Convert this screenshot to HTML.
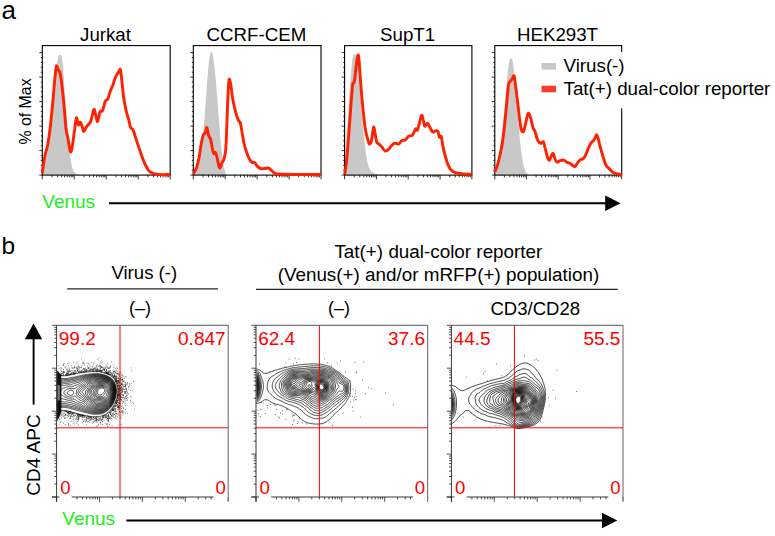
<!DOCTYPE html>
<html><head><meta charset="utf-8"><title>figure</title>
<style>html,body{margin:0;padding:0;background:#fff;}body{width:775px;height:536px;overflow:hidden;font-family:"Liberation Sans",sans-serif;}svg{display:block;}text{font-family:"Liberation Sans",sans-serif;}</style></head><body>
<svg width="775" height="536" viewBox="0 0 775 536">
<rect width="775" height="536" fill="#fff"/>
<text x="1.5" y="19" font-size="26" fill="#000">a</text>
<text x="1.5" y="253.5" font-size="24.5" fill="#000">b</text>
<text x="105.5" y="41.4" font-size="18.7" text-anchor="middle" fill="#000">Jurkat</text>
<path d="M42.3,175.0C42.5,173.4 43.1,169.6 43.8,165.4C44.5,161.2 45.6,155.4 46.4,149.7C47.3,144.0 48.2,137.9 49.1,131.4C49.9,124.9 50.8,117.9 51.7,110.5C52.5,103.1 53.5,94.0 54.3,87.0C55.1,80.0 55.7,73.7 56.4,68.7C57.0,63.7 57.6,59.3 58.2,57.0C58.8,54.7 59.5,55.0 60.0,54.9C60.6,54.8 61.1,53.9 61.6,56.2C62.1,58.5 62.6,62.7 63.2,68.7C63.7,74.7 64.1,84.0 64.7,92.2C65.3,100.5 66.1,109.7 66.8,118.4C67.5,127.1 68.2,137.3 68.9,144.5C69.6,151.7 70.3,157.2 71.0,161.5C71.7,165.7 72.3,168.1 73.1,170.1C73.9,172.1 74.7,172.6 75.7,173.5C76.7,174.3 78.3,174.8 78.8,175.0Z" fill="#c8c8c8" stroke="none"/>
<path d="M39.3,175.1h3.0M40.8,170.2h1.5M40.8,165.3h1.5M40.8,160.4h1.5M40.8,155.5h1.5M39.3,150.6h3.0M40.8,145.7h1.5M40.8,140.8h1.5M40.8,135.9h1.5M40.8,131.0h1.5M39.3,126.1h3.0M40.8,121.2h1.5M40.8,116.3h1.5M40.8,111.4h1.5M40.8,106.5h1.5M39.3,101.6h3.0M40.8,96.7h1.5M40.8,91.8h1.5M40.8,86.9h1.5M40.8,82.0h1.5M39.3,77.1h3.0M40.8,72.2h1.5M40.8,67.3h1.5M40.8,62.4h1.5M40.8,57.5h1.5M39.3,52.6h3.0M42.3,175.1v4.3M51.9,175.1v2.2M57.6,175.1v2.2M61.6,175.1v2.2M64.6,175.1v2.2M67.2,175.1v2.2M69.3,175.1v2.2M71.2,175.1v2.2M72.8,175.1v2.2M74.3,175.1v4.3M83.9,175.1v2.2M89.5,175.1v2.2M93.5,175.1v2.2M96.6,175.1v2.2M99.2,175.1v2.2M101.3,175.1v2.2M103.2,175.1v2.2M104.8,175.1v2.2M106.2,175.1v4.3M115.9,175.1v2.2M121.5,175.1v2.2M125.5,175.1v2.2M128.6,175.1v2.2M131.1,175.1v2.2M133.3,175.1v2.2M135.1,175.1v2.2M136.8,175.1v2.2M138.2,175.1v4.3M147.9,175.1v2.2M153.5,175.1v2.2M157.5,175.1v2.2M160.6,175.1v2.2M163.1,175.1v2.2M165.2,175.1v2.2M167.1,175.1v2.2M168.7,175.1v2.2M170.2,175.1v4.3" stroke="#111" stroke-width="0.85" fill="none"/>
<rect x="42.3" y="45.6" width="127.9" height="129.5" fill="none" stroke="#000" stroke-width="1.1"/>
<path d="M42.3,173.2C42.7,170.2 44.2,159.7 45.1,154.9C46.1,150.1 46.9,149.3 47.8,144.5C48.6,139.7 49.5,133.6 50.4,126.2C51.2,118.8 52.2,107.9 53.0,100.1C53.7,92.2 54.2,84.8 54.8,79.2C55.4,73.5 55.8,67.6 56.4,66.1C56.9,64.6 57.6,68.9 58.2,70.0C58.8,71.1 59.4,69.8 60.0,72.6C60.7,75.5 61.4,81.1 62.1,87.0C62.8,92.9 63.6,100.9 64.2,107.9C64.9,114.9 65.4,123.8 66.0,128.8C66.6,133.8 67.1,134.1 67.9,137.9C68.6,141.8 69.7,150.7 70.5,151.8C71.3,152.9 71.9,148.3 72.6,144.5C73.3,140.6 74.0,133.2 74.7,128.8C75.3,124.4 75.9,118.5 76.5,117.8C77.1,117.2 77.7,124.1 78.3,124.9C79.0,125.6 79.7,121.8 80.4,122.3C81.1,122.7 81.9,126.0 82.5,127.5C83.1,129.0 83.1,131.6 83.8,131.4C84.5,131.2 85.8,127.7 86.9,126.2C88.0,124.7 89.5,124.0 90.3,122.3C91.2,120.5 91.5,117.9 92.2,115.7C92.8,113.6 93.4,109.4 94.0,109.2C94.6,109.0 94.9,112.4 95.6,114.4C96.2,116.5 96.9,121.9 97.6,121.5C98.4,121.1 99.2,113.7 100.0,111.8C100.8,110.0 101.7,112.3 102.6,110.5C103.5,108.8 104.3,103.3 105.2,101.4C106.1,99.4 107.0,100.5 107.8,98.8C108.7,97.0 109.6,93.3 110.4,90.9C111.3,88.5 112.2,86.8 113.1,84.4C113.9,82.0 114.8,78.5 115.7,76.6C116.5,74.6 117.5,73.8 118.3,72.6C119.1,71.5 119.8,68.4 120.4,69.5C120.9,70.6 121.1,74.7 121.7,79.2C122.2,83.6 122.8,90.9 123.5,96.2C124.2,101.4 125.2,106.6 126.1,110.5C127.0,114.4 128.0,116.8 128.7,119.7C129.5,122.5 129.8,125.8 130.6,127.5C131.3,129.2 132.2,127.9 133.2,130.1C134.2,132.3 135.3,136.9 136.6,140.6C137.8,144.3 139.2,148.6 140.5,152.3C141.8,156.0 143.1,159.8 144.4,162.8C145.7,165.7 147.0,168.3 148.3,170.1C149.6,171.8 150.5,172.5 152.2,173.2C154.0,173.9 155.8,174.3 158.8,174.5C161.7,174.7 168.1,174.5 170.0,174.5" fill="none" stroke="#ff2200" stroke-width="2.9" stroke-linejoin="round" stroke-linecap="butt"/>
<text x="256.4" y="41.4" font-size="18.7" text-anchor="middle" fill="#000">CCRF-CEM</text>
<path d="M193.3,175.0C193.8,174.1 195.3,173.1 196.4,169.3C197.6,165.5 199.1,159.5 200.4,152.3C201.6,145.1 202.8,136.2 203.8,126.2C204.8,116.2 205.6,102.3 206.4,92.2C207.2,82.2 207.9,72.4 208.5,66.1C209.1,59.8 209.6,56.7 210.0,54.4C210.5,52.1 210.9,52.3 211.3,52.3C211.8,52.3 212.1,51.6 212.6,54.4C213.2,57.1 214.0,62.4 214.7,68.7C215.4,75.0 216.1,84.0 216.8,92.2C217.5,100.5 218.2,109.7 218.9,118.4C219.6,127.1 220.3,137.1 221.0,144.5C221.7,151.9 222.4,158.2 223.1,162.8C223.8,167.3 224.6,169.9 225.2,171.9C225.8,173.9 226.5,174.5 226.7,175.0Z" fill="#c8c8c8" stroke="none"/>
<path d="M190.3,175.1h3.0M191.8,170.2h1.5M191.8,165.3h1.5M191.8,160.4h1.5M191.8,155.5h1.5M190.3,150.6h3.0M191.8,145.7h1.5M191.8,140.8h1.5M191.8,135.9h1.5M191.8,131.0h1.5M190.3,126.1h3.0M191.8,121.2h1.5M191.8,116.3h1.5M191.8,111.4h1.5M191.8,106.5h1.5M190.3,101.6h3.0M191.8,96.7h1.5M191.8,91.8h1.5M191.8,86.9h1.5M191.8,82.0h1.5M190.3,77.1h3.0M191.8,72.2h1.5M191.8,67.3h1.5M191.8,62.4h1.5M191.8,57.5h1.5M190.3,52.6h3.0M193.3,175.1v4.3M202.9,175.1v2.2M208.5,175.1v2.2M212.5,175.1v2.2M215.6,175.1v2.2M218.1,175.1v2.2M220.3,175.1v2.2M222.1,175.1v2.2M223.8,175.1v2.2M225.2,175.1v4.3M234.8,175.1v2.2M240.5,175.1v2.2M244.4,175.1v2.2M247.5,175.1v2.2M250.1,175.1v2.2M252.2,175.1v2.2M254.1,175.1v2.2M255.7,175.1v2.2M257.1,175.1v4.3M266.8,175.1v2.2M272.4,175.1v2.2M276.4,175.1v2.2M279.5,175.1v2.2M282.0,175.1v2.2M284.1,175.1v2.2M286.0,175.1v2.2M287.6,175.1v2.2M289.1,175.1v4.3M298.7,175.1v2.2M304.3,175.1v2.2M308.3,175.1v2.2M311.4,175.1v2.2M313.9,175.1v2.2M316.1,175.1v2.2M317.9,175.1v2.2M319.5,175.1v2.2M321.0,175.1v4.3" stroke="#111" stroke-width="0.85" fill="none"/>
<rect x="193.3" y="45.6" width="127.7" height="129.5" fill="none" stroke="#000" stroke-width="1.1"/>
<path d="M193.3,173.7C193.8,172.8 195.5,170.7 196.4,168.0C197.4,165.3 198.3,161.5 199.1,157.5C199.8,153.6 200.5,148.2 201.1,144.5C201.8,140.8 202.5,137.3 203.2,135.3C203.9,133.4 204.7,134.0 205.3,132.7C205.9,131.4 206.4,127.1 206.9,127.5C207.4,127.9 207.9,133.4 208.5,135.3C209.1,137.3 209.9,137.3 210.6,139.3C211.2,141.2 211.6,144.7 212.1,147.1C212.6,149.5 213.2,152.7 213.7,153.6C214.2,154.5 214.7,151.9 215.3,152.3C215.8,152.7 216.3,154.3 216.8,156.2C217.3,158.2 217.9,162.1 218.4,164.1C218.9,166.0 219.3,168.2 220.0,168.0C220.6,167.8 221.3,164.3 222.0,162.8C222.7,161.2 223.5,161.0 224.1,158.8C224.7,156.7 225.3,154.7 225.7,149.7C226.1,144.7 226.4,137.1 226.7,128.8C227.1,120.5 227.4,107.9 227.8,100.1C228.1,92.2 228.5,85.2 228.8,81.8C229.1,78.4 229.3,79.0 229.6,79.7C230.0,80.4 230.4,82.7 230.9,85.7C231.4,88.7 231.9,93.8 232.5,97.5C233.1,101.2 233.9,104.9 234.6,107.9C235.3,111.0 236.0,113.6 236.7,115.7C237.4,117.9 238.2,119.8 238.8,121.0C239.4,122.2 239.8,121.3 240.3,123.1C240.9,124.8 241.3,128.1 241.9,131.4C242.5,134.8 243.2,139.7 244.0,143.2C244.8,146.7 245.7,149.7 246.6,152.3C247.5,154.9 248.3,157.2 249.2,158.8C250.1,160.5 250.9,161.6 251.8,162.2C252.8,162.9 254.1,162.2 255.0,162.8C255.8,163.4 256.1,164.9 257.0,165.9C258.0,166.9 259.2,168.1 260.4,168.5C261.7,168.9 263.1,168.6 264.4,168.5C265.7,168.4 267.2,167.8 268.3,168.0C269.4,168.2 269.8,168.9 270.9,169.8C272.0,170.7 272.8,172.5 274.8,173.2C276.8,173.9 274.9,174.0 282.6,174.3C290.3,174.5 314.6,174.5 321.0,174.5" fill="none" stroke="#ff2200" stroke-width="2.9" stroke-linejoin="round" stroke-linecap="butt"/>
<text x="407.6" y="41.4" font-size="18.7" text-anchor="middle" fill="#000">SupT1</text>
<path d="M344.6,175.0C344.8,169.9 345.4,153.9 345.9,144.5C346.4,135.0 347.1,127.1 347.8,118.4C348.4,109.7 348.9,100.9 349.6,92.2C350.2,83.5 351.1,72.2 351.7,66.1C352.3,60.0 352.5,57.5 353.2,55.7C353.9,53.8 355.2,54.7 355.9,55.1C356.5,55.6 356.8,53.8 357.4,58.3C358.0,62.7 358.8,73.1 359.5,81.8C360.2,90.5 360.9,101.8 361.6,110.5C362.3,119.2 363.0,127.1 363.7,134.0C364.4,141.0 365.1,147.3 365.8,152.3C366.5,157.3 367.1,161.0 367.9,164.1C368.6,167.1 369.3,169.0 370.5,170.6C371.7,172.2 373.1,173.0 375.2,173.7C377.3,174.5 381.7,174.8 383.0,175.0Z" fill="#c8c8c8" stroke="none"/>
<path d="M341.6,175.1h3.0M343.1,170.2h1.5M343.1,165.3h1.5M343.1,160.4h1.5M343.1,155.5h1.5M341.6,150.6h3.0M343.1,145.7h1.5M343.1,140.8h1.5M343.1,135.9h1.5M343.1,131.0h1.5M341.6,126.1h3.0M343.1,121.2h1.5M343.1,116.3h1.5M343.1,111.4h1.5M343.1,106.5h1.5M341.6,101.6h3.0M343.1,96.7h1.5M343.1,91.8h1.5M343.1,86.9h1.5M343.1,82.0h1.5M341.6,77.1h3.0M343.1,72.2h1.5M343.1,67.3h1.5M343.1,62.4h1.5M343.1,57.5h1.5M341.6,52.6h3.0M344.6,175.1v4.3M354.2,175.1v2.2M359.8,175.1v2.2M363.8,175.1v2.2M366.8,175.1v2.2M369.4,175.1v2.2M371.5,175.1v2.2M373.3,175.1v2.2M375.0,175.1v2.2M376.4,175.1v4.3M386.0,175.1v2.2M391.6,175.1v2.2M395.6,175.1v2.2M398.7,175.1v2.2M401.2,175.1v2.2M403.3,175.1v2.2M405.2,175.1v2.2M406.8,175.1v2.2M408.2,175.1v4.3M417.8,175.1v2.2M423.4,175.1v2.2M427.4,175.1v2.2M430.5,175.1v2.2M433.0,175.1v2.2M435.1,175.1v2.2M437.0,175.1v2.2M438.6,175.1v2.2M440.1,175.1v4.3M449.7,175.1v2.2M455.3,175.1v2.2M459.2,175.1v2.2M462.3,175.1v2.2M464.8,175.1v2.2M467.0,175.1v2.2M468.8,175.1v2.2M470.4,175.1v2.2M471.9,175.1v4.3" stroke="#111" stroke-width="0.85" fill="none"/>
<rect x="344.6" y="45.6" width="127.3" height="129.5" fill="none" stroke="#000" stroke-width="1.1"/>
<path d="M344.6,174.5C344.9,172.6 345.9,167.8 346.4,162.8C347.0,157.8 347.5,151.0 348.0,144.5C348.5,137.9 349.1,130.5 349.6,123.6C350.1,116.6 350.6,109.2 351.1,102.7C351.7,96.2 352.2,87.9 352.7,84.4C353.2,80.9 353.8,84.4 354.3,81.8C354.8,79.2 355.3,72.9 355.9,68.7C356.4,64.6 357.0,59.2 357.4,57.0C357.9,54.8 358.1,54.1 358.5,55.7C358.8,57.2 359.2,61.8 359.5,66.1C359.9,70.5 360.1,76.1 360.6,81.8C361.0,87.5 361.6,94.4 362.1,100.1C362.6,105.7 363.2,111.0 363.7,115.7C364.2,120.5 364.6,125.1 365.3,128.8C365.9,132.5 366.6,135.4 367.3,137.9C368.0,140.5 368.7,143.5 369.4,144.0C370.1,144.4 371.0,142.6 371.5,140.6C372.1,138.5 372.4,133.7 372.8,131.4C373.2,129.2 373.5,126.5 373.9,127.0C374.3,127.4 374.7,131.5 375.2,134.0C375.7,136.5 376.0,140.1 376.7,141.9C377.4,143.6 378.5,143.6 379.4,144.5C380.2,145.3 381.0,146.0 382.0,147.1C382.9,148.2 384.1,150.6 385.1,151.0C386.1,151.4 387.2,150.6 388.2,149.7C389.3,148.8 390.3,146.9 391.4,145.8C392.5,144.7 393.5,143.5 394.8,143.2C396.0,142.9 397.5,144.4 398.7,144.0C399.9,143.5 400.7,141.2 401.8,140.6C402.9,139.9 404.1,140.8 405.2,140.0C406.3,139.3 407.4,136.9 408.6,136.1C409.8,135.3 411.1,136.6 412.3,135.3C413.4,134.1 414.8,129.7 415.7,128.8C416.5,127.9 416.8,131.2 417.5,130.1C418.1,129.0 418.9,124.8 419.6,122.3C420.3,119.8 421.1,115.7 421.7,115.2C422.3,114.8 422.7,117.8 423.2,119.7C423.8,121.5 424.1,125.6 424.8,126.2C425.5,126.8 426.5,122.8 427.4,123.1C428.3,123.3 429.2,126.0 430.0,127.5C430.9,129.0 431.8,131.4 432.6,131.9C433.5,132.5 434.4,131.0 435.3,130.9C436.1,130.8 437.2,130.4 437.9,131.4C438.6,132.5 438.9,136.3 439.4,137.2C440.0,138.0 440.7,135.0 441.3,136.6C441.9,138.3 442.3,143.6 443.1,147.1C443.8,150.6 444.8,154.5 445.7,157.5C446.6,160.6 447.4,163.3 448.3,165.4C449.2,167.4 449.8,168.6 450.9,169.8C452.0,171.0 453.1,171.8 454.8,172.4C456.6,173.1 458.5,173.4 461.4,173.7C464.2,174.0 470.1,174.2 471.8,174.3" fill="none" stroke="#ff2200" stroke-width="2.9" stroke-linejoin="round" stroke-linecap="butt"/>
<text x="557.5" y="41.4" font-size="18.7" text-anchor="middle" fill="#000">HEK293T</text>
<path d="M494.8,175.0C495.1,173.9 496.1,171.8 496.9,168.0C497.7,164.2 498.6,158.4 499.5,152.3C500.4,146.2 501.2,139.3 502.1,131.4C503.0,123.6 503.8,114.4 504.7,105.3C505.6,96.2 506.5,84.0 507.3,76.6C508.1,69.2 508.8,63.9 509.4,60.9C510.0,57.8 510.5,58.3 511.0,58.3C511.5,58.3 512.0,58.7 512.6,60.9C513.1,63.1 513.5,65.7 514.1,71.3C514.7,77.0 515.5,86.6 516.2,94.9C516.9,103.1 517.6,112.7 518.3,121.0C519.0,129.2 519.7,137.9 520.4,144.5C521.1,151.0 521.8,156.0 522.5,160.1C523.2,164.3 523.8,167.0 524.6,169.3C525.4,171.6 526.4,172.8 527.2,173.7C528.0,174.7 528.9,174.8 529.3,175.0Z" fill="#c8c8c8" stroke="none"/>
<path d="M491.8,175.1h3.0M493.3,170.2h1.5M493.3,165.3h1.5M493.3,160.4h1.5M493.3,155.5h1.5M491.8,150.6h3.0M493.3,145.7h1.5M493.3,140.8h1.5M493.3,135.9h1.5M493.3,131.0h1.5M491.8,126.1h3.0M493.3,121.2h1.5M493.3,116.3h1.5M493.3,111.4h1.5M493.3,106.5h1.5M491.8,101.6h3.0M493.3,96.7h1.5M493.3,91.8h1.5M493.3,86.9h1.5M493.3,82.0h1.5M491.8,77.1h3.0M493.3,72.2h1.5M493.3,67.3h1.5M493.3,62.4h1.5M493.3,57.5h1.5M491.8,52.6h3.0M494.8,175.1v4.3M504.4,175.1v2.2M509.9,175.1v2.2M513.9,175.1v2.2M517.0,175.1v2.2M519.5,175.1v2.2M521.6,175.1v2.2M523.5,175.1v2.2M525.1,175.1v2.2M526.5,175.1v4.3M536.1,175.1v2.2M541.7,175.1v2.2M545.6,175.1v2.2M548.7,175.1v2.2M551.2,175.1v2.2M553.3,175.1v2.2M555.2,175.1v2.2M556.8,175.1v2.2M558.2,175.1v4.3M567.8,175.1v2.2M573.4,175.1v2.2M577.4,175.1v2.2M580.4,175.1v2.2M582.9,175.1v2.2M585.1,175.1v2.2M586.9,175.1v2.2M588.5,175.1v2.2M590.0,175.1v4.3M599.5,175.1v2.2M605.1,175.1v2.2M609.1,175.1v2.2M612.1,175.1v2.2M614.7,175.1v2.2M616.8,175.1v2.2M618.6,175.1v2.2M620.2,175.1v2.2M621.7,175.1v4.3" stroke="#111" stroke-width="0.85" fill="none"/>
<rect x="494.8" y="45.6" width="126.9" height="129.5" fill="none" stroke="#000" stroke-width="1.1"/>
<path d="M494.8,171.9C495.2,170.8 496.5,168.2 497.4,165.4C498.3,162.5 499.2,158.4 500.0,154.9C500.8,151.4 501.4,148.8 502.1,144.5C502.8,140.1 503.5,134.9 504.2,128.8C504.9,122.7 505.6,115.1 506.3,107.9C507.0,100.7 507.8,90.1 508.4,85.7C509.0,81.4 509.3,82.9 509.9,81.8C510.5,80.7 511.3,80.2 512.0,79.2C512.7,78.2 513.6,75.1 514.1,75.8C514.6,76.4 514.7,79.9 515.2,83.1C515.6,86.3 516.2,90.7 516.7,94.9C517.3,99.0 517.8,103.6 518.3,107.9C518.8,112.3 519.3,117.3 519.9,121.0C520.4,124.7 520.8,128.4 521.4,130.1C522.0,131.9 522.8,132.5 523.5,131.4C524.2,130.3 524.9,126.4 525.6,123.6C526.3,120.8 527.1,116.1 527.7,114.4C528.3,112.8 528.5,113.0 529.0,113.7C529.5,114.3 530.2,116.1 530.8,118.4C531.5,120.7 532.2,125.3 532.9,127.5C533.6,129.7 534.3,129.5 535.0,131.4C535.7,133.3 536.4,136.9 537.1,138.7C537.8,140.6 538.5,141.6 539.2,142.4C539.9,143.1 540.6,143.3 541.3,143.2C542.0,143.1 542.7,140.8 543.4,141.9C544.1,143.0 544.8,147.1 545.5,149.7C546.2,152.3 546.9,155.8 547.6,157.5C548.2,159.3 548.9,160.6 549.6,160.1C550.3,159.7 551.1,156.0 551.7,154.9C552.3,153.8 552.8,153.0 553.3,153.6C553.8,154.3 554.3,157.4 554.9,158.8C555.5,160.3 556.1,161.9 557.0,162.2C557.8,162.5 559.0,161.0 560.1,160.7C561.2,160.3 562.6,159.9 563.7,160.1C564.9,160.4 565.8,161.7 566.9,162.2C567.9,162.8 569.1,162.8 570.0,163.3C571.0,163.8 571.8,164.8 572.6,165.4C573.4,165.9 573.9,167.0 574.7,166.7C575.5,166.3 576.4,164.5 577.3,163.3C578.3,162.1 579.5,160.4 580.5,159.6C581.4,158.9 582.2,159.6 583.1,158.8C583.9,158.1 584.8,156.7 585.7,154.9C586.6,153.2 587.4,150.4 588.3,148.4C589.2,146.4 590.0,144.5 590.9,143.2C591.8,141.9 592.8,141.4 593.5,140.6C594.2,139.7 594.6,138.9 595.1,137.9C595.6,136.9 596.1,134.4 596.7,134.6C597.2,134.7 597.6,136.6 598.2,138.7C598.8,140.8 599.5,144.2 600.3,147.1C601.1,150.0 602.0,153.2 602.9,156.2C603.9,159.3 605.0,163.3 606.1,165.4C607.1,167.4 608.1,167.4 609.2,168.5C610.2,169.6 611.2,171.0 612.3,171.9C613.5,172.8 614.4,173.3 616.0,173.7C617.6,174.2 621.0,174.4 622.0,174.5" fill="none" stroke="#ff2200" stroke-width="2.9" stroke-linejoin="round" stroke-linecap="butt"/>
<text transform="translate(31.3,111.5) rotate(-90)" font-size="15.9" text-anchor="middle" fill="#000">% of Max</text>
<rect x="537" y="52" width="238" height="56.3" fill="#fff"/>
<rect x="541.5" y="63" width="14.5" height="6.6" fill="#c8c8c8"/>
<rect x="541.5" y="85.7" width="14.5" height="6.6" fill="#ff3a2e"/>
<text x="563.5" y="72.4" font-size="18.75" fill="#000">Virus(-)</text>
<text x="563.5" y="95.2" font-size="18.75" fill="#000">Tat(+) dual-color reporter</text>
<text x="42.3" y="207.6" font-size="19" fill="#19f019">Venus</text>
<path d="M109,203.2H606" stroke="#000" stroke-width="1.9"/>
<path d="M605.2,195.5L620.6,203.2L605.2,211Z" fill="#000"/>
<text x="144.3" y="278.5" font-size="18.6" text-anchor="middle" fill="#000">Virus (-)</text>
<path d="M67.2,288.9H217.9" stroke="#222" stroke-width="1.3"/>
<text x="140" y="314.3" font-size="18" text-anchor="middle" fill="#000">(–)</text>
<text x="438.4" y="257.8" font-size="18.85" text-anchor="middle" fill="#000">Tat(+) dual-color reporter</text>
<text x="438.4" y="281" font-size="18.85" text-anchor="middle" fill="#000">(Venus(+) and/or mRFP(+) population)</text>
<path d="M256,289.4H617.8" stroke="#222" stroke-width="1.3"/>
<text x="339" y="314.3" font-size="18" text-anchor="middle" fill="#000">(–)</text>
<text x="535.3" y="315.3" font-size="18.55" text-anchor="middle" fill="#000">CD3/CD28</text>
<text transform="translate(40,455) rotate(-90)" font-size="19" text-anchor="middle" fill="#000">CD4 APC</text>
<path d="M33.6,404.6V338" stroke="#000" stroke-width="1.9"/>
<path d="M24.8,339.2L33.6,323.6L42.2,339.2Z" fill="#000"/>
<text x="62.3" y="524.7" font-size="19" fill="#19f019">Venus</text>
<path d="M126.3,520.5H603" stroke="#000" stroke-width="1.9"/>
<path d="M602,512.8L617.3,520.5L602,528.3Z" fill="#000"/>
<clipPath id="c1"><rect x="57.2" y="326" width="170.5" height="170.5"/></clipPath>
<g clip-path="url(#c1)"><path d="M40.1,387.4L40.4,387.1L40.5,386.4L40.6,385.8L40.8,385.1L40.9,384.4L41.0,383.9L41.1,383.1L41.2,382.6L41.3,381.9L41.4,381.4L41.6,380.9L41.9,380.4L42.1,379.9L42.4,379.3L42.6,378.7L42.9,378.2L43.1,377.7L43.4,377.3L43.8,376.9L44.1,376.6L44.6,376.3L45.1,376.0L45.6,375.7L46.1,375.4L46.5,375.1L47.1,375.0L47.9,374.9L48.6,374.9L49.4,374.9L50.1,374.9L50.9,374.9L51.6,374.9L52.4,374.9L53.1,374.9L53.9,374.9L54.6,374.9L55.4,374.9L56.1,374.9L56.9,375.0L57.6,375.1L58.1,375.2L58.9,375.2L59.6,375.3L60.1,375.4L60.9,375.6L61.4,375.6L62.1,375.7L62.9,375.7L63.6,375.7L64.4,375.7L65.1,375.7L65.9,375.7L66.6,375.6L67.1,375.6L67.9,375.4L68.4,375.2L69.1,375.1L69.6,375.0L70.2,374.9L70.9,374.7L71.4,374.6L72.1,374.5L72.7,374.4L73.4,374.2L73.9,374.1L74.6,374.0L75.2,373.9L75.9,373.7L76.4,373.6L77.1,373.4L77.6,373.4L78.4,373.2L79.1,373.1L79.6,373.0L80.3,372.9L80.9,372.7L81.6,372.6L82.1,372.6L82.9,372.4L83.6,372.4L84.1,372.3L84.9,372.2L85.6,372.1L86.1,372.1L86.9,371.9L87.5,371.9L88.1,371.9L88.9,371.9L89.6,371.8L90.4,371.8L91.1,371.7L91.6,371.6L92.4,371.6L93.1,371.6L93.9,371.6L94.6,371.6L95.4,371.6L96.1,371.6L96.9,371.6L97.6,371.6L98.4,371.6L98.9,371.6L99.6,371.8L100.1,371.9L100.9,372.1L101.4,372.2L102.1,372.3L102.6,372.5L103.3,372.6L103.9,372.8L104.4,373.0L105.0,373.1L105.6,373.4L106.1,373.5L106.6,373.7L107.1,373.9L107.6,374.1L108.2,374.4L108.6,374.6L109.1,375.0L109.6,375.2L110.1,375.5L110.6,375.8L111.1,376.1L111.5,376.4L111.9,376.6L112.4,377.0L112.7,377.4L113.1,377.8L113.5,378.1L113.8,378.6L114.1,379.0L114.4,379.4L114.7,379.9L115.0,380.4L115.2,380.9L115.5,381.4L115.7,381.9L115.9,382.4L116.1,382.9L116.4,383.4L116.6,383.9L116.9,384.6L117.0,385.1L117.1,385.7L117.3,386.4L117.4,387.0L117.4,387.6L117.5,388.4L117.6,388.9L117.6,389.6L117.6,390.4L117.6,391.1L117.7,391.9L117.7,392.6L117.6,393.2L117.5,393.9L117.4,394.6L117.4,395.2L117.2,395.9L117.1,396.6L117.0,397.1L116.9,397.7L116.7,398.4L116.5,398.9L116.3,399.4L116.1,399.9L115.9,400.5L115.7,401.1L115.5,401.6L115.3,402.1L115.1,402.6L114.9,403.2L114.6,403.8L114.4,404.3L114.1,404.8L113.9,405.3L113.6,405.8L113.4,406.3L113.1,406.7L112.8,407.1L112.6,407.6L112.2,408.1L111.9,408.6L111.6,408.9L111.2,409.4L110.9,409.8L110.6,410.1L110.1,410.6L109.9,410.9L109.4,411.4L109.1,411.6L108.6,411.9L108.1,412.4L107.8,412.6L107.4,413.0L106.9,413.4L106.5,413.6L106.1,413.9L105.6,414.2L105.1,414.5L104.6,414.8L104.1,415.0L103.6,415.2L103.1,415.4L102.6,415.6L102.0,415.9L101.4,416.0L100.9,416.1L100.1,416.3L99.6,416.4L98.9,416.6L98.4,416.6L97.6,416.6L96.9,416.6L96.1,416.7L95.4,416.9L94.6,416.9L93.9,416.8L93.1,416.8L92.4,416.6L91.9,416.6L91.1,416.5L90.5,416.4L89.9,416.3L89.1,416.3L88.6,416.1L87.9,416.0L87.4,415.9L86.6,415.8L86.0,415.6L85.4,415.5L84.8,415.4L84.1,415.3L83.4,415.1L82.9,415.0L82.1,414.9L81.6,414.8L80.9,414.7L80.4,414.5L79.9,414.4L79.1,414.2L78.6,414.0L78.1,413.9L77.4,413.7L76.9,413.5L76.4,413.4L75.6,413.2L75.1,413.1L74.4,412.9L73.9,412.7L73.4,412.6L72.6,412.4L72.1,412.3L71.6,412.1L70.9,411.9L70.4,411.7L69.9,411.6L69.1,411.4L68.6,411.2L68.1,411.1L67.5,410.9L66.9,410.8L66.1,410.7L65.6,410.6L64.9,410.5L64.2,410.4L63.6,410.3L62.9,410.3L62.1,410.3L61.4,410.3L60.6,410.3L60.0,410.4L59.4,410.5L58.6,410.6L57.9,410.6L57.1,410.6L56.4,410.6L55.6,410.6L54.9,410.6L54.1,410.6L53.4,410.6L52.6,410.6L51.9,410.5L51.1,410.6L50.6,410.6L49.9,410.8L49.1,410.8L48.4,410.8L47.6,410.8L46.9,410.8L46.4,410.6L45.9,410.2L45.4,409.9L45.1,409.6L44.6,409.3L44.1,408.9L43.8,408.6L43.4,408.2L43.1,407.7L42.9,407.3L42.6,406.8L42.4,406.2L42.1,405.6L41.9,405.1L41.6,404.6L41.4,404.1L41.3,403.6L41.2,402.9L41.1,402.4L41.0,401.6L40.9,401.0L40.8,400.4L40.6,399.7L40.5,399.1L40.4,398.4L40.1,398.1M40.1,389.7L40.8,389.6L41.4,389.4L41.8,389.1L42.1,388.8L42.4,388.4L42.6,387.8L42.8,387.1L42.9,386.4L43.0,385.9L43.1,385.3L43.3,384.6L43.4,384.1L43.6,383.4L43.7,382.9L43.9,382.4L44.1,381.7L44.4,381.3L44.6,380.8L44.9,380.4L45.1,379.8L45.4,379.4L45.9,378.9L46.3,378.6L46.8,378.4L47.3,378.1L47.9,377.9L48.6,377.9L49.3,377.9L49.9,377.9L50.6,377.9L51.4,377.8L52.1,377.8L52.9,377.8L53.6,377.8L54.4,377.8L55.1,377.8L55.9,377.9L56.4,377.9L57.1,378.0L57.9,378.1L58.6,378.1L59.1,378.2L59.9,378.3L60.4,378.5L61.1,378.5L61.9,378.5L62.6,378.5L63.4,378.5L64.1,378.5L64.9,378.5L65.6,378.5L66.4,378.5L67.1,378.4L67.7,378.4L68.4,378.2L68.9,378.1L69.6,378.0L70.1,377.9L70.9,377.7L71.4,377.6L72.1,377.4L72.6,377.3L73.4,377.2L73.9,377.1L74.6,377.0L75.2,376.9L75.9,376.7L76.4,376.6L77.1,376.4L77.6,376.3L78.4,376.1L78.9,376.0L79.4,375.9L80.1,375.7L80.6,375.6L81.4,375.4L81.9,375.3L82.6,375.1L83.1,375.0L83.9,374.9L84.4,374.9L85.1,374.7L85.6,374.6L86.4,374.5L87.1,374.4L87.6,374.3L88.4,374.2L89.1,374.1L89.6,374.1L90.4,374.1L91.1,374.0L91.8,373.9L92.4,373.8L93.1,373.7L93.9,373.7L94.6,373.7L95.4,373.6L95.9,373.6L96.6,373.6L97.4,373.6L98.1,373.6L98.6,373.7L99.4,373.8L99.9,373.9L100.6,374.0L101.2,374.1L101.9,374.3L102.4,374.4L103.1,374.5L103.6,374.7L104.4,374.9L104.9,375.0L105.4,375.2L105.9,375.4L106.6,375.6L107.1,375.8L107.6,376.1L108.1,376.4L108.6,376.6L109.1,376.8L109.6,377.1L110.1,377.4L110.5,377.6L110.9,377.9L111.4,378.3L111.8,378.6L112.1,379.0L112.5,379.4L112.9,379.9L113.1,380.2L113.4,380.6L113.7,381.1L114.0,381.6L114.3,382.1L114.5,382.6L114.7,383.1L115.0,383.6L115.2,384.1L115.5,384.6L115.6,385.2L115.8,385.9L115.9,386.4L116.1,387.1L116.1,387.6L116.2,388.4L116.4,389.1L116.4,389.6L116.4,390.4L116.4,391.1L116.4,391.9L116.4,392.6L116.3,393.1L116.2,393.9L116.2,394.6L116.1,395.1L115.9,395.9L115.9,396.4L115.7,397.1L115.5,397.6L115.4,398.1L115.1,398.7L114.9,399.3L114.7,399.9L114.5,400.4L114.3,400.9L114.1,401.4L113.9,401.9L113.6,402.5L113.4,403.1L113.1,403.6L112.9,404.1L112.6,404.5L112.4,404.9L112.1,405.4L111.8,405.9L111.5,406.4L111.1,406.9L110.9,407.3L110.6,407.6L110.1,408.1L109.9,408.4L109.4,408.9L109.1,409.2L108.7,409.6L108.4,409.9L107.9,410.2L107.4,410.5L107.0,410.9L106.6,411.1L106.1,411.5L105.6,411.8L105.1,412.1L104.6,412.4L104.2,412.6L103.7,412.9L103.1,413.1L102.6,413.3L102.1,413.4L101.6,413.6L100.9,413.8L100.4,413.9L99.6,414.0L99.1,414.1L98.4,414.2L97.6,414.2L96.9,414.2L96.1,414.2L95.4,414.3L94.6,414.3L93.9,414.3L93.1,414.1L92.6,414.1L91.9,414.0L91.4,413.9L90.6,413.7L89.9,413.6L89.4,413.5L88.9,413.4L88.1,413.2L87.6,413.0L86.9,412.9L86.4,412.8L85.7,412.6L85.1,412.5L84.5,412.4L83.9,412.2L83.4,412.1L82.7,411.9L82.1,411.7L81.6,411.6L80.9,411.4L80.4,411.2L79.9,411.1L79.3,410.9L78.6,410.7L78.1,410.6L77.5,410.4L76.9,410.2L76.4,410.1L75.6,409.9L75.1,409.8L74.6,409.6L73.9,409.5L73.4,409.3L72.6,409.2L72.1,409.1L71.4,408.9L70.9,408.7L70.4,408.6L69.6,408.4L69.1,408.2L68.6,408.1L67.9,407.9L67.4,407.8L66.6,407.7L66.1,407.6L65.4,407.5L64.6,407.4L64.1,407.3L63.4,407.3L62.6,407.3L61.9,407.4L61.2,407.4L60.6,407.4L59.9,407.4L59.1,407.5L58.4,407.6L57.6,407.6L56.9,407.6L56.1,407.6L55.4,407.6L54.6,407.6L53.9,407.6L53.1,407.6L52.4,407.6L51.6,407.6L50.9,407.6L50.2,407.6L49.6,407.7L48.9,407.7L48.1,407.7L47.6,407.6L47.1,407.2L46.6,406.9L46.2,406.6L45.9,406.3L45.5,405.9L45.2,405.4L44.9,404.9L44.6,404.5L44.4,404.1L44.1,403.6L43.9,403.0L43.7,402.4L43.6,401.9L43.4,401.1L43.3,400.6L43.1,399.9L43.0,399.4L42.9,398.8L42.8,398.1L42.6,397.6L42.4,397.1L42.0,396.6L41.6,396.3L41.1,396.0L40.6,395.9L40.1,395.8M40.1,390.5L40.9,390.4L41.4,390.3L41.9,390.0L42.4,389.7L42.7,389.4L43.0,388.9L43.3,388.4L43.4,387.9L43.6,387.1L43.6,386.6L43.8,385.9L44.0,385.4L44.1,384.9L44.4,384.1L44.5,383.6L44.7,383.1L44.9,382.5L45.1,382.0L45.4,381.5L45.6,381.1L45.9,380.6L46.2,380.1L46.6,379.7L47.1,379.4L47.6,379.2L48.1,379.0L48.9,379.0L49.6,378.9L50.4,378.9L51.1,378.9L51.9,378.9L52.6,378.9L53.4,378.9L54.1,378.9L54.9,378.9L55.6,378.9L56.4,379.0L57.1,379.1L57.6,379.1L58.4,379.2L59.1,379.3L59.6,379.4L60.4,379.6L60.9,379.7L61.6,379.7L62.4,379.7L63.1,379.7L63.6,379.6L64.4,379.6L65.1,379.5L65.9,379.5L66.6,379.5L67.4,379.5L68.1,379.4L68.6,379.3L69.2,379.1L69.9,379.0L70.4,378.9L71.1,378.7L71.6,378.6L72.4,378.5L72.9,378.4L73.6,378.2L74.3,378.1L74.9,378.0L75.6,377.9L76.1,377.8L76.7,377.6L77.4,377.5L77.9,377.3L78.6,377.1L79.1,377.0L79.6,376.9L80.4,376.6L80.9,376.5L81.4,376.3L82.1,376.1L82.6,376.0L83.2,375.9L83.9,375.8L84.6,375.7L85.1,375.5L85.9,375.4L86.4,375.3L87.1,375.2L87.6,375.1L88.4,374.9L89.1,374.9L89.6,374.8L90.4,374.8L91.1,374.7L91.6,374.6L92.4,374.5L93.1,374.4L93.6,374.4L94.4,374.3L95.1,374.3L95.9,374.2L96.6,374.2L97.4,374.2L98.1,374.2L98.9,374.3L99.4,374.4L100.1,374.5L100.8,374.6L101.4,374.7L102.1,374.9L102.6,375.0L103.2,375.1L103.9,375.3L104.4,375.4L105.0,375.6L105.6,375.8L106.1,376.0L106.6,376.2L107.1,376.4L107.6,376.6L108.1,376.9L108.6,377.1L109.1,377.4L109.6,377.7L110.1,378.0L110.6,378.3L111.1,378.6L111.4,378.9L111.9,379.4L112.1,379.7L112.5,380.1L112.9,380.6L113.1,381.0L113.4,381.4L113.7,381.9L113.9,382.4L114.2,382.9L114.4,383.4L114.7,383.9L114.9,384.4L115.2,384.9L115.4,385.6L115.5,386.1L115.6,386.7L115.8,387.4L115.8,388.1L115.9,388.6L116.0,389.4L116.1,390.1L116.1,390.9L116.1,391.6L116.1,392.4L116.0,393.1L115.9,393.7L115.8,394.4L115.7,395.1L115.6,395.6L115.5,396.4L115.4,396.9L115.2,397.6L115.0,398.1L114.8,398.6L114.6,399.1L114.4,399.6L114.1,400.3L113.9,400.9L113.7,401.4L113.4,401.9L113.3,402.4L113.0,402.9L112.8,403.4L112.5,403.9L112.2,404.4L111.9,404.9L111.6,405.4L111.4,405.7L111.1,406.1L110.8,406.6L110.4,407.1L110.1,407.5L109.7,407.9L109.4,408.2L108.9,408.6L108.6,409.0L108.1,409.4L107.8,409.6L107.4,409.9L106.9,410.2L106.4,410.6L106.0,410.9L105.6,411.1L105.1,411.4L104.6,411.7L104.1,411.9L103.6,412.2L103.1,412.4L102.5,412.6L101.9,412.8L101.4,413.0L100.7,413.1L100.1,413.2L99.4,413.3L98.9,413.4L98.1,413.5L97.4,413.4L96.6,413.4L96.1,413.4L95.6,413.4L94.9,413.5L94.1,413.4L93.6,413.4L92.9,413.2L92.1,413.2L91.6,413.1L90.9,412.9L90.4,412.8L89.6,412.7L89.1,412.5L88.6,412.4L87.9,412.1L87.4,412.0L86.7,411.9L86.1,411.7L85.6,411.6L84.9,411.4L84.4,411.3L83.8,411.1L83.1,410.9L82.6,410.7L82.1,410.6L81.5,410.4L80.9,410.1L80.4,410.0L79.9,409.8L79.1,409.6L78.6,409.5L78.1,409.4L77.4,409.1L76.9,409.0L76.4,408.9L75.6,408.7L75.1,408.6L74.4,408.4L73.9,408.2L73.3,408.1L72.6,408.0L72.1,407.9L71.4,407.7L70.9,407.6L70.1,407.4L69.6,407.2L69.1,407.1L68.5,406.9L67.9,406.8L67.1,406.6L66.6,406.6L65.9,406.5L65.2,406.4L64.6,406.3L63.9,406.2L63.1,406.2L62.4,406.2L61.6,406.3L60.9,406.3L60.1,406.3L59.4,406.3L58.7,406.4L58.1,406.4L57.4,406.4L56.6,406.4L55.9,406.4L55.1,406.4L54.4,406.4L53.6,406.4L52.9,406.5L52.1,406.5L51.4,406.5L50.6,406.5L49.9,406.5L49.1,406.6L48.4,406.5L47.9,406.3L47.4,406.0L46.9,405.6L46.6,405.4L46.2,404.9L45.9,404.4L45.6,404.0L45.3,403.6L45.0,403.1L44.8,402.6L44.6,402.1L44.4,401.4L44.3,400.9L44.1,400.3L44.0,399.6L43.8,399.1L43.7,398.4L43.6,397.9L43.4,397.3L43.1,396.8L42.8,396.4L42.4,395.9L42.0,395.6L41.6,395.4L40.9,395.1L40.4,395.0L40.1,395.0M40.1,391.4L40.9,391.3L41.5,391.1L42.1,390.9L42.5,390.6L42.9,390.4L43.4,389.9L43.6,389.5L43.9,389.1L44.1,388.5L44.3,387.9L44.4,387.4L44.5,386.6L44.7,386.1L44.9,385.6L45.1,384.9L45.3,384.4L45.5,383.9L45.7,383.4L45.9,382.9L46.1,382.4L46.5,381.9L46.8,381.4L47.1,380.9L47.4,380.6L47.9,380.3L48.6,380.1L49.1,380.1L49.9,380.1L50.6,380.1L51.4,380.1L52.1,380.1L52.7,380.1L53.4,380.2L54.1,380.2L54.9,380.2L55.6,380.2L56.4,380.3L57.1,380.3L57.9,380.4L58.4,380.4L59.1,380.6L59.6,380.8L60.1,380.9L60.9,381.0L61.6,381.0L62.4,381.0L63.1,380.9L63.6,380.9L64.4,380.8L65.1,380.7L65.9,380.7L66.6,380.7L67.4,380.6L67.9,380.6L68.6,380.4L69.1,380.3L69.9,380.1L70.4,380.0L71.0,379.9L71.6,379.7L72.1,379.6L72.9,379.5L73.6,379.4L74.1,379.3L74.9,379.1L75.4,379.0L76.1,378.9L76.6,378.8L77.3,378.6L77.9,378.5L78.4,378.3L79.1,378.1L79.6,378.0L80.1,377.8L80.6,377.6L81.2,377.4L81.9,377.1L82.4,377.0L82.9,376.8L83.6,376.6L84.1,376.6L84.9,376.4L85.4,376.3L86.1,376.2L86.6,376.1L87.4,375.9L87.9,375.8L88.6,375.7L89.1,375.6L89.9,375.5L90.6,375.4L91.1,375.4L91.9,375.2L92.4,375.1L93.1,375.0L93.9,374.9L94.6,374.9L95.1,374.9L95.9,374.8L96.6,374.8L97.4,374.8L98.1,374.8L98.6,374.9L99.4,375.0L100.1,375.1L100.6,375.1L101.4,375.3L102.0,375.4L102.6,375.5L103.1,375.6L103.9,375.8L104.4,375.9L105.0,376.1L105.6,376.3L106.1,376.5L106.6,376.7L107.1,376.9L107.6,377.2L108.1,377.4L108.6,377.6L109.1,377.9L109.6,378.2L110.1,378.5L110.6,378.8L111.0,379.1L111.4,379.4L111.8,379.9L112.1,380.3L112.4,380.6L112.8,381.1L113.1,381.6L113.4,382.1L113.6,382.6L113.9,383.1L114.1,383.6L114.4,384.1L114.6,384.5L114.9,385.1L115.0,385.6L115.1,386.1L115.3,386.9L115.4,387.4L115.5,388.1L115.6,388.9L115.7,389.4L115.7,390.1L115.8,390.9L115.8,391.6L115.8,392.4L115.7,393.1L115.6,393.6L115.5,394.4L115.4,395.1L115.3,395.6L115.2,396.4L115.0,396.9L114.9,397.4L114.6,398.1L114.4,398.6L114.2,399.1L114.0,399.6L113.8,400.1L113.6,400.6L113.4,401.2L113.1,401.7L112.9,402.3L112.6,402.9L112.4,403.4L112.1,403.8L111.9,404.2L111.6,404.6L111.3,405.1L110.9,405.6L110.6,406.1L110.4,406.5L110.0,406.9L109.6,407.4L109.3,407.6L108.9,408.0L108.5,408.4L108.1,408.8L107.7,409.1L107.2,409.4L106.8,409.6L106.4,409.9L105.9,410.3L105.4,410.6L104.9,410.9L104.4,411.1L103.9,411.4L103.4,411.6L102.9,411.9L102.4,412.0L101.9,412.2L101.1,412.4L100.6,412.5L99.9,412.5L99.1,412.6L98.6,412.7L97.9,412.7L97.1,412.6L96.6,412.6L95.9,412.6L95.1,412.6L94.4,412.6L93.6,412.5L92.9,412.4L92.4,412.4L91.6,412.2L91.1,412.1L90.4,412.0L89.9,411.8L89.3,411.6L88.6,411.4L88.1,411.2L87.6,411.1L86.9,410.9L86.4,410.8L85.6,410.6L85.1,410.5L84.6,410.3L84.0,410.1L83.4,409.9L82.9,409.7L82.4,409.5L81.9,409.3L81.4,409.1L80.6,408.9L80.1,408.7L79.6,408.6L78.9,408.4L78.4,408.2L77.9,408.1L77.2,407.9L76.6,407.7L76.1,407.6L75.5,407.4L74.9,407.2L74.4,407.1L73.6,406.9L73.1,406.8L72.4,406.6L71.9,406.5L71.3,406.4L70.6,406.2L70.1,406.1L69.4,405.9L68.9,405.7L68.4,405.6L67.6,405.5L66.9,405.4L66.4,405.3L65.6,405.2L65.1,405.1L64.4,405.0L63.6,405.0L62.9,405.0L62.1,405.0L61.4,405.0L60.6,405.0L59.9,405.0L59.1,405.0L58.4,405.0L57.6,405.0L56.9,405.1L56.1,405.1L55.4,405.1L54.9,405.1L54.1,405.2L53.4,405.2L52.6,405.2L51.9,405.2L51.1,405.2L50.4,405.2L49.6,405.3L48.9,405.3L48.4,405.1L47.9,404.8L47.4,404.4L47.1,404.0L46.8,403.6L46.4,403.1L46.1,402.8L45.9,402.3L45.6,401.7L45.4,401.1L45.3,400.6L45.1,400.1L44.9,399.4L44.7,398.9L44.6,398.4L44.4,397.6L44.2,397.1L44.0,396.6L43.7,396.1L43.4,395.8L43.0,395.4L42.6,395.1L42.1,394.7L41.6,394.5L41.1,394.3L40.4,394.2L40.1,394.2M40.1,392.4L40.6,392.3L41.4,392.2L41.9,392.0L42.4,391.8L42.9,391.6L43.4,391.3L43.9,390.9L44.1,390.6L44.5,390.1L44.8,389.6L45.0,389.1L45.2,388.6L45.4,387.9L45.5,387.4L45.6,386.7L45.8,386.1L46.0,385.6L46.3,385.1L46.5,384.6L46.8,384.1L47.0,383.6L47.3,383.1L47.6,382.7L47.9,382.4L48.3,381.9L48.6,381.6L49.4,381.4L50.1,381.4L50.9,381.4L51.6,381.4L52.4,381.5L53.1,381.6L53.6,381.7L54.4,381.7L55.1,381.7L55.9,381.7L56.6,381.8L57.4,381.8L57.9,381.9L58.6,382.1L59.1,382.2L59.6,382.4L60.4,382.5L61.1,382.5L61.9,382.5L62.6,382.4L63.1,382.3L63.9,382.2L64.4,382.1L65.1,382.0L65.9,382.0L66.6,381.9L67.4,381.9L67.9,381.9L68.6,381.7L69.2,381.6L69.9,381.5L70.4,381.3L71.1,381.1L71.6,381.0L72.1,380.9L72.9,380.7L73.4,380.6L74.1,380.5L74.7,380.4L75.4,380.3L76.0,380.1L76.6,380.0L77.1,379.9L77.9,379.7L78.4,379.5L78.9,379.4L79.6,379.1L80.1,378.9L80.6,378.7L81.1,378.5L81.6,378.3L82.1,378.1L82.6,377.9L83.3,377.6L83.9,377.5L84.4,377.4L85.1,377.2L85.6,377.1L86.4,376.9L86.9,376.8L87.6,376.7L88.1,376.5L88.9,376.4L89.4,376.3L90.1,376.2L90.6,376.1L91.4,376.0L91.9,375.9L92.6,375.7L93.1,375.6L93.9,375.5L94.6,375.5L95.4,375.4L96.1,375.4L96.9,375.4L97.4,375.4L97.9,375.4L98.6,375.5L99.4,375.6L100.1,375.6L100.6,375.7L101.4,375.8L101.9,375.9L102.6,376.0L103.1,376.1L103.9,376.3L104.4,376.4L105.0,376.6L105.6,376.8L106.1,377.0L106.6,377.2L107.1,377.4L107.6,377.7L108.1,377.9L108.7,378.1L109.1,378.4L109.6,378.7L110.1,379.0L110.6,379.3L111.0,379.6L111.4,380.0L111.7,380.4L112.1,380.9L112.4,381.2L112.7,381.6L113.0,382.1L113.3,382.6L113.5,383.1L113.7,383.6L114.0,384.1L114.3,384.6L114.5,385.1L114.7,385.6L114.9,386.4L115.0,386.9L115.1,387.6L115.2,388.1L115.3,388.9L115.4,389.4L115.5,390.1L115.5,390.9L115.5,391.6L115.5,392.4L115.4,393.1L115.3,393.6L115.2,394.4L115.1,394.9L115.0,395.6L114.9,396.2L114.7,396.9L114.6,397.4L114.4,398.0L114.1,398.5L113.9,399.1L113.7,399.6L113.5,400.1L113.3,400.6L113.0,401.1L112.8,401.6L112.6,402.1L112.4,402.6L112.1,403.1L111.8,403.6L111.5,404.1L111.2,404.6L110.9,405.1L110.6,405.4L110.3,405.9L109.9,406.4L109.6,406.7L109.2,407.1L108.9,407.4L108.4,407.9L108.1,408.1L107.6,408.5L107.1,408.9L106.7,409.1L106.3,409.4L105.9,409.6L105.4,410.0L104.9,410.2L104.4,410.5L103.9,410.7L103.4,411.0L102.9,411.2L102.4,411.4L101.6,411.6L101.1,411.7L100.4,411.8L99.6,411.9L99.1,411.9L98.4,411.9L97.6,411.9L97.1,411.9L96.4,411.8L95.6,411.8L94.9,411.8L94.1,411.7L93.4,411.6L92.9,411.6L92.1,411.4L91.6,411.3L90.9,411.2L90.4,411.0L89.9,410.9L89.2,410.6L88.6,410.4L88.1,410.3L87.6,410.1L86.9,409.9L86.4,409.8L85.8,409.6L85.1,409.4L84.6,409.2L84.1,409.0L83.6,408.8L83.1,408.6L82.6,408.4L82.0,408.1L81.4,407.9L80.9,407.7L80.4,407.5L79.9,407.4L79.1,407.1L78.6,407.0L78.1,406.8L77.6,406.6L76.9,406.4L76.4,406.2L75.9,406.1L75.2,405.9L74.6,405.7L74.1,405.6L73.4,405.4L72.9,405.3L72.3,405.1L71.6,404.9L71.1,404.8L70.4,404.6L69.9,404.5L69.4,404.4L68.6,404.2L68.1,404.1L67.4,404.0L66.9,403.9L66.1,403.8L65.4,403.7L64.7,403.6L64.1,403.6L63.4,403.6L62.6,403.5L61.9,403.5L61.1,403.5L60.4,403.5L59.6,403.5L58.9,403.5L58.1,403.6L57.6,403.6L56.9,403.7L56.1,403.7L55.4,403.8L54.6,403.8L53.9,403.8L53.1,403.8L52.4,403.8L51.6,403.8L50.9,403.8L50.1,403.8L49.4,403.8L48.9,403.6L48.4,403.1L48.1,402.9L47.6,402.4L47.4,402.0L47.1,401.6L46.9,401.1L46.6,400.6L46.4,400.1L46.1,399.4L45.9,398.9L45.8,398.4L45.6,397.9L45.4,397.1L45.1,396.6L44.9,396.2L44.6,395.8L44.3,395.4L43.9,394.9L43.6,394.6L43.1,394.2L42.6,393.9L42.1,393.7L41.6,393.4L41.1,393.3L40.4,393.2L40.1,393.1M94.1,376.1L94.6,376.1L95.4,376.0L96.1,376.0L96.9,376.0L97.6,375.9L98.4,376.0L99.1,376.1L99.6,376.1L100.4,376.2L101.1,376.3L101.9,376.4L102.4,376.5L103.1,376.6L103.6,376.7L104.2,376.9L104.9,377.1L105.4,377.2L105.9,377.4L106.6,377.6L107.1,377.9L107.6,378.1L108.1,378.4L108.6,378.6L109.1,378.9L109.6,379.1L110.0,379.4L110.4,379.6L110.9,380.1L111.2,380.4L111.6,380.9L111.9,381.1L112.2,381.6L112.5,382.1L112.9,382.6L113.1,383.1L113.4,383.6L113.6,384.1L113.9,384.5L114.1,385.0L114.3,385.6L114.5,386.1L114.6,386.7L114.8,387.4L114.9,388.1L114.9,388.6L115.1,389.4L115.1,389.9L115.2,390.6L115.2,391.4L115.2,392.1L115.1,392.9L115.0,393.4L114.9,394.1L114.9,394.7L114.7,395.4L114.6,395.9L114.5,396.6L114.3,397.1L114.1,397.8L113.9,398.3L113.6,398.9L113.4,399.4L113.2,399.9L113.0,400.4L112.8,400.9L112.5,401.4L112.3,401.9L112.1,402.4L111.8,402.9L111.5,403.4L111.2,403.9L110.9,404.4L110.6,404.7L110.3,405.1L110.0,405.6L109.6,406.1L109.4,406.4L108.9,406.9L108.6,407.1L108.1,407.5L107.7,407.9L107.4,408.1L106.9,408.4L106.4,408.7L105.9,409.0L105.4,409.3L104.9,409.6L104.4,409.8L103.9,410.1L103.4,410.3L102.9,410.5L102.4,410.7L101.8,410.9L101.1,411.0L100.6,411.1L99.9,411.2L99.1,411.2L98.4,411.2L97.6,411.2L97.1,411.1L96.4,411.0L95.6,411.0L94.9,410.9L94.1,410.9L93.6,410.8L92.9,410.7L92.4,410.6L91.6,410.4L91.1,410.3L90.6,410.1L89.9,409.9L89.4,409.7L88.9,409.5L88.4,409.3L87.8,409.1L87.1,408.9L86.6,408.7L86.1,408.6L85.6,408.4L85.1,408.1L84.6,407.9L84.1,407.6L83.6,407.4L83.0,407.1L82.4,406.9L81.9,406.7L81.4,406.5L80.9,406.3L80.4,406.1L79.7,405.9L79.1,405.6L78.6,405.4L78.1,405.2L77.6,405.0L77.1,404.9L76.5,404.6L75.9,404.4L75.4,404.3L74.9,404.1L74.1,403.9L73.6,403.7L73.1,403.5L72.6,403.3L72.0,403.1L71.4,403.0L70.9,402.8L70.1,402.7L69.6,402.6L68.9,402.4L68.4,402.3L67.8,402.1L67.1,402.0L66.4,401.9L65.9,401.9L65.1,401.9L64.4,401.9L63.6,401.8L62.9,401.8L62.1,401.7L61.4,401.7L60.6,401.8L59.9,401.9L59.4,401.9L58.6,402.0L57.9,402.1L57.4,402.2L56.6,402.2L55.9,402.2L55.1,402.2L54.4,402.2L53.6,402.2L52.9,402.2L52.4,402.1L51.6,402.0L50.9,402.0L50.3,401.9L49.8,401.6L49.4,401.2L49.1,400.9L48.8,400.4L48.4,399.9L48.1,399.4L47.9,399.0L47.6,398.5L47.4,398.0L47.1,397.4L46.9,396.9L46.6,396.4L46.4,396.0L46.1,395.6L45.8,395.1L45.4,394.6L45.1,394.3L44.8,393.9L44.4,393.5L44.0,393.1L43.9,392.8L44.2,392.4L44.6,392.0L45.0,391.6L45.4,391.3L45.7,390.9L46.0,390.4L46.3,389.9L46.5,389.4L46.6,388.9L46.8,388.1L46.9,387.6L47.1,386.9L47.3,386.4L47.6,385.9L47.9,385.5L48.1,385.1L48.6,384.6L48.9,384.3L49.2,383.9L49.6,383.5L50.1,383.3L50.9,383.2L51.6,383.2L52.4,383.2L53.1,383.2L53.9,383.3L54.6,383.3L55.4,383.3L56.1,383.4L56.6,383.4L57.4,383.6L57.9,383.7L58.6,383.9L59.1,384.0L59.9,384.1L60.4,384.2L61.1,384.1L61.6,384.1L62.4,384.0L63.0,383.9L63.6,383.8L64.4,383.6L64.9,383.6L65.6,383.4L66.1,383.4L66.9,383.3L67.6,383.3L68.4,383.2L69.0,383.1L69.6,383.0L70.4,382.9L70.9,382.8L71.4,382.6L72.1,382.4L72.6,382.2L73.1,382.1L73.9,381.9L74.4,381.8L75.1,381.6L75.6,381.5L76.4,381.4L76.9,381.3L77.5,381.1L78.1,380.9L78.6,380.8L79.1,380.6L79.6,380.3L80.1,380.1L80.6,379.9L81.1,379.6L81.6,379.4L82.1,379.1L82.7,378.9L83.3,378.6L83.9,378.4L84.4,378.3L85.0,378.1L85.6,377.9L86.1,377.8L86.9,377.7L87.4,377.6L88.0,377.4L88.6,377.2L89.1,377.1L89.9,377.0L90.4,376.9L91.1,376.7L91.6,376.6L92.4,376.4L92.9,376.3L93.6,376.2L94.1,376.1M95.3,376.6L95.9,376.6L96.6,376.6L97.4,376.6L98.1,376.6L98.7,376.6L99.4,376.7L100.1,376.7L100.9,376.8L101.6,376.8L102.1,376.9L102.9,377.1L103.4,377.2L104.1,377.4L104.6,377.5L105.1,377.6L105.9,377.9L106.4,378.0L106.9,378.3L107.4,378.5L107.9,378.7L108.4,379.0L108.9,379.2L109.4,379.5L109.9,379.8L110.3,380.1L110.6,380.4L111.1,380.9L111.4,381.1L111.8,381.6L112.1,382.1L112.4,382.5L112.6,382.9L112.9,383.4L113.1,383.9L113.4,384.4L113.7,384.9L113.9,385.4L114.1,386.0L114.3,386.6L114.4,387.1L114.5,387.9L114.6,388.6L114.7,389.1L114.9,389.9L114.9,390.4L114.9,391.1L114.9,391.9L114.9,392.6L114.8,393.1L114.7,393.9L114.6,394.4L114.5,395.1L114.4,395.6L114.2,396.4L114.1,396.9L113.9,397.6L113.7,398.1L113.4,398.6L113.2,399.1L113.0,399.6L112.8,400.1L112.6,400.6L112.3,401.1L112.1,401.6L111.8,402.1L111.6,402.6L111.3,403.1L110.9,403.6L110.6,404.1L110.4,404.4L110.0,404.9L109.6,405.4L109.4,405.7L109.0,406.1L108.6,406.5L108.1,406.9L107.8,407.1L107.4,407.5L106.9,407.8L106.4,408.1L105.9,408.4L105.4,408.6L105.0,408.9L104.5,409.1L104.0,409.4L103.4,409.6L102.9,409.8L102.4,410.0L101.9,410.2L101.1,410.4L100.6,410.4L99.9,410.5L99.1,410.5L98.4,410.5L97.6,410.4L97.1,410.3L96.4,410.3L95.6,410.2L95.1,410.1L94.4,410.0L93.6,409.9L93.1,409.8L92.5,409.6L91.9,409.5L91.4,409.3L90.7,409.1L90.1,408.9L89.6,408.7L89.1,408.5L88.6,408.3L88.0,408.1L87.4,407.9L86.9,407.7L86.4,407.4L85.9,407.2L85.4,406.9L85.1,406.6L84.6,406.3L84.1,406.0L83.6,405.8L83.1,405.6L82.6,405.4L81.9,405.1L81.4,404.9L80.9,404.7L80.4,404.5L79.9,404.3L79.4,404.0L78.9,403.8L78.4,403.6L77.8,403.4L77.2,403.1L76.7,402.9L76.2,402.6L75.7,402.4L75.2,402.1L74.7,401.9L74.1,401.6L73.6,401.5L73.1,401.3L72.4,401.1L71.9,401.0L71.1,400.9L70.6,400.8L69.9,400.7L69.4,400.6L68.6,400.4L68.1,400.3L67.6,400.1L66.9,399.9L66.4,399.8L65.9,399.6L65.1,399.4L64.6,399.3L64.1,399.1L63.4,398.9L62.9,398.8L62.1,398.8L61.4,398.9L60.9,399.0L60.4,399.2L59.9,399.4L59.4,399.7L58.7,399.9L58.1,400.0L57.4,400.0L56.7,399.9L56.1,399.7L55.6,399.5L55.1,399.4L54.4,399.3L53.9,399.4L53.1,399.5L52.4,399.6L51.6,399.5L51.1,399.2L50.8,398.9L50.4,398.4L50.1,398.0L49.9,397.5L49.6,397.0L49.4,396.6L49.1,396.1L48.7,395.6L48.4,395.3L48.1,394.9L47.7,394.4L47.4,394.0L47.1,393.6L46.8,393.1L46.9,392.4L47.1,392.1L47.5,391.6L47.9,391.2L48.1,390.8L48.5,390.4L48.7,389.9L49.0,389.4L49.2,388.9L49.4,388.3L49.6,387.7L49.9,387.3L50.4,386.9L50.8,386.6L51.3,386.4L51.7,386.1L52.3,385.9L52.9,385.7L53.4,385.6L54.1,385.4L54.6,385.3L55.4,385.2L56.1,385.3L56.6,385.4L57.4,385.6L57.9,385.7L58.6,385.9L59.1,385.9L59.9,386.0L60.6,385.9L61.3,385.9L61.9,385.8L62.6,385.7L63.4,385.7L63.9,385.6L64.6,385.4L65.1,385.3L65.9,385.1L66.4,385.0L67.1,384.9L67.6,384.9L68.4,384.8L69.1,384.8L69.9,384.8L70.6,384.8L71.4,384.6L71.9,384.5L72.4,384.2L72.9,384.0L73.4,383.7L73.9,383.5L74.4,383.3L75.1,383.2L75.6,383.1L76.4,382.9L76.9,382.8L77.6,382.6L78.1,382.5L78.6,382.3L79.1,382.0L79.6,381.8L80.1,381.5L80.6,381.2L81.1,380.9L81.5,380.6L81.9,380.4L82.4,380.1L83.0,379.9L83.6,379.6L84.1,379.4L84.6,379.2L85.1,379.1L85.7,378.9L86.4,378.7L86.9,378.6L87.6,378.4L88.1,378.2L88.6,378.1L89.4,377.9L89.9,377.8L90.5,377.6L91.1,377.5L91.6,377.3L92.3,377.1L92.9,377.0L93.4,376.9L94.1,376.8L94.9,376.7L95.3,376.6M94.6,377.4L95.1,377.3L95.9,377.2L96.6,377.2L97.4,377.2L98.1,377.2L98.9,377.2L99.6,377.2L100.4,377.3L101.1,377.3L101.6,377.4L102.4,377.5L102.9,377.6L103.6,377.8L104.1,377.9L104.9,378.1L105.4,378.2L105.9,378.4L106.5,378.6L107.1,378.9L107.6,379.1L108.1,379.3L108.6,379.6L109.1,379.8L109.6,380.1L110.0,380.4L110.4,380.7L110.8,381.1L111.1,381.4L111.5,381.9L111.8,382.4L112.1,382.8L112.4,383.2L112.6,383.7L112.9,384.1L113.2,384.6L113.5,385.1L113.7,385.6L113.9,386.3L114.0,386.9L114.1,387.4L114.2,388.1L114.4,388.9L114.5,389.4L114.6,390.1L114.6,390.9L114.6,391.4L114.6,392.1L114.6,392.6L114.4,393.4L114.4,393.9L114.3,394.6L114.1,395.3L114.0,395.9L113.9,396.5L113.7,397.1L113.5,397.6L113.3,398.1L113.1,398.6L112.9,399.1L112.6,399.7L112.4,400.3L112.1,400.7L111.9,401.2L111.6,401.7L111.4,402.2L111.1,402.6L110.8,403.1L110.5,403.6L110.1,404.1L109.9,404.4L109.5,404.9L109.1,405.3L108.9,405.6L108.4,406.1L108.0,406.4L107.6,406.6L107.1,407.0L106.6,407.3L106.1,407.6L105.6,407.8L105.1,408.1L104.6,408.3L104.1,408.6L103.6,408.8L103.1,409.0L102.6,409.2L102.1,409.4L101.4,409.6L100.9,409.7L100.1,409.8L99.4,409.8L98.6,409.7L97.9,409.7L97.3,409.6L96.6,409.5L95.9,409.4L95.4,409.3L94.6,409.2L94.1,409.1L93.4,408.9L92.9,408.7L92.4,408.6L91.8,408.4L91.1,408.2L90.6,408.0L90.1,407.8L89.6,407.6L89.0,407.4L88.4,407.1L87.9,406.9L87.4,406.7L86.9,406.4L86.5,406.1L86.1,405.9L85.6,405.4L85.3,405.1L84.9,404.7L84.6,404.4L84.1,404.0L83.6,403.7L83.1,403.4L82.6,403.2L82.1,403.1L81.4,402.9L80.9,402.7L80.4,402.6L79.9,402.4L79.3,402.1L78.7,401.9L78.2,401.6L77.7,401.4L77.4,401.1L76.9,400.7L76.4,400.4L76.1,400.1L75.6,399.7L75.1,399.4L74.6,399.2L74.1,399.0L73.4,399.0L72.6,399.0L71.9,399.1L71.1,399.1L70.4,399.0L69.7,398.9L69.1,398.7L68.6,398.6L68.0,398.4L67.4,398.1L66.9,397.9L66.4,397.7L65.9,397.4L65.4,397.2L64.9,397.0L64.4,396.7L63.9,396.5L63.4,396.2L62.9,395.9L62.5,395.6L62.1,395.4L61.6,395.0L61.3,394.6L60.9,394.2L60.6,393.8L60.4,393.2L60.3,392.6L60.3,391.9L60.5,391.4L60.6,390.9L60.9,390.2L61.1,389.6L61.4,389.3L61.9,388.9L62.3,388.6L62.9,388.4L63.4,388.2L63.9,388.0L64.4,387.8L64.9,387.6L65.6,387.4L66.1,387.2L66.6,387.1L67.4,386.9L67.9,386.8L68.6,386.7L69.4,386.7L70.1,386.8L70.9,386.8L71.6,386.7L72.2,386.6L72.9,386.4L73.4,386.1L73.9,385.9L74.3,385.6L74.8,385.4L75.4,385.2L75.9,385.0L76.4,384.9L77.1,384.7L77.6,384.5L78.1,384.3L78.6,384.1L79.1,383.8L79.6,383.5L80.1,383.2L80.6,382.9L81.0,382.6L81.4,382.3L81.9,381.9L82.3,381.6L82.7,381.4L83.1,381.1L83.6,380.9L84.2,380.6L84.8,380.4L85.4,380.1L85.9,379.9L86.4,379.7L86.9,379.5L87.4,379.4L88.1,379.1L88.6,379.0L89.1,378.8L89.9,378.6L90.4,378.5L90.9,378.4L91.6,378.1L92.1,378.0L92.6,377.8L93.3,377.6L93.9,377.5L94.6,377.4M97.2,377.9L97.9,377.9L98.6,377.9L99.0,377.9L99.6,377.9L100.4,377.9L100.9,377.9L101.6,378.0L102.4,378.1L102.9,378.2L103.6,378.3L104.1,378.4L104.9,378.6L105.4,378.7L105.9,378.9L106.5,379.1L107.1,379.4L107.6,379.6L108.1,379.9L108.6,380.1L109.1,380.3L109.6,380.6L109.9,380.9L110.4,381.3L110.7,381.6L111.1,382.0L111.4,382.4L111.7,382.9L112.0,383.4L112.3,383.9L112.6,384.4L112.9,384.8L113.1,385.2L113.4,385.9L113.5,386.4L113.7,386.9L113.9,387.6L113.9,388.1L114.0,388.9L114.2,389.4L114.3,390.1L114.3,390.9L114.3,391.6L114.3,392.4L114.2,393.1L114.1,393.6L114.0,394.4L113.9,395.0L113.7,395.6L113.6,396.2L113.5,396.9L113.3,397.4L113.1,397.9L112.9,398.4L112.6,398.9L112.4,399.5L112.1,400.0L111.9,400.5L111.6,400.9L111.4,401.4L111.1,401.9L110.8,402.4L110.5,402.9L110.1,403.4L109.9,403.7L109.5,404.1L109.1,404.6L108.9,404.9L108.4,405.4L108.1,405.6L107.6,406.0L107.1,406.3L106.6,406.6L106.2,406.9L105.7,407.1L105.1,407.4L104.6,407.6L104.1,407.8L103.6,408.1L103.1,408.3L102.6,408.5L102.1,408.6L101.4,408.8L100.9,408.9L100.1,409.0L99.4,409.0L98.6,409.0L97.9,408.9L97.4,408.9L96.6,408.7L95.9,408.6L95.4,408.5L94.8,408.4L94.1,408.2L93.6,408.0L93.1,407.8L92.6,407.6L92.1,407.4L91.4,407.1L90.9,406.9L90.4,406.7L89.9,406.5L89.4,406.2L88.9,406.0L88.4,405.8L87.9,405.6L87.4,405.2L87.0,404.9L86.6,404.5L86.3,404.1L85.9,403.6L85.6,403.3L85.2,402.9L84.9,402.5L84.4,402.1L84.0,401.9L83.6,401.6L83.0,401.4L82.4,401.1L81.9,400.9L81.4,400.8L80.9,400.6L80.4,400.3L79.9,400.0L79.4,399.7L78.9,399.4L78.6,399.1L78.1,398.8L77.6,398.4L77.3,398.1L76.9,397.8L76.5,397.4L76.1,397.0L75.7,396.6L75.4,396.3L74.9,396.0L74.1,396.0L73.6,396.2L73.1,396.5L72.6,396.8L72.1,397.0L71.6,397.2L70.9,397.3L70.1,397.1L69.6,397.0L69.1,396.8L68.6,396.6L67.9,396.4L67.4,396.2L66.9,396.0L66.4,395.8L65.9,395.5L65.4,395.1L65.1,394.9L64.6,394.4L64.4,394.1L64.1,393.6L63.9,392.9L64.0,392.1L64.2,391.6L64.5,391.1L64.9,390.8L65.3,390.4L65.6,390.1L66.1,389.8L66.6,389.5L67.1,389.2L67.6,389.0L68.1,388.8L68.9,388.7L69.4,388.6L70.1,388.5L70.9,388.5L71.6,388.5L72.4,388.5L73.1,388.6L73.6,388.7L74.4,388.7L74.9,388.6L75.4,388.3L75.9,387.9L76.2,387.6L76.6,387.3L77.1,387.0L77.6,386.7L78.1,386.4L78.5,386.1L78.9,385.9L79.4,385.6L79.9,385.3L80.4,385.0L80.9,384.7L81.4,384.4L81.8,384.1L82.1,383.9L82.6,383.5L83.1,383.1L83.4,382.9L83.9,382.4L84.3,382.1L84.7,381.9L85.1,381.6L85.6,381.3L86.1,381.1L86.6,380.8L87.1,380.6L87.6,380.3L88.1,380.1L88.8,379.9L89.4,379.7L89.9,379.5L90.4,379.4L91.1,379.2L91.6,379.0L92.1,378.8L92.7,378.6L93.4,378.4L93.9,378.3L94.5,378.1L95.1,378.0L95.9,377.9L96.6,377.9L97.2,377.9M96.9,378.6L97.6,378.6L98.4,378.6L99.1,378.6L99.9,378.5L100.6,378.5L101.4,378.6L101.9,378.6L102.6,378.7L103.4,378.8L103.9,378.9L104.6,379.1L105.1,379.2L105.8,379.4L106.4,379.6L106.9,379.8L107.4,380.0L107.9,380.2L108.4,380.5L108.9,380.7L109.4,381.0L109.8,381.4L110.1,381.6L110.6,382.1L110.9,382.4L111.2,382.9L111.6,383.4L111.9,383.9L112.1,384.3L112.4,384.7L112.6,385.1L112.9,385.6L113.1,386.3L113.3,386.9L113.4,387.4L113.6,388.1L113.6,388.6L113.8,389.4L113.9,389.9L114.0,390.6L114.0,391.4L114.0,392.1L113.9,392.9L113.8,393.4L113.7,394.1L113.6,394.7L113.5,395.4L113.4,395.9L113.2,396.6L113.0,397.1L112.8,397.6L112.6,398.1L112.4,398.6L112.1,399.2L111.9,399.7L111.6,400.2L111.3,400.6L111.1,401.1L110.8,401.6L110.5,402.1L110.1,402.6L109.9,403.0L109.6,403.4L109.1,403.9L108.9,404.1L108.4,404.6L108.1,404.9L107.6,405.3L107.2,405.6L106.7,405.9L106.2,406.1L105.8,406.4L105.2,406.6L104.6,406.8L104.1,407.0L103.6,407.3L103.1,407.5L102.6,407.7L101.9,407.9L101.4,408.0L100.6,408.1L100.1,408.1L99.4,408.1L98.9,408.1L98.1,408.1L97.4,408.0L96.6,407.9L96.1,407.8L95.4,407.6L94.9,407.5L94.4,407.3L93.9,407.1L93.4,406.8L92.9,406.6L92.4,406.4L91.9,406.1L91.4,405.9L90.9,405.6L90.4,405.3L89.9,405.0L89.4,404.7L88.9,404.4L88.4,404.1L88.1,403.9L87.6,403.4L87.4,403.1L86.9,402.6L86.6,402.3L86.2,401.9L85.9,401.6L85.4,401.2L85.0,400.9L84.6,400.6L84.1,400.3L83.6,400.0L83.1,399.7L82.6,399.4L82.2,399.1L81.8,398.9L81.4,398.6L80.9,398.3L80.4,398.0L79.9,397.7L79.4,397.4L78.9,397.2L78.4,396.9L78.0,396.6L77.6,396.3L77.3,395.9L77.0,395.4L76.7,394.9L76.5,394.4L76.4,393.9L76.2,393.1L76.3,392.4L76.4,391.6L76.5,391.1L76.6,390.6L76.9,390.1L77.2,389.6L77.6,389.1L77.9,388.8L78.3,388.4L78.6,388.1L79.1,387.6L79.4,387.4L79.9,387.0L80.4,386.7L80.8,386.4L81.2,386.1L81.7,385.9L82.1,385.6L82.6,385.3L83.1,385.0L83.6,384.7L84.1,384.4L84.4,384.1L84.9,383.7L85.2,383.4L85.6,383.0L86.0,382.6L86.4,382.3L86.9,382.0L87.4,381.7L87.9,381.4L88.4,381.1L88.9,380.9L89.4,380.7L89.9,380.5L90.4,380.4L91.1,380.1L91.6,380.0L92.1,379.8L92.6,379.6L93.2,379.4L93.9,379.1L94.4,379.0L94.9,378.9L95.6,378.7L96.4,378.7L96.9,378.6M69.8,390.4L70.4,390.2L71.1,390.1L71.9,390.3L72.4,390.5L72.9,390.9L73.1,391.2L73.4,391.6L73.6,392.4L73.6,392.9L73.5,393.4L73.3,393.9L72.9,394.4L72.6,394.6L72.1,395.0L71.6,395.2L70.9,395.4L70.6,395.4L69.9,395.2L69.4,395.0L68.9,394.7L68.4,394.5L67.9,394.2L67.5,393.9L67.2,393.4L67.2,392.6L67.5,392.1L67.9,391.7L68.2,391.4L68.6,391.0L69.1,390.7L69.6,390.4L69.8,390.4M97.6,379.4L98.1,379.4L98.9,379.4L99.6,379.3L100.4,379.3L101.1,379.2L101.9,379.3L102.6,379.4L103.1,379.4L103.9,379.5L104.6,379.6L105.1,379.7L105.7,379.9L106.4,380.1L106.9,380.3L107.4,380.5L107.9,380.8L108.4,381.0L108.9,381.3L109.4,381.6L109.7,381.9L110.1,382.2L110.5,382.6L110.9,383.1L111.1,383.5L111.4,383.9L111.7,384.4L112.0,384.9L112.3,385.4L112.6,385.9L112.8,386.4L112.9,386.9L113.1,387.6L113.2,388.1L113.3,388.9L113.5,389.4L113.6,390.1L113.6,390.7L113.7,391.4L113.7,392.1L113.6,392.6L113.5,393.4L113.4,394.1L113.3,394.6L113.1,395.3L113.0,395.9L112.9,396.5L112.7,397.1L112.5,397.6L112.2,398.1L112.0,398.6L111.7,399.1L111.5,399.6L111.2,400.1L110.9,400.6L110.6,401.1L110.4,401.5L110.1,401.9L109.8,402.4L109.4,402.8L109.1,403.1L108.7,403.6L108.4,403.9L107.9,404.3L107.5,404.6L107.1,404.9L106.6,405.2L106.1,405.4L105.6,405.7L105.1,405.9L104.5,406.1L103.9,406.3L103.4,406.5L102.9,406.7L102.4,406.9L101.6,407.0L101.0,407.1L100.4,407.2L99.6,407.2L98.9,407.2L98.1,407.1L97.6,407.1L96.9,407.0L96.1,406.9L95.6,406.8L95.1,406.6L94.6,406.4L94.1,406.1L93.6,405.8L93.1,405.5L92.6,405.2L92.1,404.9L91.6,404.6L91.2,404.4L90.8,404.1L90.4,403.8L89.9,403.4L89.6,403.1L89.1,402.7L88.8,402.4L88.4,402.0L88.0,401.6L87.6,401.3L87.1,400.9L86.9,400.6L86.4,400.2L86.0,399.9L85.6,399.6L85.1,399.3L84.6,399.0L84.1,398.7L83.7,398.4L83.4,398.1L82.9,397.7L82.5,397.4L82.1,397.1L81.6,396.6L81.2,396.4L80.8,396.1L80.2,395.9L79.7,395.6L79.2,395.4L78.9,395.1L78.5,394.6L78.2,394.1L78.1,393.6L78.0,392.9L78.0,392.1L78.1,391.5L78.4,390.9L78.6,390.4L78.9,390.1L79.2,389.6L79.6,389.2L80.0,388.9L80.4,388.5L80.8,388.1L81.1,387.8L81.6,387.5L82.1,387.1L82.5,386.9L82.9,386.6L83.4,386.3L83.9,386.0L84.4,385.7L84.9,385.4L85.3,385.1L85.6,384.8L86.1,384.4L86.4,384.0L86.7,383.6L87.1,383.2L87.5,382.9L87.9,382.6L88.4,382.3L88.9,382.0L89.4,381.8L89.9,381.6L90.6,381.4L91.1,381.2L91.6,381.1L92.2,380.9L92.7,380.6L93.3,380.4L93.9,380.1L94.4,379.9L94.9,379.8L95.4,379.6L96.1,379.5L96.9,379.4L97.6,379.4M99.6,380.1L100.1,380.1L100.9,380.0L101.6,380.0L102.4,380.0L103.1,380.0L103.9,380.1L104.4,380.2L105.1,380.3L105.6,380.4L106.3,380.6L106.9,380.8L107.4,381.0L107.9,381.3L108.4,381.5L108.9,381.8L109.2,382.1L109.6,382.4L110.1,382.9L110.4,383.2L110.7,383.6L111.0,384.1L111.3,384.6L111.6,385.0L111.9,385.4L112.1,385.9L112.4,386.5L112.6,387.1L112.7,387.6L112.9,388.4L113.0,388.9L113.1,389.5L113.2,390.1L113.3,390.9L113.3,391.6L113.3,392.4L113.1,393.1L113.1,393.6L113.0,394.4L112.9,394.9L112.7,395.6L112.6,396.1L112.4,396.9L112.2,397.4L111.9,397.9L111.7,398.4L111.4,398.9L111.2,399.4L110.9,399.8L110.6,400.2L110.3,400.6L110.0,401.1L109.7,401.6L109.4,402.0L109.1,402.4L108.6,402.9L108.3,403.1L107.9,403.5L107.4,403.9L107.0,404.1L106.6,404.4L106.1,404.6L105.6,404.9L105.0,405.1L104.4,405.4L103.9,405.5L103.4,405.7L102.8,405.9L102.1,406.0L101.6,406.1L100.9,406.2L100.1,406.2L99.4,406.2L98.6,406.2L97.9,406.2L97.1,406.2L96.6,406.1L95.9,405.9L95.4,405.7L94.9,405.4L94.4,405.1L94.1,404.9L93.6,404.6L93.1,404.2L92.6,403.9L92.2,403.6L91.8,403.4L91.4,403.0L90.9,402.6L90.6,402.4L90.1,401.9L89.8,401.6L89.4,401.2L89.0,400.9L88.6,400.5L88.2,400.1L87.9,399.8L87.4,399.4L87.1,399.1L86.6,398.8L86.1,398.4L85.7,398.1L85.3,397.9L84.9,397.6L84.4,397.2L84.0,396.9L83.6,396.5L83.3,396.1L82.9,395.6L82.6,395.3L82.1,394.9L81.8,394.6L81.4,394.4L80.9,394.1L80.4,393.7L80.1,393.4L79.8,392.9L79.7,392.1L79.9,391.6L80.1,391.1L80.5,390.6L80.9,390.1L81.1,389.9L81.6,389.4L81.9,389.1L82.4,388.7L82.9,388.4L83.2,388.1L83.6,387.8L84.1,387.4L84.6,387.1L85.0,386.9L85.4,386.6L85.9,386.3L86.3,385.9L86.6,385.6L87.0,385.1L87.4,384.6L87.6,384.3L88.0,383.9L88.4,383.6L88.9,383.2L89.4,383.0L89.9,382.8L90.5,382.6L91.1,382.5L91.6,382.4L92.2,382.1L92.7,381.9L93.1,381.6L93.6,381.3L94.1,381.1L94.6,380.8L95.1,380.6L95.9,380.4L96.4,380.3L97.1,380.2L97.9,380.2L98.6,380.2L99.4,380.1L99.6,380.1M100.2,380.9L100.9,380.8L101.6,380.7L102.4,380.7L103.1,380.7L103.9,380.8L104.6,380.8L105.1,380.9L105.9,381.1L106.4,381.2L106.9,381.4L107.5,381.6L108.0,381.9L108.4,382.1L108.9,382.5L109.4,382.9L109.6,383.1L110.1,383.6L110.4,384.0L110.6,384.4L111.0,384.9L111.3,385.4L111.6,385.9L111.9,386.4L112.0,386.9L112.2,387.4L112.4,388.0L112.5,388.6L112.6,389.2L112.8,389.9L112.8,390.6L112.9,391.2L112.9,391.9L112.9,392.4L112.7,393.1L112.6,393.9L112.6,394.4L112.4,395.1L112.3,395.6L112.1,396.3L112.0,396.9L111.7,397.4L111.5,397.9L111.2,398.4L110.9,398.9L110.6,399.4L110.4,399.8L110.1,400.1L109.8,400.6L109.4,401.1L109.1,401.5L108.8,401.9L108.4,402.3L107.9,402.6L107.6,402.9L107.1,403.2L106.6,403.5L106.1,403.8L105.6,404.0L105.1,404.2L104.6,404.4L104.1,404.6L103.4,404.9L102.9,405.0L102.2,405.1L101.6,405.2L100.9,405.2L100.1,405.2L99.4,405.2L98.6,405.3L97.9,405.3L97.1,405.3L96.5,405.1L95.9,404.9L95.4,404.6L95.0,404.4L94.6,404.0L94.1,403.6L93.9,403.4L93.4,403.0L92.9,402.7L92.4,402.4L92.1,402.1L91.6,401.8L91.1,401.4L90.9,401.1L90.4,400.7L90.0,400.4L89.6,400.0L89.2,399.6L88.9,399.3L88.4,398.9L88.1,398.6L87.6,398.2L87.2,397.9L86.9,397.6L86.4,397.2L85.9,396.9L85.6,396.6L85.1,396.2L84.8,395.9L84.5,395.4L84.2,394.9L83.9,394.4L83.6,394.0L83.3,393.6L82.9,393.2L82.6,392.9L82.2,392.4L82.2,391.6L82.5,391.1L82.8,390.6L83.1,390.3L83.6,389.9L83.9,389.6L84.4,389.2L84.8,388.9L85.1,388.6L85.6,388.2L86.0,387.9L86.4,387.5L86.8,387.1L87.1,386.8L87.5,386.4L87.9,385.9L88.1,385.6L88.5,385.1L88.9,384.7L89.3,384.4L89.9,384.1L90.4,384.0L91.0,383.9L91.6,383.7L92.1,383.6L92.6,383.3L93.1,382.9L93.6,382.6L93.9,382.4L94.4,382.1L94.9,381.8L95.4,381.5L95.9,381.3L96.6,381.2L97.1,381.1L97.9,381.1L98.6,381.1L99.4,381.0L100.1,380.9L100.2,380.9M100.5,381.6L101.1,381.5L101.9,381.5L102.6,381.4L103.4,381.4L104.1,381.5L104.9,381.5L105.6,381.6L106.1,381.7L106.7,381.9L107.3,382.1L107.8,382.4L108.2,382.6L108.6,383.0L109.1,383.4L109.4,383.7L109.8,384.1L110.1,384.6L110.4,384.9L110.7,385.4L111.1,385.9L111.3,386.4L111.5,386.9L111.7,387.4L111.9,387.9L112.0,388.6L112.1,389.1L112.3,389.9L112.4,390.4L112.4,391.1L112.4,391.9L112.4,392.5L112.3,393.1L112.2,393.9L112.1,394.4L112.0,395.1L111.9,395.6L111.7,396.4L111.5,396.9L111.2,397.4L111.0,397.9L110.7,398.4L110.4,398.9L110.1,399.2L109.8,399.6L109.4,400.1L109.1,400.6L108.9,400.9L108.4,401.4L108.1,401.6L107.6,402.0L107.1,402.3L106.6,402.6L106.1,402.9L105.7,403.1L105.1,403.4L104.6,403.6L104.1,403.7L103.6,403.9L102.9,404.1L102.4,404.2L101.6,404.3L100.9,404.3L100.1,404.3L99.4,404.3L98.6,404.4L98.1,404.4L97.4,404.4L96.9,404.3L96.3,404.1L95.9,403.8L95.4,403.4L95.1,403.1L94.6,402.7L94.3,402.4L93.9,402.0L93.4,401.7L92.9,401.4L92.5,401.1L92.1,400.9L91.6,400.5L91.2,400.1L90.9,399.9L90.4,399.5L90.0,399.1L89.6,398.8L89.2,398.4L88.9,398.0L88.5,397.6L88.1,397.3L87.7,396.9L87.4,396.6L86.9,396.2L86.6,395.9L86.2,395.4L85.9,394.9L85.7,394.4L85.5,393.9L85.4,393.1L85.4,392.4L85.5,391.6L85.7,391.1L86.0,390.6L86.3,390.1L86.6,389.7L86.9,389.4L87.2,388.9L87.6,388.4L87.9,387.9L88.1,387.6L88.5,387.1L88.9,386.7L89.1,386.4L89.6,386.0L90.1,385.7L90.6,385.5L91.1,385.3L91.7,385.1L92.3,384.9L92.7,384.6L93.1,384.3L93.6,383.9L94.0,383.6L94.4,383.3L94.9,383.0L95.4,382.6L95.9,382.4L96.4,382.2L96.9,382.1L97.6,382.0L98.4,381.9L98.9,381.9L99.6,381.8L100.4,381.6L100.5,381.6M100.8,382.4L101.4,382.3L102.1,382.3L102.9,382.2L103.6,382.2L104.4,382.2L105.1,382.2L105.9,382.3L106.4,382.4L107.0,382.6L107.5,382.9L107.9,383.1L108.4,383.5L108.7,383.9L109.1,384.3L109.4,384.6L109.8,385.1L110.1,385.5L110.4,385.9L110.8,386.4L111.0,386.9L111.2,387.4L111.4,388.0L111.5,388.6L111.6,389.1L111.8,389.9L111.9,390.4L111.9,391.1L111.9,391.9L111.9,392.4L111.7,393.1L111.7,393.9L111.6,394.4L111.4,395.1L111.4,395.6L111.1,396.4L110.9,396.9L110.7,397.4L110.4,397.9L110.1,398.3L109.9,398.6L109.5,399.1L109.1,399.6L108.9,399.9L108.5,400.4L108.1,400.7L107.7,401.1L107.3,401.4L106.9,401.6L106.4,401.9L105.9,402.1L105.3,402.4L104.7,402.6L104.1,402.8L103.6,403.0L103.0,403.1L102.4,403.2L101.6,403.3L100.9,403.3L100.1,403.3L99.4,403.3L98.8,403.4L98.1,403.4L97.4,403.4L96.9,403.3L96.4,403.0L96.0,402.6L95.6,402.3L95.2,401.9L94.9,401.5L94.4,401.2L93.9,400.9L93.5,400.6L93.1,400.4L92.6,400.1L92.1,399.7L91.7,399.4L91.3,399.1L90.9,398.7L90.5,398.4L90.1,398.0L89.8,397.6L89.4,397.1L89.1,396.8L88.8,396.4L88.5,395.9L88.1,395.4L87.9,395.0L87.6,394.6L87.4,394.0L87.2,393.4L87.2,392.6L87.3,391.9L87.5,391.4L87.7,390.9L88.0,390.4L88.2,389.9L88.5,389.4L88.7,388.9L89.1,388.4L89.4,388.0L89.7,387.6L90.1,387.2L90.6,386.9L91.1,386.6L91.6,386.4L92.1,386.1L92.6,385.9L93.0,385.6L93.4,385.4L93.9,385.0L94.4,384.7L94.7,384.4L95.1,384.1L95.6,383.7L96.1,383.5L96.6,383.2L97.1,383.0L97.8,382.9L98.4,382.8L99.1,382.6L99.6,382.5L100.4,382.4L100.8,382.4M101.3,383.1L101.9,383.1L102.6,383.1L103.4,383.1L104.1,383.0L104.9,383.0L105.6,383.0L106.4,383.1L106.9,383.3L107.4,383.6L107.7,383.9L108.1,384.2L108.5,384.6L108.9,385.0L109.2,385.4L109.6,385.8L109.9,386.1L110.2,386.6L110.5,387.1L110.7,387.6L110.9,388.3L111.0,388.9L111.1,389.4L111.3,390.1L111.3,390.9L111.3,391.6L111.2,392.4L111.1,393.1L111.1,393.6L111.0,394.4L110.9,395.1L110.8,395.6L110.6,396.2L110.4,396.7L110.1,397.2L109.8,397.6L109.5,398.1L109.1,398.6L108.9,398.9L108.5,399.4L108.1,399.7L107.7,400.1L107.4,400.4L106.9,400.7L106.4,401.0L105.9,401.2L105.4,401.4L104.9,401.6L104.2,401.9L103.6,402.1L103.1,402.2L102.4,402.2L101.6,402.3L100.9,402.2L100.3,402.1L99.6,402.1L98.9,402.1L98.3,402.1L97.9,402.1L97.1,401.9L96.6,401.6L96.3,401.4L95.9,401.0L95.4,400.7L94.9,400.4L94.5,400.1L94.0,399.9L93.6,399.6L93.1,399.3L92.6,398.9L92.2,398.6L91.9,398.3L91.4,397.9L91.1,397.5L90.8,397.1L90.6,396.6L90.3,396.1L90.1,395.5L89.9,394.9L89.6,394.4L89.4,394.0L89.1,393.5L88.9,392.9L88.8,392.4L88.8,391.6L88.9,391.1L89.1,390.4L89.4,389.9L89.6,389.4L89.9,389.0L90.2,388.6L90.6,388.2L91.0,387.9L91.4,387.6L91.9,387.3L92.4,387.0L92.9,386.8L93.4,386.5L93.9,386.2L94.3,385.9L94.7,385.6L95.1,385.3L95.6,385.0L96.1,384.7L96.6,384.4L97.1,384.1L97.6,383.9L98.1,383.7L98.6,383.6L99.4,383.4L99.9,383.3L100.6,383.2L101.3,383.1M104.8,383.9L105.4,383.9L105.9,383.9L106.5,384.1L107.0,384.4L107.4,384.7L107.9,385.1L108.2,385.4L108.6,385.8L109.0,386.1L109.4,386.6L109.6,386.9L109.9,387.4L110.1,388.0L110.3,388.6L110.4,389.1L110.6,389.9L110.7,390.4L110.6,391.1L110.6,391.6L110.5,392.4L110.4,393.1L110.3,393.6L110.3,394.4L110.1,395.1L110.1,395.6L109.9,396.2L109.6,396.7L109.3,397.1L109.0,397.6L108.6,398.1L108.4,398.4L108.0,398.9L107.6,399.2L107.1,399.6L106.7,399.9L106.2,400.1L105.6,400.4L105.1,400.6L104.6,400.8L104.1,400.9L103.4,401.1L102.9,401.1L102.3,401.1L101.6,401.0L101.0,400.9L100.4,400.7L99.8,400.6L99.1,400.6L98.4,400.6L97.6,400.5L97.1,400.4L96.5,400.1L96.0,399.9L95.5,399.6L95.1,399.4L94.6,399.1L94.1,398.8L93.6,398.4L93.3,398.1L92.9,397.7L92.6,397.4L92.3,396.9L92.0,396.4L91.8,395.9L91.6,395.2L91.4,394.6L91.1,394.1L90.9,393.7L90.6,393.3L90.4,392.9L90.1,392.3L90.0,391.6L90.1,390.9L90.2,390.4L90.5,389.9L90.8,389.4L91.1,389.1L91.6,388.6L92.0,388.4L92.4,388.1L92.9,387.8L93.4,387.5L93.9,387.2L94.4,386.9L94.8,386.6L95.2,386.4L95.6,386.1L96.1,385.8L96.6,385.5L97.1,385.2L97.6,384.9L98.1,384.7L98.6,384.5L99.1,384.3L99.7,384.1L100.4,384.0L101.1,383.9L101.9,383.9L102.6,383.9L103.4,383.9L104.1,383.9L104.8,383.9M99.9,384.9L100.4,384.8L101.1,384.7L101.9,384.7L102.6,384.7L103.4,384.8L104.1,384.8L104.8,384.9L105.4,384.9L106.0,385.1L106.5,385.4L106.9,385.6L107.4,386.0L107.9,386.3L108.3,386.6L108.6,386.9L109.0,387.4L109.3,387.9L109.5,388.4L109.6,388.9L109.8,389.6L109.9,390.2L109.9,390.7L109.8,391.4L109.7,392.1L109.6,392.6L109.4,393.4L109.4,393.9L109.3,394.6L109.2,395.4L109.1,395.9L108.8,396.4L108.5,396.9L108.2,397.4L107.9,397.7L107.5,398.1L107.1,398.5L106.6,398.8L106.1,399.1L105.6,399.3L105.1,399.5L104.6,399.7L103.9,399.9L103.4,400.0L102.6,400.0L102.0,399.9L101.4,399.8L100.7,399.6L100.1,399.5L99.4,399.5L98.6,399.4L97.9,399.4L97.4,399.3L96.8,399.1L96.2,398.9L95.8,398.6L95.4,398.4L94.9,397.9L94.6,397.6L94.2,397.1L93.9,396.6L93.7,396.1L93.4,395.6L93.1,395.1L92.9,394.6L92.6,394.1L92.4,393.7L92.1,393.3L91.9,392.9L91.6,392.4L91.4,391.8L91.3,391.1L91.4,390.6L91.7,390.1L92.1,389.7L92.5,389.4L92.9,389.1L93.4,388.8L93.9,388.4L94.3,388.1L94.6,387.9L95.1,387.5L95.6,387.1L96.0,386.9L96.4,386.6L96.9,386.3L97.4,386.0L97.9,385.7L98.4,385.5L98.9,385.2L99.4,385.0L99.9,384.9M100.1,385.6L100.6,385.5L101.4,385.4L102.1,385.5L102.9,385.6L103.4,385.7L104.1,385.8L104.6,385.9L105.2,386.1L105.8,386.4L106.4,386.6L106.9,386.9L107.3,387.1L107.7,387.4L108.1,387.8L108.4,388.1L108.6,388.6L108.8,389.4L108.9,389.9L109.0,390.6L108.9,391.2L108.7,391.9L108.6,392.4L108.4,393.1L108.3,393.6L108.2,394.4L108.1,394.9L108.0,395.6L107.7,396.1L107.4,396.6L107.1,397.0L106.8,397.4L106.4,397.7L105.9,397.9L105.4,398.1L104.6,398.4L104.1,398.5L103.6,398.6L102.9,398.8L102.1,398.8L101.4,398.7L100.6,398.7L100.1,398.6L99.4,398.5L98.6,398.5L97.9,398.4L97.4,398.3L96.9,398.1L96.4,397.8L95.9,397.4L95.6,397.0L95.3,396.6L95.0,396.1L94.7,395.6L94.5,395.1L94.2,394.6L94.0,394.1L93.8,393.6L93.5,393.1L93.4,392.6L93.2,391.9L93.2,391.1L93.5,390.6L93.8,390.1L94.1,389.8L94.5,389.4L94.9,389.0L95.2,388.6L95.6,388.3L96.0,387.9L96.4,387.6L96.9,387.2L97.4,386.9L97.8,386.6L98.3,386.4L98.8,386.1L99.3,385.9L99.9,385.7L100.1,385.6M100.3,386.4L100.9,386.3L101.6,386.2L102.4,386.3L102.9,386.4L103.6,386.6L104.1,386.8L104.6,387.0L105.1,387.2L105.6,387.5L106.1,387.7L106.6,388.0L107.1,388.4L107.4,388.7L107.6,389.2L107.8,389.9L107.8,390.6L107.6,391.4L107.5,391.9L107.3,392.4L107.1,392.9L106.9,393.6L106.7,394.1L106.6,394.6L106.4,395.3L106.1,395.7L105.7,396.1L105.4,396.4L104.9,396.7L104.4,396.9L103.9,397.2L103.4,397.4L102.6,397.6L102.1,397.7L101.4,397.7L100.6,397.7L99.9,397.6L99.4,397.6L98.6,397.5L98.1,397.4L97.4,397.1L97.0,396.9L96.6,396.6L96.2,396.1L95.9,395.6L95.6,395.2L95.4,394.7L95.2,394.1L95.0,393.6L94.8,393.1L94.7,392.4L94.8,391.6L95.0,391.1L95.2,390.6L95.5,390.1L95.8,389.6L96.1,389.1L96.4,388.8L96.8,388.4L97.1,388.0L97.6,387.7L98.1,387.4L98.5,387.1L99.0,386.9L99.6,386.6L100.1,386.4L100.3,386.4M100.8,387.1L101.4,387.0L102.1,387.1L102.6,387.2L103.3,387.4L103.8,387.6L104.3,387.9L104.7,388.1L105.1,388.4L105.6,388.8L105.9,389.1L106.2,389.6L106.3,390.4L106.2,391.1L106.0,391.6L105.7,392.1L105.4,392.6L105.1,392.9L104.8,393.4L104.5,393.9L104.2,394.4L103.9,394.9L103.6,395.2L103.3,395.6L102.9,396.0L102.4,396.3L101.9,396.5L101.1,396.6L100.4,396.6L99.6,396.5L99.1,396.4L98.4,396.2L97.9,396.0L97.4,395.7L97.0,395.4L96.6,394.9L96.4,394.4L96.2,393.9L96.1,393.4L96.1,392.6L96.1,392.1L96.3,391.4L96.4,390.9L96.6,390.3L96.9,389.8L97.1,389.4L97.5,388.9L97.9,388.6L98.4,388.2L98.9,387.9L99.4,387.6L99.9,387.4L100.4,387.2L100.8,387.1M100.8,388.1L101.4,388.0L102.1,388.0L102.6,388.1L103.3,388.4L103.7,388.6L104.1,389.0L104.5,389.4L104.8,389.9L104.8,390.6L104.6,391.2L104.4,391.6L104.0,392.1L103.6,392.5L103.3,392.9L102.9,393.4L102.6,393.7L102.2,394.1L101.9,394.5L101.4,394.8L100.9,395.0L100.1,395.1L99.4,395.0L98.9,394.8L98.4,394.6L97.9,394.1L97.6,393.6L97.6,393.1L97.6,392.4L97.6,391.6L97.7,391.1L97.8,390.4L98.1,389.9L98.4,389.5L98.8,389.1L99.1,388.9L99.6,388.6L100.1,388.4L100.8,388.1" fill="none" stroke="#000" stroke-width="0.72" stroke-linejoin="round"/></g>
<path d="M57.1,370.5C58.8,372 61.2,374 61.4,378V408C61.2,414 59,418 57.1,421Z" fill="#111"/>
<rect x="57.6" y="385" width="2.3" height="15.5" fill="#777"/>
<path d="M84.7,368.9h0.7M108.1,414.6h0.7M120.0,387.5h0.7M67.6,412.7h0.7M82.0,422.7h0.7M118.2,397.1h0.7M125.2,393.3h0.7M97.2,368.7h0.7M119.4,373.9h0.7M119.5,393.5h0.7M122.4,410.7h0.7M57.5,415.7h0.7M122.3,381.9h0.7M95.3,368.3h0.7M70.8,374.6h0.7M115.0,418.3h0.7M80.6,372.3h0.7M121.3,388.6h0.7M89.8,419.4h0.7M81.6,365.8h0.7M115.2,403.1h0.7M86.5,420.3h0.7M73.0,372.8h0.7M117.0,398.0h0.7M107.0,418.3h0.7M80.9,370.6h0.7M119.3,395.7h0.7M73.5,413.6h0.7M113.6,410.0h0.7M122.7,390.1h0.7M101.3,372.2h0.7M124.5,392.3h0.7M119.3,381.2h0.7M120.9,391.1h0.7M115.9,380.7h0.7M72.1,416.7h0.7M65.4,414.3h0.7M114.4,375.7h0.7M116.6,400.3h0.7M118.5,374.2h0.7M125.6,388.6h0.7M115.8,379.4h0.7M115.1,408.8h0.7M123.1,380.8h0.7M119.1,389.4h0.7M109.2,412.4h0.7M123.4,385.0h0.7M93.7,418.4h0.7M77.7,371.6h0.7M59.8,413.3h0.7M118.8,385.8h0.7M124.9,386.2h0.7M118.8,406.5h0.7M118.4,395.6h0.7M120.0,385.2h0.7M90.8,362.3h0.7M96.9,369.4h0.7M59.6,412.2h0.7M122.8,395.7h0.7M116.6,411.4h0.7M97.2,420.7h0.7M110.2,410.9h0.7M72.5,367.9h0.7M112.7,375.4h0.7M123.2,402.1h0.7M113.8,372.9h0.7M88.1,421.4h0.7M78.3,420.1h0.7M80.7,416.8h0.7M120.6,390.5h0.7M88.5,416.7h0.7M67.2,370.6h0.7M112.2,375.3h0.7M124.4,389.5h0.7M64.4,413.3h0.7M125.3,392.0h0.7M95.1,370.7h0.7M118.4,378.4h0.7M114.2,376.7h0.7M63.6,375.2h0.7M67.8,371.3h0.7M120.2,385.0h0.7M118.1,388.5h0.7M60.6,414.7h0.7M61.4,415.4h0.7M117.3,395.7h0.7M126.2,389.3h0.7M78.7,414.7h0.7M75.8,418.0h0.7M60.0,410.5h0.7M83.2,415.5h0.7M108.2,419.5h0.7M76.6,367.1h0.7M103.3,417.3h0.7M57.5,374.3h0.7M125.8,390.9h0.7M65.6,415.5h0.7M67.0,412.3h0.7M92.7,371.0h0.7M111.8,409.2h0.7M76.8,368.7h0.7M121.6,379.7h0.7M70.9,415.9h0.7M119.1,386.3h0.7M120.3,402.9h0.7M59.9,412.9h0.7M72.9,416.2h0.7M117.7,413.9h0.7M82.4,363.7h0.7M120.1,385.6h0.7M125.8,389.6h0.7M95.6,367.9h0.7M118.7,397.4h0.7M124.7,403.6h0.7M62.8,416.3h0.7M91.6,419.8h0.7M101.3,370.5h0.7M73.3,372.8h0.7M112.9,409.2h0.7M77.4,370.5h0.7M104.1,372.5h0.7M130.4,400.5h0.7M86.0,371.4h0.7M65.0,414.9h0.7M117.3,416.8h0.7M78.6,366.5h0.7M130.0,396.4h0.7M67.3,415.4h0.7M60.1,422.4h0.7M109.6,374.0h0.7M84.9,371.4h0.7M110.1,417.4h0.7M107.6,418.5h0.7M109.7,372.0h0.7M121.4,387.7h0.7M108.8,412.5h0.7M108.1,416.7h0.7M81.9,371.4h0.7M117.3,409.6h0.7M82.9,415.7h0.7M119.5,398.1h0.7M60.9,371.5h0.7M101.6,366.7h0.7M109.5,374.3h0.7M83.2,415.6h0.7M78.8,367.3h0.7M63.8,363.8h0.7M118.4,380.1h0.7M77.1,368.5h0.7M100.5,370.9h0.7M96.1,365.6h0.7M126.1,395.7h0.7M123.8,411.3h0.7M117.8,386.3h0.7M86.8,370.7h0.7M125.4,377.1h0.7M130.5,401.9h0.7M82.4,419.8h0.7M109.3,424.7h0.7M106.0,373.1h0.7M92.9,364.1h0.7M79.8,416.4h0.7M96.0,419.2h0.7M118.1,389.3h0.7M78.1,414.4h0.7M104.7,417.0h0.7M119.2,404.0h0.7M93.0,417.5h0.7M109.9,365.7h0.7M68.2,374.2h0.7M59.7,374.4h0.7M60.4,370.3h0.7M76.7,418.6h0.7M77.8,366.3h0.7M112.6,410.4h0.7M92.6,368.6h0.7M116.2,380.1h0.7M122.2,385.4h0.7M81.1,371.7h0.7M120.1,395.4h0.7M125.5,396.7h0.7M115.8,375.8h0.7M71.9,413.2h0.7M96.3,371.0h0.7M80.2,372.0h0.7M122.1,379.5h0.7M122.8,381.7h0.7M105.8,372.2h0.7M86.7,418.8h0.7M57.7,416.4h0.7M90.1,369.8h0.7M118.7,380.8h0.7M104.1,372.8h0.7M118.5,388.5h0.7M121.9,374.0h0.7M118.1,393.6h0.7M110.3,418.9h0.7M117.9,382.2h0.7M114.4,408.1h0.7M115.5,402.5h0.7M107.4,413.7h0.7M104.6,368.2h0.7M76.2,413.4h0.7M90.3,420.0h0.7M116.0,403.5h0.7M69.3,374.6h0.7M111.9,410.4h0.7M70.0,412.2h0.7M112.2,408.9h0.7M91.8,370.9h0.7M87.4,422.1h0.7M96.3,420.6h0.7M118.1,386.0h0.7M116.7,402.4h0.7M110.3,366.8h0.7M59.0,424.1h0.7M108.5,415.8h0.7M117.7,406.5h0.7M59.1,414.1h0.7M113.3,371.5h0.7M67.2,375.3h0.7M66.4,373.3h0.7M116.1,402.7h0.7M94.9,369.3h0.7M75.9,418.0h0.7M120.8,389.6h0.7M125.5,387.8h0.7M78.8,369.8h0.7M121.6,410.8h0.7M87.1,415.9h0.7M119.1,405.8h0.7M107.0,373.2h0.7M80.1,414.9h0.7M87.7,370.9h0.7M108.2,416.2h0.7M116.9,401.0h0.7M111.7,374.6h0.7M120.2,394.6h0.7M116.2,405.8h0.7M108.3,373.6h0.7M70.0,417.0h0.7M125.2,385.6h0.7M99.2,418.0h0.7M105.1,416.3h0.7M93.7,369.6h0.7M117.9,407.7h0.7M122.1,375.4h0.7M57.9,413.9h0.7M122.8,397.4h0.7M122.3,389.1h0.7M73.1,418.0h0.7M130.9,367.9h0.7M118.3,399.0h0.7M117.7,377.0h0.7M98.7,366.6h0.7M115.9,413.6h0.7M116.4,399.3h0.7M109.6,418.0h0.7M115.4,402.9h0.7M113.8,377.8h0.7M106.6,423.5h0.7M90.2,370.1h0.7M61.1,368.0h0.7M110.1,412.8h0.7M115.6,381.1h0.7M118.0,380.2h0.7M108.5,417.4h0.7M115.1,376.8h0.7M86.5,418.0h0.7M118.9,407.4h0.7M113.0,377.1h0.7M87.9,368.2h0.7M59.8,373.3h0.7M92.7,421.7h0.7M124.5,384.1h0.7M95.9,371.2h0.7M120.9,374.9h0.7M96.2,418.2h0.7M63.0,371.3h0.7M77.3,414.7h0.7M87.9,370.7h0.7M84.7,421.0h0.7M117.3,396.3h0.7M104.7,367.2h0.7M88.3,419.3h0.7M116.0,380.0h0.7M73.4,413.0h0.7M120.5,395.7h0.7M98.4,369.3h0.7M86.1,370.0h0.7M99.5,370.9h0.7M99.4,371.2h0.7M64.9,367.8h0.7M101.1,367.4h0.7M108.3,420.2h0.7M91.9,369.5h0.7M121.2,394.1h0.7M102.0,370.1h0.7M102.7,372.4h0.7M71.8,414.1h0.7M99.7,419.7h0.7M120.5,390.5h0.7M76.6,363.4h0.7M107.0,426.4h0.7M113.4,367.3h0.7M127.1,382.7h0.7M119.3,397.1h0.7M96.8,417.9h0.7M81.8,416.0h0.7M118.0,403.9h0.7M118.3,383.6h0.7M101.9,416.3h0.7M78.1,417.4h0.7M90.8,417.3h0.7M68.6,412.3h0.7M85.9,369.6h0.7M58.0,375.0h0.7M126.6,391.9h0.7M119.4,393.9h0.7M87.5,416.4h0.7M66.7,373.0h0.7M115.3,409.5h0.7M117.1,381.3h0.7M65.7,414.6h0.7M102.4,371.8h0.7M118.8,391.0h0.7M69.2,369.8h0.7M75.8,372.3h0.7M77.8,419.6h0.7M112.3,376.0h0.7M102.0,417.8h0.7M122.7,395.5h0.7M100.9,367.0h0.7M82.1,415.0h0.7M107.2,367.7h0.7M106.5,416.0h0.7M88.0,363.8h0.7M57.6,410.5h0.7M69.4,371.3h0.7M116.1,378.4h0.7M111.5,420.4h0.7M118.0,392.1h0.7M115.1,408.8h0.7M57.7,413.5h0.7M104.5,369.8h0.7M78.1,416.5h0.7M95.5,418.7h0.7M80.4,371.1h0.7M117.5,398.0h0.7M119.0,374.4h0.7M125.1,413.2h0.7M90.4,366.2h0.7M118.6,394.6h0.7M81.7,415.0h0.7M60.6,413.2h0.7M96.0,369.9h0.7M87.8,416.5h0.7M66.7,373.1h0.7M82.8,415.6h0.7M119.7,393.0h0.7M98.0,371.2h0.7M122.6,412.9h0.7M83.1,415.5h0.7M65.0,411.5h0.7M86.7,421.4h0.7M71.5,373.7h0.7M119.8,372.8h0.7M92.9,370.8h0.7M120.5,397.1h0.7M121.1,383.6h0.7M119.3,379.6h0.7M123.0,389.5h0.7M110.7,374.2h0.7M68.5,363.2h0.7M119.5,390.7h0.7M117.4,374.0h0.7M122.6,388.4h0.7M59.4,419.5h0.7M70.2,371.5h0.7M113.0,407.0h0.7M122.7,407.4h0.7M108.8,374.3h0.7M130.3,390.5h0.7M108.1,421.6h0.7M115.0,378.3h0.7M70.6,412.1h0.7M84.1,416.5h0.7M115.9,380.0h0.7M107.3,424.1h0.7M114.8,405.7h0.7M123.9,393.5h0.7M122.2,412.1h0.7M124.8,386.0h0.7M70.6,412.2h0.7M111.5,374.1h0.7M99.1,419.1h0.7M120.1,397.3h0.7M105.8,373.1h0.7M128.4,387.1h0.7M69.4,418.1h0.7M80.3,415.6h0.7M119.3,391.9h0.7M120.3,379.1h0.7M115.9,381.6h0.7M100.2,422.8h0.7M69.5,370.2h0.7M86.7,417.8h0.7M66.9,417.1h0.7M104.9,372.6h0.7M121.9,379.0h0.7M127.3,399.9h0.7M107.8,415.4h0.7M89.1,420.4h0.7M86.1,424.7h0.7M108.7,374.5h0.7M79.7,371.8h0.7M121.7,392.2h0.7M118.8,398.9h0.7M112.6,408.8h0.7M93.4,369.9h0.7M118.7,407.5h0.7M100.2,418.8h0.7M101.7,418.5h0.7M105.9,419.8h0.7M106.9,418.9h0.7M73.6,421.2h0.7M74.1,367.5h0.7M107.5,418.5h0.7M66.6,374.2h0.7M122.8,376.2h0.7M118.4,389.4h0.7M95.7,420.6h0.7M122.2,403.4h0.7M115.2,379.3h0.7M116.8,381.3h0.7M86.7,418.3h0.7M78.9,416.1h0.7M97.4,370.6h0.7M75.0,373.4h0.7M117.8,381.1h0.7M109.8,372.4h0.7M120.8,399.5h0.7M81.3,372.6h0.7M115.8,400.6h0.7M86.1,419.6h0.7M81.9,416.9h0.7M93.1,369.6h0.7M108.3,372.0h0.7M121.9,385.0h0.7M117.5,407.7h0.7M124.5,382.4h0.7M112.8,373.5h0.7M114.2,378.6h0.7M83.7,372.1h0.7M90.9,417.1h0.7M59.2,411.6h0.7M117.4,384.9h0.7M69.9,411.5h0.7M117.7,395.3h0.7M120.1,395.8h0.7M120.6,380.7h0.7M124.1,392.0h0.7M68.4,423.5h0.7M77.1,414.9h0.7M111.8,416.2h0.7M86.6,370.4h0.7M117.8,394.0h0.7M118.5,380.6h0.7M77.5,369.3h0.7M117.0,383.3h0.7M60.8,368.9h0.7M108.4,372.8h0.7M77.7,415.3h0.7M60.9,411.2h0.7M63.9,411.5h0.7M103.5,368.8h0.7M114.8,371.1h0.7M58.2,365.6h0.7M84.4,369.6h0.7M102.7,369.6h0.7M108.3,420.8h0.7M107.5,417.8h0.7M84.5,372.2h0.7M61.5,373.6h0.7M76.1,421.0h0.7M116.7,400.1h0.7M116.1,380.8h0.7M118.9,390.2h0.7M70.2,374.1h0.7M117.4,401.4h0.7M73.3,412.6h0.7M119.3,394.9h0.7M68.1,416.0h0.7M77.7,370.0h0.7M116.2,403.5h0.7M98.4,424.2h0.7M98.8,370.8h0.7M120.7,392.8h0.7M125.2,405.9h0.7M115.2,377.9h0.7M83.6,421.3h0.7M122.3,391.8h0.7M118.0,391.4h0.7M64.3,418.5h0.7M88.8,364.8h0.7M77.0,417.4h0.7M106.1,370.4h0.7M116.4,381.8h0.7M127.0,392.2h0.7M118.9,391.1h0.7M105.9,366.8h0.7M116.0,376.0h0.7M120.1,379.6h0.7M103.7,420.6h0.7M69.7,418.8h0.7M119.6,401.4h0.7M102.6,419.3h0.7M96.2,417.2h0.7M123.4,381.3h0.7M95.2,370.1h0.7M119.3,403.7h0.7M119.4,376.5h0.7M63.0,364.0h0.7M99.8,422.8h0.7M102.3,421.6h0.7M120.6,396.8h0.7M114.7,405.0h0.7M113.2,410.0h0.7M95.6,419.0h0.7M121.6,390.2h0.7M115.8,401.4h0.7M115.1,372.6h0.7M108.5,373.1h0.7M127.3,395.4h0.7M68.0,372.8h0.7M74.1,366.3h0.7M115.8,380.8h0.7M72.2,413.6h0.7M59.1,374.4h0.7M93.2,417.2h0.7M119.5,411.5h0.7M117.9,408.4h0.7M100.0,417.8h0.7M114.9,368.6h0.7M68.6,371.7h0.7M108.7,418.3h0.7M96.1,418.5h0.7M96.6,368.9h0.7M117.6,414.4h0.7M77.8,364.8h0.7M89.3,370.6h0.7M103.4,369.9h0.7M65.8,374.9h0.7M119.2,382.7h0.7M78.5,418.6h0.7M121.4,387.2h0.7M84.3,370.4h0.7M70.7,374.2h0.7M100.7,363.3h0.7M87.3,366.2h0.7M120.9,386.5h0.7M117.8,394.6h0.7M106.7,373.3h0.7M118.2,381.8h0.7M66.9,369.8h0.7M112.0,409.1h0.7M116.8,383.2h0.7M100.3,371.1h0.7M120.0,393.1h0.7M120.6,372.1h0.7M59.9,374.8h0.7M85.6,370.3h0.7M112.9,414.6h0.7M67.5,374.4h0.7M98.8,420.6h0.7M126.9,384.2h0.7M79.3,371.0h0.7M66.6,411.9h0.7M115.5,412.8h0.7M90.8,417.7h0.7M70.8,370.7h0.7M69.7,415.1h0.7M83.0,417.0h0.7M118.3,375.0h0.7M120.3,388.8h0.7M119.2,405.0h0.7M61.8,373.3h0.7M89.0,417.3h0.7M66.1,411.6h0.7M110.9,416.8h0.7M123.3,388.3h0.7M122.9,395.2h0.7M85.5,371.9h0.7M114.5,375.7h0.7M66.8,412.8h0.7M95.5,420.8h0.7M130.9,371.0h0.7M94.4,367.5h0.7M107.7,368.3h0.7M118.8,387.1h0.7M81.5,415.1h0.7M106.5,372.6h0.7M120.1,391.2h0.7M119.1,394.8h0.7M70.2,416.6h0.7M115.6,371.2h0.7M105.9,364.7h0.7M128.1,393.9h0.7M115.1,379.6h0.7M60.2,375.0h0.7M105.8,414.3h0.7M111.8,410.8h0.7M90.8,369.1h0.7M124.6,397.8h0.7M73.4,415.3h0.7M120.7,418.3h0.7M76.7,362.2h0.7M82.2,415.6h0.7M105.6,367.2h0.7M65.3,410.9h0.7M131.9,402.5h0.7M101.2,420.4h0.7M118.6,406.2h0.7M83.0,368.5h0.7M60.1,410.3h0.7M67.0,373.6h0.7M84.9,416.3h0.7M92.5,366.3h0.7M113.4,376.5h0.7M64.2,410.6h0.7M81.2,371.1h0.7M118.1,407.6h0.7M59.0,411.7h0.7M117.9,412.8h0.7M101.8,417.4h0.7M124.8,384.8h0.7M72.9,370.9h0.7M117.0,373.7h0.7M116.5,382.8h0.7M88.1,367.8h0.7M119.1,411.8h0.7M68.9,368.4h0.7M67.4,368.1h0.7M97.2,419.4h0.7M77.5,415.7h0.7M61.2,373.7h0.7M124.0,378.2h0.7M102.7,416.1h0.7M117.3,404.8h0.7M72.6,373.9h0.7M120.1,388.4h0.7M103.6,416.9h0.7M100.6,362.1h0.7M102.4,424.6h0.7M120.1,399.6h0.7M83.4,371.5h0.7M82.3,415.4h0.7M83.9,368.9h0.7M121.3,384.7h0.7M117.5,400.5h0.7M70.0,373.4h0.7M105.6,417.7h0.7M58.0,411.7h0.7M101.4,371.0h0.7M61.5,371.2h0.7M107.6,368.1h0.7M120.8,400.1h0.7M107.7,371.6h0.7M126.7,397.3h0.7M115.1,415.9h0.7M81.7,417.7h0.7M92.7,370.2h0.7M114.5,377.3h0.7M119.5,385.3h0.7M121.2,382.1h0.7M117.2,385.6h0.7M121.6,389.3h0.7M72.5,413.9h0.7M61.2,375.5h0.7M117.8,378.4h0.7M117.6,382.8h0.7M108.4,370.9h0.7M113.6,406.0h0.7M129.4,383.5h0.7M109.1,418.6h0.7M74.2,416.1h0.7M72.5,372.9h0.7M108.2,373.1h0.7M65.2,414.9h0.7M118.0,399.2h0.7M83.6,364.2h0.7M121.4,406.0h0.7M131.0,383.2h0.7M79.7,414.8h0.7M116.4,413.4h0.7M107.0,418.9h0.7M66.4,411.7h0.7M91.4,418.6h0.7M59.7,374.6h0.7M119.8,377.8h0.7M85.3,368.1h0.7M109.4,417.0h0.7M74.6,371.2h0.7M117.2,398.4h0.7M126.4,394.2h0.7M77.3,415.9h0.7M118.4,382.6h0.7M74.1,370.8h0.7M119.5,382.1h0.7M59.8,367.6h0.7M66.6,375.2h0.7M122.5,406.0h0.7M116.1,367.8h0.7M100.7,424.1h0.7M118.8,397.0h0.7M62.3,375.1h0.7M90.4,416.4h0.7M97.2,370.7h0.7M114.4,376.3h0.7M93.6,419.6h0.7M74.8,373.1h0.7M111.4,412.9h0.7M66.1,369.1h0.7M125.6,396.4h0.7M119.0,408.8h0.7M64.3,372.3h0.7M116.5,377.0h0.7M122.6,398.2h0.7M122.9,402.0h0.7M74.6,371.2h0.7M129.6,384.6h0.7M96.7,426.6h0.7M116.4,376.4h0.7M79.8,414.9h0.7M76.0,372.1h0.7M118.3,389.7h0.7M119.8,395.1h0.7M116.1,402.7h0.7M68.7,412.3h0.7M121.6,415.2h0.7M69.1,411.7h0.7M80.8,415.6h0.7M114.2,417.6h0.7M125.6,376.6h0.7M108.3,416.0h0.7M117.8,395.3h0.7M111.6,373.7h0.7M96.6,371.3h0.7M76.6,414.2h0.7M118.0,406.6h0.7M88.7,368.7h0.7M122.6,401.6h0.7M75.5,367.3h0.7M120.3,382.9h0.7M119.6,400.0h0.7M114.6,408.1h0.7M89.2,371.2h0.7M79.7,367.4h0.7M118.2,400.7h0.7M108.5,415.8h0.7M63.9,415.4h0.7M121.9,379.9h0.7M121.6,400.7h0.7M71.9,412.3h0.7M94.9,417.3h0.7M118.6,392.6h0.7M102.5,417.4h0.7M119.9,376.0h0.7M63.0,372.5h0.7M66.3,375.0h0.7M67.9,412.9h0.7M105.0,417.7h0.7M118.0,390.7h0.7M114.9,411.5h0.7M102.4,370.6h0.7M118.5,394.2h0.7M117.7,387.2h0.7M123.4,386.7h0.7M113.4,371.7h0.7M125.6,405.1h0.7M111.2,410.5h0.7M116.9,406.5h0.7M69.1,413.4h0.7M128.6,389.2h0.7M94.7,417.0h0.7M119.7,400.2h0.7M92.7,417.5h0.7M122.1,384.5h0.7M69.2,411.7h0.7M105.8,371.8h0.7M85.8,369.2h0.7M91.6,419.3h0.7M115.3,381.1h0.7M88.8,367.4h0.7M115.2,404.8h0.7M101.9,419.3h0.7M68.0,414.3h0.7M73.9,424.0h0.7M77.1,419.6h0.7M125.7,388.9h0.7M107.8,372.9h0.7M90.7,368.4h0.7M69.8,374.2h0.7M120.5,406.1h0.7M78.4,418.6h0.7M102.2,362.3h0.7M103.3,415.8h0.7M77.0,414.1h0.7M57.8,411.4h0.7M100.0,370.3h0.7M74.4,367.8h0.7M70.6,413.1h0.7M117.5,407.0h0.7M120.2,380.9h0.7M116.0,378.5h0.7M109.9,366.5h0.7M98.1,425.0h0.7M115.5,416.4h0.7M96.7,422.1h0.7M105.1,415.8h0.7M118.6,389.5h0.7M107.1,416.6h0.7M119.6,372.0h0.7M112.3,410.3h0.7M63.2,373.0h0.7M116.7,383.2h0.7M90.0,417.3h0.7M119.0,386.0h0.7M105.9,417.8h0.7M119.1,402.9h0.7M65.2,374.9h0.7M117.3,373.7h0.7M83.6,362.8h0.7M125.1,400.2h0.7M76.5,416.6h0.7M105.9,372.7h0.7M119.1,391.3h0.7M76.5,423.4h0.7M118.7,383.1h0.7M101.7,419.7h0.7M104.9,416.2h0.7M119.6,393.0h0.7M113.8,406.5h0.7M93.0,368.4h0.7M122.7,394.8h0.7M112.1,413.9h0.7M73.2,372.8h0.7M101.6,367.7h0.7M106.8,366.1h0.7M96.7,371.1h0.7M66.2,373.2h0.7M73.2,415.6h0.7M119.1,389.3h0.7M117.6,397.0h0.7M111.7,375.6h0.7M58.9,375.1h0.7M126.2,398.3h0.7M109.6,413.3h0.7M78.6,371.5h0.7M128.0,386.8h0.7M119.4,407.4h0.7M107.3,421.0h0.7M59.5,374.2h0.7M117.3,383.1h0.7M123.7,399.8h0.7M68.7,371.0h0.7M117.2,404.1h0.7M100.0,422.1h0.7M73.7,374.0h0.7M123.7,391.4h0.7M97.9,370.2h0.7M119.3,395.2h0.7M96.6,422.0h0.7M121.6,397.3h0.7M80.8,372.4h0.7M61.3,375.7h0.7M116.4,405.6h0.7M120.2,417.0h0.7M118.1,388.9h0.7M121.2,392.4h0.7M104.2,415.6h0.7M82.3,369.8h0.7M95.1,420.5h0.7M120.8,390.0h0.7M113.0,377.3h0.7M79.4,414.7h0.7M72.7,373.5h0.7M90.1,370.9h0.7M107.1,373.7h0.7M112.7,410.3h0.7M99.9,369.7h0.7M119.2,388.7h0.7M117.6,372.9h0.7M131.2,397.6h0.7M100.2,370.6h0.7M114.3,414.3h0.7M78.3,419.1h0.7M114.6,376.1h0.7M121.9,379.4h0.7M115.2,402.9h0.7M108.6,413.2h0.7M76.2,368.2h0.7M59.3,410.7h0.7M78.6,415.8h0.7M80.9,415.1h0.7M120.5,387.3h0.7M80.6,416.2h0.7M119.7,397.8h0.7M105.2,371.6h0.7M63.2,374.7h0.7M124.7,402.1h0.7M120.0,398.4h0.7M106.8,415.5h0.7M121.6,412.1h0.7M79.6,372.3h0.7M125.6,383.4h0.7M78.0,414.6h0.7M126.3,389.2h0.7M107.1,372.7h0.7M93.2,419.6h0.7M120.1,388.3h0.7M112.0,375.3h0.7M122.5,394.3h0.7M65.1,375.1h0.7M63.0,374.1h0.7M113.0,409.4h0.7M111.6,415.1h0.7M118.1,384.6h0.7M98.6,371.2h0.7M126.3,390.8h0.7M119.7,383.8h0.7M119.3,387.1h0.7M75.0,373.2h0.7M71.2,414.3h0.7M78.2,372.0h0.7M96.6,366.9h0.7M68.9,411.7h0.7M68.2,413.4h0.7M70.9,373.2h0.7M97.5,371.3h0.7M116.3,401.2h0.7M91.7,418.8h0.7M62.5,373.5h0.7M122.8,397.1h0.7M71.1,374.0h0.7M63.4,413.3h0.7M120.1,390.2h0.7M116.1,382.0h0.7M123.2,408.7h0.7M120.2,396.4h0.7M73.8,372.2h0.7M117.1,385.4h0.7M107.8,420.5h0.7M103.4,415.4h0.7M117.6,394.7h0.7M119.0,409.0h0.7M72.2,371.0h0.7M125.1,384.8h0.7M63.8,418.1h0.7M114.3,371.6h0.7M73.2,423.0h0.7M79.2,416.9h0.7M60.7,411.2h0.7M115.9,381.3h0.7M95.9,369.4h0.7M68.1,374.9h0.7M59.4,413.5h0.7M117.4,386.0h0.7M111.0,415.4h0.7M106.0,372.4h0.7M84.1,416.2h0.7M84.4,417.2h0.7M61.7,412.7h0.7M83.5,372.2h0.7M79.2,372.7h0.7M83.5,368.4h0.7M100.0,367.7h0.7M109.7,413.1h0.7M118.3,392.6h0.7M62.5,414.2h0.7M114.2,374.4h0.7M115.6,378.5h0.7M61.1,418.1h0.7M96.5,425.9h0.7M106.4,369.6h0.7M105.5,414.6h0.7M125.4,398.7h0.7M83.5,363.1h0.7M116.9,404.7h0.7M69.4,374.3h0.7M116.2,379.2h0.7M102.4,421.5h0.7M69.0,413.4h0.7M87.6,367.9h0.7M62.0,410.8h0.7M113.7,364.4h0.7M58.6,417.8h0.7M117.8,402.5h0.7M114.8,406.0h0.7M99.4,364.9h0.7M90.1,369.2h0.7M119.8,396.0h0.7M116.4,382.0h0.7M106.1,415.9h0.7M57.7,374.7h0.7M122.0,383.7h0.7M112.8,370.1h0.7M120.5,393.6h0.7M93.7,420.6h0.7M107.0,374.0h0.7M74.9,415.1h0.7M114.3,371.1h0.7M112.7,417.7h0.7M118.6,394.5h0.7M92.3,370.3h0.7M68.7,414.8h0.7M78.4,417.8h0.7M85.3,370.9h0.7M97.2,370.0h0.7M111.8,373.3h0.7M118.1,394.8h0.7M86.2,420.3h0.7M86.3,417.1h0.7M114.9,376.7h0.7M80.8,366.9h0.7M115.4,402.6h0.7M126.5,400.3h0.7M105.6,373.2h0.7M116.0,403.3h0.7M109.7,422.8h0.7M82.7,370.9h0.7M118.7,375.5h0.7M78.2,416.8h0.7M93.2,371.1h0.7M104.3,370.3h0.7M93.7,371.5h0.7M71.6,414.3h0.7M98.5,370.4h0.7M91.1,369.4h0.7M118.6,405.6h0.7M112.4,414.1h0.7M71.5,413.8h0.7M119.2,386.9h0.7M59.4,419.0h0.7M106.3,370.9h0.7M121.4,387.5h0.7M118.0,380.9h0.7M117.6,397.9h0.7M82.6,371.9h0.7M92.3,370.9h0.7M104.7,423.1h0.7M68.6,375.2h0.7M119.4,393.3h0.7M111.1,418.5h0.7M110.7,375.2h0.7M117.6,380.6h0.7M119.6,399.3h0.7M58.7,368.7h0.7M98.8,365.6h0.7M113.4,406.3h0.7M115.7,381.1h0.7M104.9,368.8h0.7M66.4,374.5h0.7M66.1,411.3h0.7M110.1,414.0h0.7M120.1,393.9h0.7M71.6,372.7h0.7M81.5,416.6h0.7M113.2,372.2h0.7M73.8,413.8h0.7M67.6,371.1h0.7M72.9,419.6h0.7M110.1,414.3h0.7M126.6,393.5h0.7M122.8,386.9h0.7M117.3,400.4h0.7M111.6,409.5h0.7M119.8,398.9h0.7M114.4,411.3h0.7M63.1,369.5h0.7M119.1,385.4h0.7M115.5,413.7h0.7M119.7,387.4h0.7M85.1,421.8h0.7M120.1,396.7h0.7M61.9,375.7h0.7M98.3,418.0h0.7M118.6,385.8h0.7M117.5,397.8h0.7M117.5,407.2h0.7M105.9,416.8h0.7M62.6,372.3h0.7M96.7,417.3h0.7M119.4,400.3h0.7M117.4,380.7h0.7M116.0,377.6h0.7M63.2,423.2h0.7M96.1,420.2h0.7M127.6,397.6h0.7M119.4,378.5h0.7M92.9,422.2h0.7M97.1,364.8h0.7M77.7,367.7h0.7M118.6,392.1h0.7M119.8,401.5h0.7M107.4,363.3h0.7M108.9,371.7h0.7M103.8,369.2h0.7M106.0,373.4h0.7M85.8,371.6h0.7M86.1,370.4h0.7M108.9,370.4h0.7M116.5,381.0h0.7M104.2,370.4h0.7M110.5,414.4h0.7M127.2,383.8h0.7M94.6,370.2h0.7M121.1,408.2h0.7M116.0,415.0h0.7M121.8,380.0h0.7M93.6,363.3h0.7M114.7,408.1h0.7M127.1,413.6h0.7M87.9,417.8h0.7M109.7,412.2h0.7M118.3,402.7h0.7M116.5,378.3h0.7M115.9,373.1h0.7M87.8,368.3h0.7M113.1,415.8h0.7M119.4,399.0h0.7M70.4,374.7h0.7M87.6,370.3h0.7M108.5,374.7h0.7M76.5,413.9h0.7M105.8,372.4h0.7M109.6,367.7h0.7M118.7,381.9h0.7M118.1,377.6h0.7M58.5,411.7h0.7M123.9,398.7h0.7M122.1,390.7h0.7M89.4,422.3h0.7M102.7,416.5h0.7M101.3,370.5h0.7M74.2,373.4h0.7M117.8,385.6h0.7M94.0,368.6h0.7M77.7,414.0h0.7M61.6,414.5h0.7M60.8,374.9h0.7M88.8,418.4h0.7M119.9,398.3h0.7M81.2,372.7h0.7M116.6,405.1h0.7M112.5,410.4h0.7M68.4,412.3h0.7M94.0,421.8h0.7M94.4,418.5h0.7M126.3,384.9h0.7M125.4,386.7h0.7M100.2,365.6h0.7M119.8,385.4h0.7M117.0,371.3h0.7M116.0,370.2h0.7M84.2,415.8h0.7M68.3,365.6h0.7M106.0,370.3h0.7M114.4,409.6h0.7M116.4,399.9h0.7M124.1,386.3h0.7M82.2,415.7h0.7M68.1,373.1h0.7M107.2,372.0h0.7M121.5,394.7h0.7M89.1,369.9h0.7M111.0,411.2h0.7M75.7,419.5h0.7M118.7,415.7h0.7M90.6,417.7h0.7M103.5,368.7h0.7M128.9,385.9h0.7M70.1,418.4h0.7M88.0,416.6h0.7M117.1,402.5h0.7M113.0,408.6h0.7M107.6,373.9h0.7M73.6,373.8h0.7M100.5,368.4h0.7M108.6,418.1h0.7M110.3,374.5h0.7M106.4,424.5h0.7M67.3,363.7h0.7M78.8,415.4h0.7M118.9,395.8h0.7M92.4,367.1h0.7M125.0,409.5h0.7M118.9,411.6h0.7M67.6,411.5h0.7M114.9,411.3h0.7M113.6,410.7h0.7M122.9,414.1h0.7M118.7,381.8h0.7M82.8,420.9h0.7M122.1,391.7h0.7M114.5,373.9h0.7M78.3,424.8h0.7M68.0,374.4h0.7M119.0,387.7h0.7M60.8,411.6h0.7M74.8,415.4h0.7M114.3,375.9h0.7M98.7,366.7h0.7M116.7,400.9h0.7M119.3,402.1h0.7M67.1,412.8h0.7M57.6,373.9h0.7M68.7,416.1h0.7M114.2,414.4h0.7M90.0,417.2h0.7M70.0,413.8h0.7M115.0,410.4h0.7M117.4,398.6h0.7M64.5,417.0h0.7M111.2,372.7h0.7M117.8,409.5h0.7M79.5,415.1h0.7M59.1,414.7h0.7M110.3,370.4h0.7M113.8,375.5h0.7M98.7,419.4h0.7M57.8,414.6h0.7M77.0,371.0h0.7M125.1,391.6h0.7M110.8,415.6h0.7M82.0,417.1h0.7M117.9,395.3h0.7M104.0,369.7h0.7M63.8,372.7h0.7M71.1,365.8h0.7M69.7,371.4h0.7M99.8,368.2h0.7M68.6,411.7h0.7M110.4,411.7h0.7M119.1,387.8h0.7M89.5,417.6h0.7M89.6,370.8h0.7M84.8,371.9h0.7M116.6,404.0h0.7M118.2,396.1h0.7M75.3,370.3h0.7M95.4,418.3h0.7M117.9,405.2h0.7M133.3,403.6h0.7M123.7,381.2h0.7M116.4,403.5h0.7M93.7,368.7h0.7M65.9,375.1h0.7M114.9,406.4h0.7M116.4,403.0h0.7M119.4,395.8h0.7M71.8,368.0h0.7M113.5,376.5h0.7M92.1,423.3h0.7M100.7,419.8h0.7M62.7,416.1h0.7M78.7,368.4h0.7M108.6,368.7h0.7M78.3,372.4h0.7M112.6,416.2h0.7M83.4,372.1h0.7M108.1,372.6h0.7M117.5,373.6h0.7M113.0,412.8h0.7M117.5,396.2h0.7M86.1,417.2h0.7M83.0,368.9h0.7M102.3,367.7h0.7M60.7,416.9h0.7M99.4,369.8h0.7M122.8,412.1h0.7M119.1,403.4h0.7M110.2,372.1h0.7M116.0,373.5h0.7M112.9,413.0h0.7M62.8,365.5h0.7M98.5,420.7h0.7M80.8,367.5h0.7M100.9,371.2h0.7M112.8,407.1h0.7M84.1,370.2h0.7M111.8,425.9h0.7M118.8,386.8h0.7M73.7,368.7h0.7M63.7,371.5h0.7M121.2,397.3h0.7M84.6,417.4h0.7M74.5,373.5h0.7M120.9,383.5h0.7M121.3,399.8h0.7M133.5,381.5h0.7M70.8,421.2h0.7M115.9,419.1h0.7M66.8,372.0h0.7M70.3,425.7h0.7M111.4,362.1h0.7M73.2,362.1h0.7M117.5,387.3h0.7M75.2,373.0h0.7M96.0,419.6h0.7M97.2,359.2h0.7M100.7,420.2h0.7M91.2,371.1h0.7M88.7,417.1h0.7M98.7,358.2h0.7M60.7,421.7h0.7M103.7,418.0h0.7M120.3,403.1h0.7M88.4,418.4h0.7M103.0,417.3h0.7M90.2,419.1h0.7M70.3,413.1h0.7M64.7,424.5h0.7M116.2,402.3h0.7M58.0,413.8h0.7M123.7,386.4h0.7M68.5,425.8h0.7M81.1,358.8h0.7M104.3,415.4h0.7M77.0,370.2h0.7M67.6,412.7h0.7M109.4,367.8h0.7M109.5,372.9h0.7M57.6,413.3h0.7M112.6,376.9h0.7M70.5,412.0h0.7M63.5,411.1h0.7M84.3,365.3h0.7M68.8,413.6h0.7M67.6,371.2h0.7M120.3,378.8h0.7M125.2,392.4h0.7M58.5,374.6h0.7M95.7,370.5h0.7M102.8,367.3h0.7M134.0,409.1h0.7M71.3,416.1h0.7M117.4,368.4h0.7M114.5,406.0h0.7M95.8,366.2h0.7M118.4,410.8h0.7M62.8,371.5h0.7M67.7,373.6h0.7M120.4,412.4h0.7M121.2,384.6h0.7M125.3,382.4h0.7M99.8,371.5h0.7M65.5,418.0h0.7M101.1,371.7h0.7M121.2,411.1h0.7M82.5,362.0h0.7M77.2,421.5h0.7M68.1,424.5h0.7M108.4,368.1h0.7M133.3,381.1h0.7M63.3,365.2h0.7M121.5,377.4h0.7M84.6,419.6h0.7M120.2,404.7h0.7M100.4,366.3h0.7M121.2,424.3h0.7M117.9,399.3h0.7M86.5,363.2h0.7M73.4,373.9h0.7M64.7,367.0h0.7M98.3,420.0h0.7M110.6,375.1h0.7M131.8,390.0h0.7M90.8,418.7h0.7M118.7,400.8h0.7" stroke="#000" stroke-width="0.65" fill="none"/>
<clipPath id="c2"><rect x="256.6" y="326" width="170.5" height="170.5"/></clipPath>
<g clip-path="url(#c2)"><path d="M240.1,379.2L240.4,378.9L240.7,378.4L240.9,377.9L241.1,377.4L241.4,376.7L241.5,376.1L241.7,375.6L241.9,375.0L242.1,374.4L242.3,373.9L242.5,373.4L242.6,372.9L242.9,372.2L243.1,371.6L243.3,371.1L243.5,370.6L243.7,370.1L243.9,369.6L244.2,369.1L244.6,368.7L245.1,368.6L245.9,368.5L246.6,368.4L247.2,368.4L247.9,368.3L248.6,368.3L249.4,368.2L250.1,368.2L250.9,368.2L251.6,368.2L252.4,368.3L252.9,368.4L253.6,368.4L254.4,368.5L254.9,368.6L255.6,368.7L256.4,368.8L257.0,368.9L257.6,369.1L258.1,369.3L258.6,369.6L259.1,369.8L259.6,370.1L260.1,370.4L260.4,370.6L260.9,370.9L261.4,371.3L261.8,371.6L262.1,371.9L262.6,372.3L263.1,372.6L263.4,372.9L263.9,373.2L264.6,373.3L265.4,373.3L266.1,373.3L266.9,373.3L267.5,373.1L268.1,372.9L268.6,372.7L269.1,372.5L269.6,372.3L270.1,372.1L270.8,371.9L271.4,371.7L271.9,371.5L272.4,371.3L272.9,371.1L273.5,370.9L274.1,370.7L274.6,370.5L275.1,370.3L275.7,370.1L276.4,370.0L276.9,369.8L277.4,369.6L278.1,369.4L278.6,369.2L279.1,369.0L279.8,368.9L280.4,368.7L280.9,368.5L281.6,368.4L282.1,368.2L282.6,368.1L283.4,367.9L283.9,367.9L284.6,367.7L285.1,367.6L285.9,367.4L286.4,367.3L287.1,367.1L287.6,367.0L288.4,366.9L288.9,366.8L289.4,366.6L290.1,366.4L290.6,366.4L291.4,366.2L291.9,366.1L292.6,365.9L293.1,365.9L293.9,365.7L294.4,365.6L295.1,365.4L295.6,365.3L296.4,365.2L297.1,365.2L297.7,365.1L298.4,365.0L299.1,364.9L299.7,364.9L300.4,364.7L301.1,364.7L301.9,364.6L302.4,364.5L303.1,364.4L303.9,364.4L304.4,364.3L305.1,364.2L305.9,364.2L306.6,364.2L307.4,364.2L308.1,364.1L308.6,364.0L309.4,363.9L310.1,363.9L310.9,363.9L311.6,363.9L312.4,363.9L312.9,363.8L313.4,363.9L314.1,363.9L314.9,363.9L315.6,363.9L316.4,364.0L317.1,364.1L317.9,364.1L318.6,364.1L319.4,364.1L319.9,364.2L320.6,364.3L321.1,364.4L321.9,364.6L322.4,364.6L323.1,364.8L323.6,364.9L324.4,365.1L324.9,365.2L325.6,365.3L326.1,365.4L326.6,365.6L327.3,365.9L327.9,366.1L328.4,366.3L328.9,366.5L329.4,366.7L329.9,366.9L330.4,367.1L331.1,367.4L331.6,367.6L332.0,367.9L332.4,368.1L332.9,368.4L333.4,368.7L333.9,369.0L334.4,369.3L334.8,369.6L335.2,369.9L335.6,370.2L336.1,370.5L336.6,370.8L337.1,371.1L337.5,371.4L337.9,371.7L338.4,372.0L338.9,372.3L339.3,372.6L339.6,372.9L340.1,373.3L340.5,373.6L340.9,373.9L341.4,374.3L341.8,374.6L342.2,374.9L342.6,375.3L343.0,375.6L343.4,375.9L343.9,376.3L344.4,376.6L344.7,376.9L345.1,377.3L345.6,377.6L345.9,377.9L346.4,378.2L346.9,378.6L347.3,378.9L347.6,379.1L348.1,379.4L348.6,379.8L349.1,380.1L349.4,380.5L349.6,381.0L349.8,381.6L349.9,382.1L350.1,382.8L350.3,383.4L350.5,383.9L350.6,384.6L350.6,385.4L350.6,386.1L350.6,386.9L350.6,387.6L350.6,388.4L350.6,389.1L350.6,389.9L350.5,390.6L350.4,391.3L350.3,391.9L350.1,392.6L350.1,393.1L349.9,393.9L349.8,394.4L349.6,395.1L349.5,395.6L349.3,396.1L349.1,396.6L348.8,397.1L348.6,397.6L348.3,398.1L348.1,398.6L347.8,399.1L347.6,399.6L347.3,400.1L347.0,400.6L346.7,401.1L346.4,401.5L346.1,401.9L345.8,402.4L345.5,402.9L345.1,403.4L344.9,403.6L344.4,404.1L344.1,404.6L343.9,404.9L343.4,405.4L343.1,405.6L342.7,406.1L342.4,406.6L342.1,406.9L341.6,407.3L341.3,407.6L340.9,408.1L340.6,408.4L340.1,408.8L339.8,409.1L339.4,409.6L339.1,409.9L338.6,410.3L338.3,410.6L337.9,411.0L337.5,411.4L337.1,411.6L336.6,412.0L336.3,412.4L335.9,412.8L335.5,413.1L335.1,413.5L334.7,413.9L334.4,414.2L334.0,414.6L333.7,415.1L333.4,415.4L332.9,415.9L332.6,416.2L332.2,416.6L331.9,416.9L331.5,417.4L331.1,417.8L330.8,418.1L330.4,418.6L330.1,418.9L329.6,419.3L329.2,419.6L328.9,419.9L328.4,420.3L328.0,420.6L327.6,420.9L327.1,421.3L326.6,421.6L326.2,421.9L325.8,422.1L325.4,422.4L324.9,422.6L324.2,422.9L323.6,423.1L323.1,423.2L322.6,423.4L321.9,423.6L321.4,423.6L320.6,423.7L319.9,423.9L319.4,423.9L318.6,424.0L317.9,424.1L317.1,424.1L316.4,424.1L315.6,424.1L314.9,424.0L314.1,423.9L313.6,423.8L312.9,423.8L312.1,423.7L311.6,423.6L310.9,423.4L310.1,423.4L309.6,423.3L308.9,423.2L308.4,423.1L307.9,422.9L307.1,422.6L306.6,422.4L306.1,422.2L305.6,422.1L305.1,421.9L304.6,421.6L304.1,421.3L303.6,420.9L303.2,420.6L302.9,420.4L302.4,420.0L301.9,419.6L301.6,419.4L301.1,418.9L300.8,418.6L300.4,418.3L299.9,417.9L299.6,417.6L299.1,417.2L298.8,416.9L298.4,416.4L298.0,416.1L297.6,415.7L297.2,415.4L296.9,415.0L296.4,414.6L296.1,414.4L295.6,413.9L295.2,413.6L294.9,413.3L294.4,412.9L293.9,412.6L293.5,412.4L293.1,412.1L292.6,411.8L292.1,411.5L291.6,411.1L291.2,410.9L290.8,410.6L290.4,410.4L289.9,410.1L289.4,409.8L288.9,409.5L288.4,409.2L287.9,409.0L287.4,408.7L286.9,408.4L286.4,408.1L285.9,407.9L285.4,407.6L285.0,407.4L284.5,407.1L284.0,406.9L283.4,406.6L282.9,406.4L282.4,406.2L281.9,405.9L281.4,405.7L280.9,405.5L280.4,405.3L279.9,405.1L279.4,404.9L278.6,404.7L278.1,404.6L277.4,404.5L276.9,404.3L276.1,404.2L275.6,404.1L274.9,403.9L274.4,403.7L273.9,403.5L273.4,403.3L272.9,403.0L272.4,402.8L271.9,402.5L271.4,402.3L270.9,402.0L270.4,401.6L270.0,401.4L269.6,401.1L269.1,400.6L268.7,400.4L268.4,400.1L267.7,399.9L267.1,399.8L266.4,399.7L265.6,399.7L264.9,399.7L264.4,399.9L263.9,400.2L263.4,400.5L262.9,400.8L262.4,401.1L262.0,401.4L261.6,401.6L261.1,401.9L260.6,402.2L260.1,402.4L259.6,402.7L259.1,402.9L258.6,403.1L257.9,403.4L257.4,403.5L256.9,403.7L256.1,403.7L255.4,403.8L254.6,403.8L253.9,403.8L253.1,403.8L252.5,403.9L251.9,404.0L251.1,404.1L250.4,404.0L249.6,404.0L248.9,404.0L248.1,403.9L247.4,403.9L246.9,403.8L246.1,403.8L245.4,403.7L244.9,403.6L244.4,403.2L244.1,402.8L243.9,402.3L243.6,401.7L243.4,401.1L243.2,400.6L243.0,400.1L242.8,399.6L242.6,399.1L242.4,398.5L242.2,397.9L242.0,397.4L241.9,396.8L241.6,396.1L241.5,395.6L241.3,395.1L241.1,394.6L240.9,394.1L240.6,393.6L240.3,393.1L240.1,392.8M312.0,365.9L312.6,365.8L313.4,365.8L314.1,365.8L314.9,365.8L315.6,365.8L316.4,365.8L317.1,365.8L317.9,365.8L318.6,365.8L319.2,365.9L319.9,366.0L320.6,366.1L321.1,366.2L321.9,366.3L322.5,366.4L323.1,366.5L323.9,366.6L324.4,366.7L325.1,366.8L325.6,366.9L326.3,367.1L326.9,367.3L327.4,367.5L327.9,367.7L328.5,367.9L329.1,368.1L329.6,368.3L330.1,368.5L330.6,368.6L331.1,368.9L331.6,369.2L332.1,369.5L332.6,369.7L333.1,370.0L333.6,370.3L334.1,370.6L334.6,370.9L335.1,371.1L335.5,371.4L335.9,371.6L336.4,372.0L336.9,372.3L337.3,372.6L337.6,372.9L338.1,373.2L338.6,373.6L339.0,373.9L339.4,374.2L339.9,374.6L340.2,374.9L340.6,375.2L341.1,375.6L341.4,375.9L341.9,376.2L342.3,376.6L342.6,376.9L343.1,377.3L343.5,377.6L343.9,377.9L344.4,378.4L344.6,378.6L345.1,379.0L345.5,379.4L345.9,379.7L346.4,380.1L346.7,380.4L347.1,380.8L347.5,381.1L347.9,381.6L348.1,382.1L348.2,382.6L348.4,383.2L348.6,383.9L348.7,384.4L348.8,385.1L348.8,385.9L348.9,386.6L348.9,387.1L348.9,387.9L348.9,388.6L348.9,389.3L348.9,389.9L348.7,390.6L348.6,391.4L348.5,391.9L348.4,392.6L348.3,393.1L348.1,393.7L347.9,394.4L347.8,394.9L347.6,395.4L347.4,395.9L347.1,396.4L346.9,396.9L346.6,397.4L346.3,397.9L346.0,398.4L345.7,398.9L345.4,399.3L345.1,399.6L344.7,400.1L344.4,400.5L344.0,400.9L343.6,401.3L343.3,401.6L342.9,402.0L342.5,402.4L342.1,402.7L341.7,403.1L341.4,403.4L340.9,403.8L340.5,404.1L340.1,404.5L339.8,404.9L339.4,405.3L339.0,405.6L338.6,406.0L338.3,406.4L337.9,406.8L337.5,407.1L337.1,407.4L336.6,407.8L336.2,408.1L335.9,408.4L335.4,408.8L334.9,409.1L334.6,409.4L334.1,409.8L333.8,410.1L333.4,410.5L333.0,410.9L332.6,411.1L332.1,411.6L331.7,411.9L331.4,412.2L330.9,412.6L330.6,412.9L330.1,413.3L329.8,413.6L329.4,414.0L328.9,414.4L328.6,414.6L328.1,415.0L327.7,415.4L327.3,415.6L326.9,415.9L326.4,416.3L325.9,416.6L325.4,416.9L325.0,417.1L324.5,417.4L323.9,417.6L323.4,417.8L322.9,418.0L322.2,418.1L321.6,418.2L320.9,418.3L320.4,418.4L319.6,418.5L319.1,418.6L318.4,418.7L317.6,418.8L316.9,418.8L316.1,418.8L315.4,418.7L314.9,418.6L314.1,418.4L313.6,418.3L313.1,418.1L312.4,417.9L311.9,417.7L311.4,417.5L310.9,417.3L310.4,417.1L309.9,416.8L309.4,416.6L308.9,416.3L308.4,416.1L307.9,415.8L307.4,415.5L306.9,415.2L306.4,414.9L306.0,414.6L305.6,414.4L305.1,414.0L304.7,413.6L304.4,413.3L303.9,412.9L303.6,412.6L303.1,412.1L302.9,411.9L302.4,411.4L302.1,411.0L301.8,410.6L301.4,410.2L301.0,409.9L300.6,409.5L300.1,409.2L299.7,408.9L299.3,408.6L298.9,408.4L298.4,408.1L297.9,407.8L297.4,407.6L296.8,407.4L296.2,407.1L295.6,406.9L295.1,406.7L294.6,406.4L294.1,406.2L293.6,406.0L293.1,405.8L292.5,405.6L291.9,405.4L291.4,405.2L290.9,405.1L290.3,404.9L289.7,404.6L289.1,404.4L288.6,404.3L288.1,404.1L287.4,403.9L286.9,403.7L286.4,403.5L285.9,403.4L285.3,403.1L284.8,402.9L284.3,402.6L283.8,402.4L283.4,402.1L282.9,401.8L282.4,401.5L281.9,401.3L281.4,401.0L280.9,400.7L280.4,400.5L279.9,400.4L279.2,400.1L278.6,399.9L278.1,399.7L277.6,399.5L277.1,399.2L276.6,398.9L276.1,398.7L275.6,398.4L275.2,398.1L274.8,397.9L274.4,397.5L273.9,397.2L273.5,396.9L273.1,396.5L272.8,396.1L272.4,395.7L272.0,395.4L271.6,395.0L271.3,394.6L270.9,394.3L270.5,393.9L270.1,393.6L269.7,393.1L269.4,392.8L269.0,392.4L268.6,391.9L268.4,391.5L268.1,391.1L267.9,390.5L267.6,389.9L267.5,389.4L267.3,388.9L267.2,388.1L267.2,387.4L267.2,386.6L267.3,385.9L267.4,385.2L267.4,384.6L267.6,383.9L267.6,383.4L267.8,382.6L267.9,382.1L268.1,381.5L268.4,380.9L268.6,380.4L268.8,379.9L269.1,379.4L269.4,378.9L269.6,378.5L270.0,378.1L270.4,377.7L270.7,377.4L271.1,377.1L271.6,376.7L272.1,376.4L272.6,376.1L273.0,375.9L273.4,375.6L273.9,375.3L274.4,374.9L274.8,374.6L275.2,374.4L275.6,374.1L276.1,373.8L276.6,373.5L277.1,373.2L277.6,373.0L278.1,372.8L278.6,372.5L279.1,372.3L279.6,372.0L280.1,371.8L280.6,371.6L281.1,371.3L281.6,371.1L282.3,370.9L282.9,370.6L283.4,370.4L283.9,370.3L284.4,370.1L285.1,369.9L285.6,369.7L286.1,369.6L286.7,369.4L287.4,369.2L287.9,369.0L288.4,368.9L289.1,368.7L289.6,368.5L290.2,368.4L290.9,368.2L291.4,368.1L292.1,367.9L292.6,367.8L293.4,367.7L293.9,367.6L294.6,367.5L295.4,367.4L295.9,367.3L296.6,367.3L297.4,367.2L298.1,367.2L298.6,367.1L299.4,367.0L300.1,366.9L300.6,366.9L301.4,366.8L302.1,366.8L302.9,366.7L303.6,366.6L304.2,366.6L304.9,366.5L305.6,366.5L306.4,366.4L306.9,366.4L307.6,366.3L308.4,366.3L309.1,366.1L309.6,366.0L310.4,366.0L311.1,365.9L311.9,365.9L312.0,365.9M250.4,369.1L250.9,369.1L251.6,369.1L252.1,369.2L252.9,369.3L253.6,369.3L254.1,369.4L254.9,369.6L255.4,369.7L255.9,369.9L256.6,370.1L257.0,370.4L257.4,370.6L257.9,371.0L258.3,371.4L258.6,371.7L259.0,372.1L259.3,372.6L259.6,373.0L259.9,373.4L260.1,373.9L260.4,374.4L260.6,375.0L260.9,375.6L261.1,376.1L261.2,376.6L261.4,377.1L261.6,377.8L261.8,378.4L262.0,378.9L262.2,379.4L262.4,379.9L262.6,380.6L262.7,381.1L262.9,381.6L263.1,382.4L263.1,382.9L263.3,383.6L263.3,384.4L263.3,385.1L263.4,385.9L263.4,386.4L263.4,387.1L263.4,387.9L263.3,388.4L263.2,389.1L263.1,389.7L263.0,390.4L262.8,390.9L262.6,391.5L262.4,392.1L262.3,392.6L262.1,393.2L261.9,393.9L261.8,394.4L261.6,394.9L261.4,395.6L261.2,396.1L261.1,396.6L260.9,397.2L260.6,397.8L260.4,398.3L260.1,398.8L259.9,399.2L259.6,399.6L259.3,400.1L258.9,400.6L258.6,400.9L258.2,401.4L257.8,401.6L257.4,402.0L256.9,402.3L256.4,402.5L255.9,402.7L255.1,402.8L254.6,402.9L253.9,403.0L253.1,403.0L252.4,403.0L251.7,403.1L251.1,403.1L250.6,403.1L249.9,403.0L249.4,402.8L248.6,402.6L248.1,402.4L247.6,402.2L247.1,401.9L246.7,401.6L246.4,401.3L246.1,400.9L245.8,400.4L245.6,399.8L245.4,399.1L245.2,398.6L245.1,398.1L244.9,397.4L244.8,396.9L244.6,396.2L244.5,395.6L244.3,395.1L244.2,394.4L244.0,393.9L243.9,393.1L243.8,392.6L243.6,391.9L243.6,391.4L243.4,390.6L243.4,390.1L243.3,389.4L243.2,388.6L243.1,387.9L243.1,387.4L243.1,386.6L243.1,385.9L243.1,385.1L243.1,384.4L243.1,383.7L243.2,383.1L243.2,382.4L243.4,381.6L243.5,381.1L243.6,380.4L243.7,379.9L243.9,379.1L244.0,378.6L244.1,377.9L244.2,377.4L244.4,376.7L244.5,376.1L244.6,375.6L244.8,374.9L245.0,374.4L245.1,373.9L245.4,373.1L245.5,372.6L245.7,372.1L245.9,371.6L246.2,371.1L246.6,370.7L247.1,370.4L247.4,370.1L247.9,369.9L248.4,369.6L249.1,369.4L249.6,369.2L250.4,369.1M312.3,367.6L312.9,367.6L313.6,367.5L314.4,367.5L315.1,367.5L315.9,367.5L316.6,367.6L317.4,367.6L318.1,367.5L318.9,367.5L319.6,367.6L320.1,367.6L320.9,367.7L321.6,367.8L322.4,367.9L322.9,367.9L323.6,368.1L324.1,368.1L324.9,368.3L325.4,368.4L326.1,368.6L326.6,368.8L327.1,368.9L327.7,369.1L328.4,369.3L328.9,369.5L329.4,369.7L330.0,369.9L330.6,370.1L331.1,370.4L331.6,370.6L332.1,370.9L332.6,371.1L333.1,371.3L333.6,371.6L334.1,371.8L334.6,372.1L335.1,372.4L335.5,372.6L335.9,372.9L336.4,373.3L336.8,373.6L337.1,373.9L337.6,374.3L338.0,374.6L338.4,374.9L338.9,375.3L339.3,375.6L339.6,375.9L340.1,376.3L340.5,376.6L340.9,377.0L341.3,377.4L341.6,377.7L342.1,378.1L342.5,378.4L342.9,378.7L343.3,379.1L343.6,379.4L344.1,379.8L344.5,380.1L344.9,380.5L345.3,380.9L345.6,381.2L346.1,381.6L346.4,381.9L346.7,382.4L346.9,382.9L347.1,383.4L347.3,384.1L347.5,384.6L347.6,385.4L347.6,385.9L347.7,386.6L347.7,387.4L347.8,388.1L347.7,388.9L347.7,389.6L347.6,390.4L347.6,390.9L347.4,391.6L347.3,392.1L347.1,392.9L347.0,393.4L346.8,393.9L346.6,394.4L346.4,395.0L346.1,395.4L345.9,395.9L345.6,396.4L345.2,396.9L344.9,397.3L344.6,397.6L344.2,398.1L343.9,398.4L343.4,398.9L343.1,399.1L342.6,399.5L342.2,399.9L341.9,400.1L341.4,400.5L340.9,400.9L340.6,401.1L340.1,401.5L339.6,401.8L339.2,402.1L338.9,402.4L338.4,402.8L338.0,403.1L337.6,403.4L337.1,403.8L336.8,404.1L336.4,404.5L335.9,404.9L335.5,405.1L335.1,405.4L334.6,405.8L334.1,406.1L333.8,406.4L333.4,406.8L333.0,407.1L332.6,407.5L332.3,407.9L331.9,408.3L331.5,408.6L331.1,408.9L330.6,409.3L330.2,409.6L329.8,409.9L329.4,410.2L328.9,410.6L328.6,410.9L328.1,411.3L327.7,411.6L327.3,411.9L326.9,412.2L326.4,412.5L325.9,412.8L325.4,413.1L325.0,413.4L324.6,413.6L324.1,413.9L323.6,414.2L323.1,414.5L322.6,414.7L322.1,414.9L321.4,415.1L320.9,415.2L320.1,415.3L319.6,415.4L318.9,415.5L318.2,415.6L317.6,415.7L316.9,415.7L316.2,415.6L315.6,415.5L315.0,415.4L314.4,415.2L313.9,415.0L313.3,414.9L312.7,414.6L312.1,414.4L311.6,414.2L311.1,413.9L310.6,413.7L310.1,413.4L309.6,413.1L309.2,412.9L308.8,412.6L308.4,412.3L307.9,411.9L307.6,411.6L307.1,411.1L306.9,410.8L306.5,410.4L306.1,409.9L305.9,409.6L305.4,409.1L305.1,408.9L304.6,408.4L304.3,408.1L303.9,407.8L303.4,407.4L303.0,407.1L302.6,406.8L302.1,406.5L301.6,406.2L301.1,405.9L300.6,405.6L300.2,405.4L299.8,405.1L299.4,404.9L298.9,404.6L298.4,404.3L297.9,404.1L297.4,403.9L296.9,403.6L296.2,403.4L295.6,403.2L295.1,403.0L294.5,402.9L293.9,402.7L293.4,402.6L292.6,402.4L292.1,402.2L291.6,402.0L291.1,401.9L290.4,401.7L289.9,401.6L289.1,401.4L288.6,401.3L288.0,401.1L287.4,400.9L286.9,400.7L286.4,400.5L285.9,400.2L285.4,399.9L285.0,399.6L284.6,399.4L284.1,399.1L283.6,398.8L283.1,398.6L282.6,398.3L282.1,398.0L281.6,397.7L281.1,397.5L280.6,397.2L280.1,396.9L279.6,396.6L279.2,396.4L278.8,396.1L278.4,395.9L277.9,395.5L277.4,395.1L277.1,394.9L276.6,394.4L276.4,394.1L276.0,393.6L275.6,393.2L275.4,392.9L274.9,392.4L274.6,392.1L274.2,391.6L273.9,391.3L273.6,390.9L273.3,390.4L273.1,389.9L272.9,389.3L272.7,388.6L272.5,388.1L272.4,387.5L272.3,386.9L272.2,386.1L272.2,385.4L272.3,384.6L272.4,383.9L272.5,383.4L272.7,382.9L272.9,382.3L273.1,381.8L273.4,381.3L273.6,380.8L273.9,380.4L274.2,379.9L274.6,379.4L274.9,379.0L275.2,378.6L275.6,378.2L276.0,377.9L276.4,377.6L276.9,377.2L277.3,376.9L277.7,376.6L278.1,376.3L278.6,375.9L279.0,375.6L279.4,375.4L279.9,375.0L280.3,374.6L280.7,374.4L281.1,374.1L281.6,373.8L282.1,373.5L282.6,373.2L283.1,373.0L283.6,372.7L284.1,372.5L284.6,372.3L285.1,372.0L285.6,371.8L286.1,371.5L286.6,371.3L287.1,371.1L287.6,370.9L288.2,370.6L288.9,370.4L289.4,370.2L289.9,370.0L290.4,369.9L291.1,369.6L291.6,369.5L292.3,369.4L292.9,369.3L293.6,369.1L294.1,369.1L294.9,369.0L295.6,368.9L296.4,368.9L296.9,368.9L297.6,368.9L298.4,368.8L299.1,368.8L299.9,368.7L300.6,368.7L301.4,368.6L301.9,368.6L302.6,368.6L303.4,368.5L304.1,368.5L304.9,368.4L305.4,368.3L306.1,368.2L306.9,368.1L307.4,368.1L308.1,368.0L308.9,368.0L309.5,367.9L310.1,367.8L310.9,367.7L311.6,367.7L312.3,367.6M250.0,370.1L250.6,370.0L251.4,369.9L252.1,370.0L252.9,370.0L253.6,370.1L254.1,370.3L254.6,370.5L255.1,370.6L255.8,370.9L256.3,371.1L256.6,371.4L257.1,371.8L257.4,372.1L257.9,372.6L258.1,373.0L258.4,373.4L258.6,373.9L258.9,374.4L259.1,374.9L259.4,375.6L259.6,376.1L259.7,376.6L259.9,377.2L260.0,377.9L260.2,378.4L260.4,379.1L260.5,379.6L260.7,380.1L260.9,380.9L261.0,381.4L261.1,382.1L261.2,382.6L261.3,383.4L261.3,384.1L261.4,384.7L261.4,385.4L261.5,386.1L261.5,386.9L261.4,387.6L261.4,388.3L261.3,388.9L261.2,389.6L261.1,390.1L261.0,390.9L260.9,391.4L260.7,392.1L260.6,392.6L260.4,393.4L260.3,393.9L260.2,394.6L260.0,395.1L259.9,395.8L259.7,396.4L259.5,396.9L259.3,397.4L259.1,397.9L258.9,398.4L258.6,398.9L258.3,399.4L257.9,399.9L257.6,400.3L257.3,400.6L256.9,401.0L256.4,401.3L255.9,401.6L255.4,401.8L254.9,402.0L254.2,402.1L253.6,402.2L252.9,402.2L252.1,402.2L251.4,402.3L250.6,402.2L250.1,402.0L249.6,401.9L249.1,401.6L248.6,401.4L248.1,401.1L247.6,400.7L247.3,400.4L247.0,399.9L246.7,399.4L246.5,398.9L246.4,398.4L246.2,397.6L246.0,397.1L245.9,396.6L245.7,395.9L245.6,395.4L245.4,394.7L245.3,394.1L245.1,393.5L245.0,392.9L244.9,392.2L244.8,391.6L244.7,390.9L244.6,390.4L244.5,389.6L244.4,388.9L244.4,388.2L244.3,387.6L244.3,386.9L244.3,386.1L244.3,385.4L244.3,384.6L244.3,383.9L244.4,383.4L244.5,382.6L244.6,381.9L244.6,381.4L244.8,380.6L244.9,380.0L245.0,379.4L245.1,378.7L245.2,378.1L245.4,377.5L245.5,376.9L245.6,376.4L245.8,375.6L246.0,375.1L246.2,374.6L246.4,374.0L246.6,373.4L246.8,372.9L247.1,372.4L247.4,372.0L247.7,371.6L248.1,371.2L248.5,370.9L248.9,370.6L249.4,370.4L250.0,370.1M311.7,369.1L312.4,369.1L313.1,369.0L313.9,369.0L314.6,369.0L315.4,369.0L316.1,369.0L316.9,369.1L317.6,369.1L318.4,369.0L319.1,369.0L319.9,369.0L320.6,369.0L321.4,369.0L322.1,369.1L322.6,369.2L323.4,369.3L324.0,369.4L324.6,369.5L325.2,369.6L325.9,369.8L326.4,370.0L326.9,370.2L327.4,370.4L328.1,370.6L328.6,370.8L329.1,371.0L329.6,371.1L330.2,371.4L330.8,371.6L331.4,371.9L331.9,372.0L332.4,372.2L332.9,372.4L333.4,372.6L333.9,372.9L334.4,373.1L334.9,373.4L335.4,373.8L335.7,374.1L336.1,374.5L336.6,374.9L336.9,375.1L337.4,375.6L337.8,375.9L338.1,376.2L338.6,376.6L338.9,376.9L339.4,377.2L339.8,377.6L340.1,377.9L340.6,378.4L340.9,378.6L341.4,379.0L341.8,379.4L342.1,379.7L342.6,380.1L343.0,380.4L343.4,380.7L343.9,381.1L344.2,381.4L344.6,381.8L345.0,382.1L345.4,382.5L345.7,382.9L346.0,383.4L346.2,383.9L346.4,384.5L346.6,385.1L346.6,385.6L346.7,386.4L346.8,387.1L346.8,387.9L346.8,388.6L346.8,389.4L346.7,390.1L346.6,390.9L346.5,391.4L346.4,392.0L346.2,392.6L346.0,393.1L345.8,393.6L345.5,394.1L345.3,394.6L344.9,395.1L344.6,395.5L344.3,395.9L343.9,396.3L343.5,396.6L343.1,396.9L342.6,397.3L342.2,397.6L341.8,397.9L341.4,398.2L340.9,398.5L340.4,398.9L340.0,399.1L339.6,399.4L339.1,399.7L338.6,400.0L338.1,400.3L337.6,400.6L337.2,400.9L336.9,401.1L336.4,401.5L335.9,401.9L335.6,402.1L335.1,402.5L334.6,402.9L334.3,403.1L333.9,403.5L333.4,403.9L333.0,404.1L332.6,404.5L332.2,404.9L331.9,405.2L331.5,405.6L331.1,406.0L330.8,406.4L330.4,406.8L330.0,407.1L329.6,407.4L329.1,407.8L328.6,408.1L328.1,408.4L327.8,408.6L327.4,408.9L326.9,409.3L326.4,409.6L326.0,409.9L325.6,410.1L325.1,410.5L324.6,410.8L324.1,411.0L323.6,411.3L323.1,411.6L322.7,411.9L322.2,412.1L321.8,412.4L321.3,412.6L320.7,412.9L320.1,413.1L319.6,413.2L318.9,413.3L318.1,413.4L317.4,413.3L316.6,413.2L316.1,413.1L315.5,412.9L314.9,412.7L314.4,412.5L313.9,412.3L313.4,412.1L312.9,411.9L312.4,411.6L311.9,411.3L311.4,410.9L311.1,410.6L310.6,410.2L310.3,409.9L309.9,409.4L309.6,409.1L309.1,408.7L308.8,408.4L308.4,408.0L307.9,407.6L307.6,407.4L307.1,407.1L306.6,406.8L306.1,406.5L305.6,406.2L305.2,405.9L304.8,405.6L304.4,405.3L303.9,404.9L303.6,404.6L303.1,404.2L302.7,403.9L302.3,403.6L301.9,403.4L301.4,403.1L300.8,402.9L300.2,402.6L299.6,402.4L299.1,402.3L298.6,402.1L298.1,401.9L297.4,401.6L296.9,401.5L296.4,401.3L295.7,401.1L295.1,401.0L294.6,400.8L293.9,400.6L293.4,400.4L292.9,400.3L292.4,400.1L291.6,399.9L291.1,399.8L290.5,399.6L289.9,399.5L289.4,399.4L288.7,399.1L288.1,398.9L287.7,398.6L287.3,398.4L286.9,398.1L286.4,397.7L285.9,397.4L285.5,397.1L285.0,396.9L284.6,396.6L284.1,396.4L283.6,396.1L283.1,395.8L282.6,395.5L282.1,395.2L281.6,394.9L281.2,394.6L280.9,394.4L280.4,394.0L279.9,393.6L279.6,393.3L279.2,392.9L278.9,392.4L278.6,392.1L278.3,391.6L277.9,391.1L277.6,390.8L277.2,390.4L276.9,390.0L276.6,389.6L276.2,389.1L275.9,388.6L275.7,388.1L275.5,387.6L275.4,387.0L275.3,386.4L275.3,385.6L275.4,385.1L275.6,384.4L275.8,383.9L276.0,383.4L276.3,382.9L276.6,382.4L276.9,381.9L277.1,381.5L277.4,381.1L277.8,380.6L278.1,380.2L278.4,379.9L278.9,379.4L279.1,379.1L279.5,378.6L279.9,378.3L280.2,377.9L280.6,377.5L281.0,377.1L281.4,376.7L281.8,376.4L282.1,376.1L282.6,375.7L283.1,375.4L283.5,375.1L283.9,374.9L284.4,374.6L284.9,374.2L285.4,373.9L285.8,373.6L286.1,373.4L286.6,373.0L287.1,372.7L287.6,372.5L288.1,372.2L288.6,371.9L289.1,371.7L289.6,371.5L290.1,371.2L290.6,371.0L291.1,370.9L291.9,370.7L292.4,370.6L293.1,370.5L293.8,370.4L294.4,370.3L295.1,370.3L295.9,370.2L296.6,370.2L297.4,370.2L298.1,370.2L298.9,370.2L299.6,370.1L300.1,370.1L300.9,370.1L301.6,370.1L302.1,370.1L302.9,370.1L303.4,370.1L304.1,370.0L304.9,370.0L305.4,369.9L306.1,369.8L306.9,369.7L307.6,369.6L308.1,369.6L308.9,369.5L309.6,369.4L310.1,369.3L310.9,369.2L311.6,369.1L311.7,369.1M250.5,370.9L251.1,370.7L251.9,370.7L252.6,370.8L253.4,370.9L253.9,371.0L254.4,371.2L254.9,371.4L255.4,371.6L255.9,371.9L256.4,372.3L256.7,372.6L257.1,373.1L257.4,373.5L257.6,373.9L257.9,374.4L258.1,374.9L258.4,375.5L258.6,376.1L258.7,376.6L258.9,377.1L259.1,377.9L259.2,378.4L259.4,379.0L259.6,379.6L259.7,380.1L259.9,380.9L260.0,381.4L260.1,382.1L260.2,382.6L260.3,383.4L260.3,384.1L260.4,384.6L260.4,385.4L260.5,386.1L260.5,386.9L260.5,387.6L260.4,388.4L260.4,388.9L260.2,389.6L260.1,390.3L260.0,390.9L259.9,391.5L259.8,392.1L259.6,392.7L259.5,393.4L259.4,393.9L259.2,394.6L259.1,395.1L258.9,395.9L258.7,396.4L258.6,396.9L258.4,397.4L258.1,397.9L257.9,398.4L257.5,398.9L257.2,399.4L256.9,399.7L256.5,400.1L256.1,400.4L255.6,400.8L255.1,401.0L254.6,401.2L253.9,401.4L253.4,401.4L252.6,401.5L251.9,401.5L251.1,401.4L250.6,401.3L250.1,401.1L249.6,400.9L249.1,400.6L248.6,400.2L248.2,399.9L247.9,399.5L247.6,399.1L247.4,398.6L247.1,397.9L246.9,397.4L246.8,396.9L246.6,396.3L246.4,395.6L246.3,395.1L246.1,394.5L246.0,393.9L245.9,393.3L245.7,392.6L245.6,391.9L245.5,391.4L245.4,390.6L245.4,390.1L245.3,389.4L245.2,388.6L245.2,387.9L245.1,387.4L245.1,386.6L245.1,385.9L245.1,385.1L245.1,384.4L245.2,383.9L245.2,383.1L245.3,382.4L245.4,381.9L245.5,381.1L245.6,380.4L245.7,379.9L245.9,379.1L246.0,378.6L246.1,377.9L246.2,377.4L246.4,376.9L246.6,376.1L246.7,375.6L246.9,375.1L247.1,374.6L247.4,373.9L247.6,373.4L247.9,373.0L248.2,372.6L248.6,372.1L248.9,371.9L249.4,371.4L249.9,371.1L250.4,370.9L250.5,370.9M311.6,370.4L312.1,370.3L312.9,370.2L313.6,370.2L314.4,370.2L315.1,370.2L315.9,370.3L316.6,370.3L317.4,370.3L318.1,370.3L318.9,370.2L319.6,370.2L320.4,370.2L321.1,370.2L321.9,370.2L322.6,370.2L323.4,370.3L323.9,370.4L324.6,370.6L325.1,370.7L325.6,370.9L326.2,371.1L326.9,371.4L327.4,371.6L327.9,371.8L328.4,372.0L328.9,372.2L329.4,372.4L330.1,372.6L330.6,372.8L331.1,373.0L331.6,373.1L332.4,373.4L332.9,373.5L333.4,373.7L333.9,374.0L334.4,374.3L334.7,374.6L335.1,375.0L335.5,375.4L335.9,375.7L336.3,376.1L336.6,376.4L337.1,376.9L337.4,377.1L337.9,377.6L338.2,377.9L338.6,378.2L339.1,378.6L339.4,378.9L339.9,379.3L340.2,379.6L340.6,380.0L341.0,380.4L341.4,380.6L341.9,381.0L342.3,381.4L342.7,381.6L343.1,381.9L343.6,382.3L344.0,382.6L344.4,383.0L344.8,383.4L345.1,383.9L345.3,384.4L345.5,384.9L345.7,385.4L345.8,386.1L345.9,386.6L345.9,387.4L346.0,388.1L346.0,388.9L345.9,389.6L345.9,390.1L345.7,390.9L345.6,391.4L345.4,392.0L345.1,392.6L344.9,393.1L344.6,393.5L344.3,393.9L343.9,394.3L343.6,394.6L343.1,395.0L342.6,395.3L342.1,395.6L341.7,395.9L341.3,396.1L340.9,396.4L340.4,396.7L339.9,397.0L339.4,397.4L339.0,397.6L338.6,397.9L338.1,398.2L337.6,398.4L337.1,398.7L336.6,399.0L336.1,399.3L335.7,399.6L335.3,399.9L334.9,400.3L334.5,400.6L334.1,400.9L333.6,401.4L333.3,401.6L332.9,402.0L332.4,402.3L332.0,402.6L331.6,402.9L331.1,403.4L330.9,403.6L330.4,404.1L330.1,404.5L329.8,404.9L329.4,405.4L329.1,405.6L328.6,406.0L328.1,406.4L327.7,406.6L327.2,406.9L326.7,407.1L326.3,407.4L325.9,407.6L325.4,407.9L324.9,408.3L324.4,408.6L324.0,408.9L323.6,409.1L323.1,409.4L322.6,409.7L322.1,409.9L321.5,410.1L320.9,410.3L320.4,410.5L319.7,410.6L319.1,410.7L318.4,410.8L317.6,410.7L316.9,410.6L316.4,410.6L315.6,410.4L315.1,410.2L314.6,410.1L314.1,409.9L313.6,409.6L313.1,409.2L312.7,408.9L312.4,408.6L311.9,408.2L311.5,407.9L311.1,407.6L310.6,407.3L310.1,406.9L309.8,406.6L309.4,406.2L309.0,405.9L308.6,405.6L308.1,405.2L307.6,404.9L307.2,404.6L306.8,404.4L306.4,404.1L305.9,403.7L305.5,403.4L305.1,403.0L304.7,402.6L304.4,402.3L303.9,401.9L303.4,401.6L302.9,401.4L302.4,401.2L301.9,401.0L301.4,400.8L300.7,400.6L300.1,400.4L299.6,400.3L299.1,400.1L298.4,399.9L297.9,399.7L297.4,399.6L296.6,399.4L296.1,399.3L295.5,399.1L294.9,398.9L294.4,398.8L293.8,398.6L293.1,398.5L292.6,398.4L291.9,398.2L291.4,398.1L290.6,397.9L290.1,397.8L289.6,397.6L289.1,397.3L288.6,397.0L288.1,396.7L287.7,396.4L287.4,396.1L286.9,395.7L286.5,395.4L286.1,395.1L285.6,394.9L285.0,394.6L284.4,394.4L283.9,394.1L283.4,393.9L283.0,393.6L282.6,393.4L282.1,393.0L281.8,392.6L281.4,392.1L281.1,391.6L280.9,391.1L280.7,390.6L280.5,390.1L280.3,389.6L280.1,389.1L279.9,388.6L279.6,388.1L279.4,387.4L279.2,386.9L279.2,386.1L279.2,385.4L279.4,384.7L279.5,384.1L279.7,383.6L279.9,382.9L280.0,382.4L280.2,381.9L280.4,381.4L280.6,380.9L280.9,380.4L281.2,379.9L281.6,379.4L281.9,379.1L282.3,378.6L282.6,378.2L283.0,377.9L283.4,377.5L283.8,377.1L284.1,376.9L284.6,376.5L285.1,376.1L285.4,375.9L285.9,375.4L286.2,375.1L286.6,374.7L287.0,374.4L287.4,374.1L287.9,373.7L288.4,373.4L288.8,373.1L289.3,372.9L289.7,372.6L290.2,372.4L290.8,372.1L291.4,371.9L291.9,371.8L292.6,371.6L293.1,371.6L293.9,371.5L294.6,371.5L295.4,371.4L296.1,371.4L296.8,371.4L297.4,371.4L298.1,371.4L298.6,371.4L299.4,371.4L300.1,371.4L300.9,371.4L301.6,371.5L302.4,371.5L303.1,371.5L303.9,371.5L304.6,371.4L305.3,371.4L305.9,371.3L306.6,371.3L307.4,371.2L308.1,371.1L308.6,371.0L309.4,370.9L309.9,370.7L310.4,370.6L311.1,370.5L311.6,370.4M250.8,371.6L251.4,371.5L252.1,371.5L252.9,371.5L253.5,371.6L254.1,371.9L254.6,372.1L255.1,372.3L255.6,372.6L255.9,372.9L256.4,373.4L256.6,373.7L256.9,374.1L257.2,374.6L257.4,375.1L257.6,375.6L257.9,376.3L258.1,376.9L258.2,377.4L258.4,377.9L258.6,378.6L258.7,379.1L258.9,379.8L259.0,380.4L259.1,380.9L259.3,381.6L259.4,382.1L259.5,382.9L259.6,383.6L259.6,384.4L259.7,384.9L259.7,385.6L259.8,386.4L259.8,387.1L259.8,387.9L259.7,388.6L259.6,389.1L259.5,389.9L259.4,390.5L259.2,391.1L259.1,391.7L259.0,392.4L258.9,392.9L258.7,393.6L258.6,394.1L258.4,394.9L258.3,395.4L258.1,396.0L257.9,396.6L257.7,397.1L257.4,397.6L257.1,398.1L256.9,398.5L256.6,398.9L256.1,399.4L255.9,399.6L255.4,400.0L254.9,400.3L254.4,400.5L253.7,400.6L253.1,400.7L252.4,400.7L251.6,400.7L251.1,400.6L250.4,400.4L249.9,400.1L249.5,399.9L249.1,399.6L248.7,399.1L248.4,398.8L248.1,398.4L247.9,397.9L247.6,397.3L247.4,396.6L247.2,396.1L247.1,395.6L246.9,394.9L246.7,394.4L246.6,393.9L246.5,393.1L246.4,392.6L246.2,391.9L246.1,391.2L246.0,390.6L245.9,389.9L245.9,389.3L245.8,388.6L245.8,387.9L245.7,387.1L245.7,386.4L245.7,385.6L245.7,384.9L245.8,384.1L245.9,383.4L245.9,382.9L246.0,382.1L246.1,381.4L246.2,380.9L246.3,380.1L246.4,379.6L246.6,378.9L246.7,378.4L246.9,377.6L247.0,377.1L247.1,376.6L247.4,376.0L247.6,375.4L247.8,374.9L248.0,374.4L248.3,373.9L248.6,373.4L248.9,373.1L249.3,372.6L249.6,372.3L250.1,371.9L250.6,371.7L250.8,371.6M312.3,371.4L312.9,371.3L313.6,371.3L314.4,371.3L315.1,371.3L315.9,371.3L316.6,371.4L317.4,371.3L318.1,371.3L318.9,371.3L319.6,371.2L320.4,371.2L321.1,371.2L321.9,371.2L322.6,371.2L323.4,371.3L323.9,371.4L324.6,371.6L325.1,371.8L325.6,372.0L326.1,372.2L326.6,372.4L327.1,372.7L327.6,372.9L328.2,373.1L328.8,373.4L329.4,373.6L329.9,373.8L330.4,373.9L331.1,374.1L331.6,374.3L332.1,374.4L332.7,374.6L333.2,374.9L333.6,375.1L334.1,375.5L334.5,375.9L334.9,376.3L335.2,376.6L335.6,377.1L335.9,377.4L336.4,377.9L336.6,378.1L337.1,378.6L337.4,378.9L337.9,379.3L338.2,379.6L338.6,380.0L339.0,380.4L339.4,380.7L339.8,381.1L340.1,381.4L340.6,381.8L341.1,382.1L341.5,382.4L342.0,382.6L342.4,382.9L342.9,383.2L343.4,383.5L343.8,383.9L344.1,384.2L344.4,384.6L344.6,385.2L344.8,385.9L344.9,386.4L345.0,387.1L345.0,387.9L345.0,388.6L345.0,389.4L344.9,390.1L344.8,390.6L344.6,391.1L344.4,391.6L344.1,392.1L343.6,392.6L343.4,392.9L342.9,393.2L342.4,393.5L341.9,393.7L341.3,393.9L340.6,394.1L340.1,394.3L339.6,394.5L339.2,394.9L338.9,395.1L338.4,395.5L338.0,395.9L337.6,396.2L337.1,396.5L336.6,396.9L336.2,397.1L335.8,397.4L335.4,397.7L334.9,398.1L334.6,398.4L334.1,398.8L333.8,399.1L333.4,399.5L332.9,399.9L332.6,400.1L332.1,400.5L331.6,400.8L331.1,401.1L330.8,401.4L330.4,401.6L329.9,402.0L329.5,402.4L329.1,402.7L328.8,403.1L328.4,403.6L328.1,403.9L327.6,404.4L327.2,404.6L326.7,404.9L326.1,405.1L325.6,405.3L325.1,405.5L324.6,405.8L324.1,406.1L323.7,406.4L323.4,406.6L322.9,407.0L322.4,407.4L321.9,407.6L321.4,407.8L320.9,407.9L320.1,408.0L319.4,408.0L318.6,408.1L318.1,408.1L317.4,408.2L316.6,408.2L316.1,408.1L315.4,408.0L314.9,407.8L314.4,407.6L313.9,407.3L313.4,407.0L312.9,406.7L312.4,406.4L312.1,406.1L311.6,405.8L311.1,405.5L310.7,405.1L310.4,404.8L309.9,404.4L309.6,404.1L309.1,403.7L308.6,403.4L308.2,403.1L307.8,402.9L307.4,402.6L306.9,402.1L306.6,401.9L306.1,401.4L305.9,401.1L305.4,400.6L305.1,400.4L304.6,400.1L304.0,399.9L303.4,399.7L302.9,399.5L302.4,399.3L301.9,399.1L301.4,398.9L300.9,398.5L300.4,398.2L299.9,397.9L299.5,397.6L298.9,397.4L298.4,397.3L297.6,397.2L296.9,397.2L296.4,397.1L295.6,397.1L294.9,397.0L294.1,397.0L293.4,396.9L292.9,396.9L292.1,396.8L291.4,396.6L290.9,396.5L290.4,396.3L289.9,396.1L289.4,395.8L288.9,395.5L288.4,395.1L288.1,394.9L287.6,394.4L287.2,394.1L286.9,393.9L286.4,393.6L285.9,393.3L285.4,393.1L284.9,392.8L284.4,392.6L283.9,392.3L283.4,391.9L283.1,391.5L282.9,391.1L282.6,390.6L282.4,390.0L282.2,389.4L282.1,388.9L281.9,388.2L281.7,387.6L281.6,387.1L281.5,386.4L281.5,385.6L281.5,384.9L281.6,384.1L281.7,383.6L281.8,382.9L281.9,382.4L282.1,381.8L282.4,381.2L282.6,380.8L282.9,380.4L283.2,379.9L283.6,379.4L283.9,379.1L284.3,378.6L284.6,378.3L285.1,377.9L285.4,377.6L285.9,377.2L286.2,376.9L286.6,376.4L286.9,376.1L287.3,375.6L287.6,375.3L288.1,374.9L288.4,374.6L288.9,374.3L289.4,374.0L289.9,373.7L290.4,373.4L290.9,373.2L291.4,373.0L291.9,372.8L292.6,372.7L293.1,372.6L293.9,372.6L294.6,372.6L295.4,372.6L296.1,372.5L296.9,372.5L297.6,372.5L298.4,372.5L299.1,372.6L299.6,372.6L300.4,372.7L301.1,372.8L301.9,372.8L302.6,372.8L303.4,372.8L304.1,372.8L304.9,372.7L305.6,372.7L306.4,372.7L306.9,372.6L307.6,372.6L308.4,372.4L308.9,372.3L309.6,372.1L310.1,371.9L310.6,371.8L311.1,371.6L311.9,371.4L312.3,371.4M251.0,372.4L251.6,372.2L252.4,372.2L253.1,372.3L253.6,372.4L254.2,372.6L254.7,372.9L255.1,373.2L255.6,373.6L255.9,373.9L256.3,374.4L256.6,374.9L256.9,375.4L257.1,375.9L257.3,376.4L257.4,376.9L257.6,377.4L257.8,378.1L258.0,378.6L258.1,379.1L258.3,379.9L258.4,380.4L258.6,381.1L258.7,381.6L258.8,382.4L258.9,382.9L258.9,383.6L259.0,384.4L259.1,385.1L259.1,385.6L259.2,386.4L259.2,387.1L259.2,387.9L259.1,388.6L259.1,389.1L258.9,389.9L258.8,390.4L258.7,391.1L258.5,391.6L258.4,392.4L258.3,392.9L258.1,393.5L258.0,394.1L257.9,394.6L257.7,395.4L257.5,395.9L257.3,396.4L257.1,396.9L256.8,397.4L256.5,397.9L256.1,398.4L255.9,398.6L255.4,399.1L255.0,399.4L254.5,399.6L253.9,399.8L253.4,399.9L252.6,400.0L251.9,399.9L251.4,399.9L250.6,399.6L250.1,399.4L249.8,399.1L249.4,398.8L249.0,398.4L248.6,397.9L248.4,397.4L248.1,396.9L247.9,396.4L247.8,395.9L247.6,395.4L247.4,394.6L247.2,394.1L247.1,393.6L247.0,392.9L246.9,392.4L246.7,391.6L246.6,391.1L246.5,390.4L246.4,389.6L246.4,389.0L246.3,388.4L246.3,387.6L246.2,386.9L246.2,386.1L246.2,385.4L246.3,384.6L246.4,383.9L246.4,383.4L246.5,382.6L246.6,381.9L246.7,381.4L246.8,380.6L246.9,380.1L247.0,379.4L247.1,378.9L247.3,378.1L247.4,377.6L247.6,377.0L247.9,376.4L248.1,375.9L248.3,375.4L248.5,374.9L248.8,374.4L249.1,374.0L249.4,373.6L249.8,373.1L250.1,372.9L250.6,372.5L251.0,372.4M320.7,372.1L321.4,372.1L322.1,372.1L322.6,372.1L323.4,372.2L324.0,372.4L324.6,372.6L325.1,372.8L325.6,373.0L326.1,373.3L326.6,373.6L327.1,373.8L327.6,374.1L328.1,374.3L328.6,374.5L329.1,374.7L329.8,374.9L330.4,375.0L330.9,375.2L331.6,375.4L332.1,375.6L332.6,375.8L333.0,376.1L333.4,376.4L333.9,376.9L334.1,377.2L334.5,377.6L334.9,378.1L335.1,378.4L335.5,378.9L335.9,379.3L336.2,379.6L336.6,380.1L337.0,380.4L337.4,380.8L337.7,381.1L338.1,381.6L338.4,381.9L338.8,382.4L339.1,382.8L339.6,383.1L339.9,383.4L340.4,383.6L341.1,383.9L341.6,384.1L342.1,384.3L342.6,384.6L343.1,384.9L343.4,385.2L343.6,385.7L343.8,386.4L343.9,386.9L343.9,387.6L343.9,388.2L343.8,388.9L343.6,389.6L343.4,390.1L343.1,390.6L342.9,390.9L342.4,391.2L341.6,391.3L340.9,391.2L340.4,391.0L339.6,390.9L338.9,391.1L338.5,391.4L338.1,391.8L337.9,392.1L337.6,392.6L337.3,393.1L337.0,393.6L336.6,394.1L336.4,394.4L335.9,394.9L335.6,395.1L335.1,395.5L334.7,395.9L334.4,396.1L333.9,396.6L333.6,397.0L333.3,397.4L332.9,397.9L332.6,398.1L332.1,398.6L331.7,398.9L331.3,399.1L330.9,399.4L330.4,399.7L329.9,399.9L329.4,400.2L328.9,400.5L328.4,400.8L328.0,401.1L327.6,401.4L327.1,401.8L326.8,402.1L326.4,402.4L325.9,402.8L325.4,403.1L324.9,403.4L324.4,403.6L324.0,403.9L323.6,404.1L323.1,404.4L322.6,404.7L322.1,405.0L321.6,405.3L321.1,405.5L320.6,405.7L319.9,405.8L319.4,405.9L318.6,406.0L317.9,406.1L317.1,406.1L316.4,406.0L315.6,405.9L315.1,405.7L314.6,405.5L314.1,405.3L313.6,405.0L313.1,404.7L312.6,404.4L312.2,404.1L311.9,403.8L311.4,403.4L311.0,403.1L310.6,402.8L310.1,402.4L309.7,402.1L309.3,401.9L308.9,401.6L308.4,401.3L307.9,400.9L307.6,400.6L307.2,400.1L306.9,399.7L306.5,399.4L306.1,399.1L305.6,398.8L305.1,398.6L304.5,398.4L303.9,398.2L303.4,398.0L302.9,397.7L302.4,397.4L302.0,397.1L301.6,396.8L301.1,396.4L300.7,396.1L300.1,395.9L299.6,395.7L299.1,395.6L298.4,395.5L297.6,395.5L296.9,395.5L296.1,395.6L295.4,395.6L294.9,395.6L294.1,395.7L293.4,395.6L292.9,395.6L292.1,395.5L291.4,395.4L290.9,395.2L290.4,395.0L289.9,394.7L289.4,394.4L289.0,394.1L288.6,393.9L288.1,393.5L287.7,393.1L287.3,392.9L286.9,392.5L286.4,392.2L286.0,391.9L285.6,391.6L285.1,391.1L284.9,390.8L284.6,390.4L284.4,389.9L284.1,389.2L283.9,388.6L283.7,388.1L283.5,387.6L283.3,387.1L283.1,386.4L283.1,385.9L283.0,385.1L283.0,384.4L283.1,383.7L283.2,383.1L283.4,382.6L283.6,381.9L283.9,381.4L284.1,380.9L284.4,380.5L284.6,380.1L285.0,379.6L285.4,379.2L285.7,378.9L286.1,378.4L286.4,378.1L286.9,377.7L287.1,377.4L287.6,376.9L287.9,376.5L288.2,376.1L288.6,375.7L289.0,375.4L289.4,375.1L289.9,374.7L290.4,374.4L290.9,374.2L291.4,374.0L291.9,373.8L292.6,373.7L293.1,373.6L293.9,373.6L294.6,373.6L295.4,373.6L296.1,373.6L296.9,373.6L297.6,373.6L298.1,373.7L298.9,373.8L299.5,373.9L300.1,373.9L300.9,374.0L301.6,374.0L302.4,374.0L303.1,374.0L303.9,373.9L304.6,373.9L305.4,373.9L305.9,373.9L306.6,373.8L307.4,373.7L308.1,373.6L308.6,373.5L309.3,373.4L309.9,373.2L310.4,373.0L310.9,372.8L311.6,372.6L312.1,372.5L312.8,372.4L313.4,372.3L314.1,372.3L314.7,372.4L315.4,372.4L316.1,372.5L316.9,372.5L317.6,372.4L318.1,372.3L318.9,372.3L319.6,372.2L320.4,372.1L320.7,372.1M251.1,373.1L251.6,373.0L252.4,372.9L253.1,373.0L253.7,373.1L254.2,373.4L254.6,373.6L255.1,374.0L255.5,374.4L255.9,374.8L256.1,375.2L256.4,375.7L256.6,376.3L256.9,376.9L257.1,377.4L257.2,377.9L257.4,378.4L257.6,379.1L257.8,379.6L257.9,380.1L258.0,380.9L258.1,381.4L258.3,382.1L258.3,382.9L258.4,383.4L258.5,384.1L258.5,384.9L258.6,385.6L258.7,386.1L258.7,386.9L258.7,387.6L258.7,388.4L258.6,388.9L258.5,389.6L258.4,390.1L258.2,390.9L258.1,391.4L257.9,392.1L257.8,392.6L257.6,393.3L257.5,393.9L257.4,394.4L257.2,395.1L257.0,395.6L256.8,396.1L256.6,396.6L256.3,397.1L255.9,397.6L255.6,398.0L255.2,398.4L254.9,398.6L254.4,398.9L253.8,399.1L253.1,399.3L252.4,399.3L251.6,399.1L251.1,399.0L250.6,398.8L250.1,398.5L249.7,398.1L249.4,397.8L249.1,397.4L248.8,396.9L248.5,396.4L248.3,395.9L248.1,395.3L247.9,394.6L247.8,394.1L247.6,393.6L247.4,392.9L247.3,392.4L247.2,391.6L247.1,391.1L247.0,390.4L246.9,389.6L246.8,389.1L246.8,388.4L246.7,387.6L246.7,386.9L246.7,386.1L246.7,385.4L246.8,384.6L246.8,383.9L246.9,383.4L247.0,382.6L247.1,381.9L247.2,381.4L247.3,380.6L247.4,380.1L247.5,379.4L247.6,378.9L247.8,378.1L248.0,377.6L248.1,377.1L248.4,376.5L248.6,375.9L248.9,375.4L249.1,375.0L249.4,374.6L249.8,374.1L250.1,373.8L250.6,373.4L251.1,373.1M319.7,373.1L320.4,373.0L321.1,373.0L321.9,373.0L322.6,373.0L323.4,373.1L323.9,373.3L324.4,373.4L324.9,373.7L325.4,373.9L325.9,374.2L326.4,374.5L326.9,374.8L327.4,375.1L327.9,375.3L328.4,375.5L328.9,375.6L329.6,375.8L330.1,376.0L330.6,376.1L331.3,376.4L331.8,376.6L332.2,376.9L332.6,377.2L333.0,377.6L333.4,378.1L333.6,378.4L333.9,378.9L334.3,379.4L334.6,379.9L334.9,380.2L335.2,380.6L335.6,381.1L335.9,381.4L336.3,381.9L336.6,382.3L336.9,382.8L337.1,383.3L337.4,383.8L337.6,384.3L337.9,384.7L338.2,385.1L338.5,385.6L338.8,386.1L339.0,386.6L338.8,387.1L338.4,387.6L338.1,387.9L337.6,388.4L337.4,388.7L337.1,389.1L336.7,389.6L336.5,390.1L336.2,390.6L336.0,391.1L335.8,391.6L335.6,392.1L335.3,392.6L334.9,393.1L334.6,393.5L334.3,393.9L333.9,394.3L333.5,394.6L333.1,395.0L332.8,395.4L332.4,395.8L332.1,396.1L331.7,396.6L331.4,397.0L330.9,397.4L330.6,397.6L330.1,398.0L329.6,398.3L329.2,398.6L328.8,398.9L328.4,399.2L327.9,399.5L327.4,399.8L326.9,400.1L326.6,400.4L326.1,400.7L325.6,401.0L325.1,401.3L324.6,401.6L324.2,401.9L323.8,402.1L323.4,402.4L322.9,402.7L322.4,403.0L321.9,403.2L321.4,403.5L320.9,403.7L320.4,403.9L319.6,404.1L319.1,404.2L318.4,404.3L317.6,404.2L317.1,404.1L316.6,403.9L315.9,403.6L315.4,403.4L314.9,403.2L314.4,403.1L313.8,402.9L313.2,402.6L312.8,402.4L312.4,402.1L311.9,401.7L311.4,401.4L311.0,401.1L310.6,400.9L310.1,400.6L309.6,400.2L309.2,399.9L308.9,399.6L308.4,399.2L308.1,398.9L307.6,398.5L307.1,398.1L306.7,397.9L306.3,397.6L305.7,397.4L305.2,397.1L304.7,396.9L304.2,396.6L303.8,396.4L303.4,396.1L302.9,395.7L302.4,395.4L301.9,395.1L301.4,394.9L300.9,394.7L300.4,394.5L299.7,394.4L299.1,394.3L298.4,394.3L297.6,394.3L296.9,394.4L296.4,394.4L295.6,394.5L294.9,394.6L294.1,394.6L293.4,394.6L292.6,394.5L291.9,394.4L291.4,394.2L290.9,394.0L290.4,393.8L289.9,393.5L289.4,393.2L288.9,392.9L288.5,392.6L288.1,392.3L287.6,391.9L287.3,391.6L286.9,391.1L286.6,390.8L286.3,390.4L286.1,389.9L285.9,389.3L285.6,388.6L285.4,388.1L285.2,387.6L284.9,387.1L284.7,386.6L284.5,386.1L284.4,385.5L284.3,384.9L284.3,384.1L284.4,383.6L284.6,382.9L284.7,382.4L284.9,381.9L285.1,381.4L285.4,380.9L285.8,380.4L286.1,379.9L286.4,379.6L286.8,379.1L287.1,378.8L287.5,378.4L287.9,377.9L288.1,377.6L288.5,377.1L288.9,376.7L289.2,376.4L289.6,376.0L290.1,375.6L290.5,375.4L291.0,375.1L291.6,374.9L292.1,374.7L292.6,374.6L293.4,374.5L294.1,374.5L294.9,374.6L295.6,374.6L296.4,374.6L296.9,374.6L297.6,374.7L298.4,374.8L298.9,374.9L299.6,375.0L300.4,375.1L301.1,375.1L301.9,375.0L302.6,375.0L303.4,374.9L304.1,374.9L304.9,374.9L305.4,374.9L306.1,374.8L306.9,374.7L307.6,374.6L308.1,374.6L308.9,374.5L309.4,374.4L310.1,374.2L310.6,374.0L311.2,373.9L311.9,373.7L312.4,373.6L313.1,373.5L313.9,373.5L314.6,373.6L315.1,373.6L315.9,373.7L316.6,373.7L317.1,373.6L317.9,373.5L318.4,373.4L319.1,373.2L319.7,373.1M251.9,373.6L252.6,373.6L253.1,373.7L253.7,373.9L254.2,374.1L254.6,374.4L255.1,374.9L255.4,375.2L255.7,375.6L256.0,376.1L256.2,376.6L256.5,377.1L256.7,377.6L256.9,378.2L257.1,378.9L257.2,379.4L257.4,379.9L257.5,380.6L257.6,381.1L257.8,381.9L257.9,382.6L257.9,383.1L258.0,383.9L258.0,384.6L258.1,385.4L258.1,385.9L258.2,386.6L258.2,387.4L258.2,388.1L258.1,388.9L258.0,389.4L257.9,390.1L257.8,390.6L257.6,391.3L257.5,391.9L257.4,392.4L257.2,393.1L257.1,393.6L256.9,394.4L256.8,394.9L256.6,395.4L256.4,395.9L256.1,396.4L255.8,396.9L255.4,397.4L255.1,397.6L254.6,398.0L254.1,398.3L253.6,398.5L252.9,398.6L252.1,398.5L251.5,398.4L250.9,398.1L250.5,397.9L250.1,397.6L249.7,397.1L249.4,396.7L249.1,396.3L248.9,395.8L248.6,395.2L248.4,394.6L248.2,394.1L248.1,393.6L247.9,392.9L247.8,392.4L247.6,391.6L247.5,391.1L247.4,390.4L247.4,389.9L247.3,389.1L247.2,388.4L247.1,387.6L247.1,387.1L247.1,386.4L247.1,385.6L247.1,385.1L247.2,384.4L247.3,383.6L247.4,383.0L247.5,382.4L247.6,381.6L247.7,381.1L247.8,380.4L247.9,379.9L248.0,379.1L248.2,378.6L248.4,377.9L248.5,377.4L248.7,376.9L249.0,376.4L249.2,375.9L249.5,375.4L249.9,375.0L250.2,374.6L250.6,374.2L251.1,373.9L251.6,373.7L251.9,373.6M320.5,373.9L321.1,373.8L321.9,373.8L322.6,373.8L323.1,373.9L323.8,374.1L324.3,374.4L324.8,374.6L325.2,374.9L325.6,375.1L326.1,375.5L326.6,375.8L327.1,376.0L327.6,376.2L328.1,376.4L328.9,376.6L329.4,376.7L329.9,376.9L330.5,377.1L331.0,377.4L331.4,377.6L331.9,378.0L332.2,378.4L332.6,378.9L332.9,379.3L333.1,379.7L333.4,380.2L333.6,380.6L334.0,381.1L334.3,381.6L334.6,382.1L334.9,382.6L335.1,383.1L335.2,383.6L335.4,384.2L335.5,384.9L335.6,385.6L335.6,386.4L335.5,387.1L335.4,387.7L335.2,388.4L335.0,388.9L334.9,389.4L334.6,390.1L334.4,390.6L334.2,391.1L334.0,391.6L333.7,392.1L333.4,392.6L333.1,392.9L332.8,393.4L332.4,393.8L332.1,394.1L331.6,394.6L331.4,394.9L330.9,395.4L330.6,395.7L330.2,396.1L329.9,396.5L329.4,396.9L329.1,397.1L328.6,397.5L328.2,397.9L327.8,398.1L327.4,398.5L326.9,398.8L326.4,399.1L326.0,399.4L325.6,399.6L325.1,399.9L324.6,400.1L324.1,400.4L323.6,400.6L323.0,400.9L322.4,401.1L321.9,401.4L321.4,401.6L320.9,401.9L320.4,402.1L319.9,402.4L319.4,402.5L318.6,402.6L317.9,402.4L317.4,402.3L316.9,402.0L316.4,401.8L315.9,401.6L315.3,401.4L314.6,401.2L314.1,401.0L313.6,400.8L313.1,400.6L312.6,400.3L312.1,400.1L311.6,399.8L311.1,399.5L310.6,399.2L310.1,398.9L309.8,398.6L309.4,398.3L308.9,397.9L308.5,397.6L308.1,397.3L307.6,397.0L307.1,396.7L306.6,396.4L306.1,396.2L305.6,395.9L305.1,395.6L304.8,395.4L304.4,395.1L303.9,394.8L303.4,394.5L302.9,394.3L302.4,394.0L301.9,393.8L301.4,393.6L300.6,393.4L300.1,393.3L299.4,393.2L298.6,393.2L297.9,393.2L297.1,393.3L296.6,393.4L295.9,393.5L295.1,393.6L294.6,393.6L293.9,393.6L293.4,393.6L292.6,393.5L292.1,393.4L291.4,393.2L290.9,393.0L290.4,392.7L289.9,392.4L289.4,392.1L289.0,391.9L288.6,391.5L288.2,391.1L287.9,390.8L287.6,390.4L287.3,389.9L287.1,389.4L286.9,388.8L286.6,388.1L286.4,387.6L286.2,387.1L286.0,386.6L285.8,386.1L285.6,385.6L285.5,384.9L285.5,384.1L285.6,383.4L285.7,382.9L285.9,382.3L286.1,381.7L286.4,381.3L286.6,380.9L287.0,380.4L287.4,379.9L287.6,379.6L288.0,379.1L288.4,378.7L288.6,378.4L289.0,377.9L289.4,377.4L289.6,377.1L290.1,376.7L290.5,376.4L290.9,376.1L291.4,375.9L292.1,375.6L292.6,375.5L293.4,375.4L294.1,375.4L294.9,375.4L295.6,375.5L296.4,375.6L296.9,375.6L297.6,375.8L298.2,375.9L298.9,376.0L299.6,376.1L300.4,376.1L301.1,376.0L301.9,375.9L302.6,375.9L303.1,375.8L303.9,375.8L304.6,375.8L305.4,375.7L306.1,375.6L306.6,375.6L307.4,375.5L308.1,375.4L308.6,375.4L309.4,375.3L310.1,375.2L310.6,375.1L311.4,375.0L311.9,374.9L312.6,374.8L313.4,374.7L314.1,374.7L314.9,374.8L315.6,374.8L316.4,374.8L317.1,374.7L317.6,374.6L318.3,374.4L318.9,374.2L319.4,374.1L320.1,373.9L320.5,373.9M251.8,374.4L252.4,374.3L253.1,374.4L253.6,374.6L254.1,374.9L254.5,375.1L254.9,375.5L255.2,375.9L255.5,376.4L255.8,376.9L256.1,377.4L256.3,377.9L256.5,378.4L256.7,378.9L256.9,379.6L257.0,380.1L257.1,380.6L257.3,381.4L257.4,382.1L257.4,382.6L257.5,383.4L257.5,384.1L257.6,384.9L257.6,385.4L257.7,386.1L257.8,386.9L257.8,387.6L257.8,388.4L257.7,389.1L257.6,389.6L257.4,390.4L257.3,390.9L257.1,391.5L257.0,392.1L256.9,392.6L256.7,393.4L256.6,393.9L256.4,394.6L256.2,395.1L256.0,395.6L255.7,396.1L255.4,396.6L255.1,396.9L254.6,397.3L254.1,397.6L253.6,397.8L253.1,397.9L252.5,397.9L251.9,397.8L251.4,397.6L250.9,397.3L250.4,396.9L250.1,396.6L249.7,396.1L249.4,395.6L249.1,395.1L248.9,394.6L248.7,394.1L248.5,393.6L248.4,393.1L248.2,392.4L248.1,391.9L247.9,391.1L247.9,390.6L247.8,389.9L247.7,389.1L247.6,388.6L247.5,387.9L247.5,387.1L247.5,386.4L247.5,385.6L247.5,384.9L247.6,384.1L247.7,383.6L247.8,382.9L247.9,382.3L248.0,381.6L248.1,380.9L248.2,380.4L248.4,379.6L248.5,379.1L248.6,378.6L248.8,377.9L249.0,377.4L249.2,376.9L249.5,376.4L249.8,375.9L250.1,375.5L250.5,375.1L250.9,374.8L251.4,374.5L251.8,374.4M320.8,374.6L321.4,374.6L322.1,374.6L322.6,374.7L323.4,374.9L323.9,375.1L324.4,375.4L324.8,375.6L325.2,375.9L325.6,376.2L326.1,376.5L326.6,376.8L327.1,377.0L327.6,377.2L328.2,377.4L328.9,377.6L329.4,377.7L329.9,377.9L330.4,378.2L330.9,378.5L331.3,378.9L331.6,379.4L331.9,379.7L332.1,380.2L332.4,380.7L332.6,381.2L332.9,381.8L333.1,382.3L333.4,382.9L333.6,383.4L333.7,383.9L333.9,384.6L334.0,385.1L334.0,385.9L334.0,386.6L334.0,387.4L333.9,388.0L333.7,388.6L333.6,389.1L333.4,389.8L333.1,390.4L332.9,390.9L332.7,391.4L332.4,391.8L332.1,392.2L331.8,392.6L331.4,393.1L331.1,393.4L330.7,393.9L330.4,394.3L330.1,394.6L329.6,395.1L329.4,395.4L328.9,395.9L328.6,396.1L328.1,396.6L327.8,396.9L327.4,397.2L326.9,397.6L326.5,397.9L326.1,398.2L325.6,398.5L325.1,398.8L324.6,399.0L324.1,399.2L323.6,399.4L323.0,399.6L322.4,399.8L321.9,400.0L321.4,400.2L320.9,400.4L320.4,400.6L319.7,400.9L319.1,401.0L318.4,401.0L317.8,400.9L317.3,400.6L316.8,400.4L316.4,400.1L315.9,399.8L315.4,399.5L314.9,399.3L314.4,399.1L313.9,398.9L313.1,398.6L312.6,398.5L312.1,398.3L311.5,398.1L311.0,397.9L310.6,397.6L310.1,397.3L309.6,396.9L309.3,396.6L308.9,396.3L308.4,396.0L307.9,395.7L307.4,395.4L306.9,395.2L306.4,394.9L305.9,394.7L305.4,394.4L304.9,394.1L304.4,393.9L303.9,393.6L303.4,393.4L302.9,393.1L302.4,392.9L301.9,392.7L301.4,392.5L300.9,392.3L300.2,392.1L299.6,392.0L298.9,392.0L298.1,392.1L297.6,392.1L296.9,392.3L296.4,392.4L295.6,392.6L295.1,392.6L294.4,392.7L293.6,392.6L293.1,392.6L292.4,392.4L291.9,392.3L291.4,392.1L290.9,391.8L290.4,391.6L289.9,391.3L289.4,390.9L289.1,390.6L288.6,390.1L288.4,389.8L288.1,389.3L287.9,388.8L287.6,388.2L287.4,387.6L287.2,387.1L287.0,386.6L286.8,386.1L286.6,385.4L286.5,384.9L286.5,384.1L286.6,383.4L286.8,382.9L286.9,382.4L287.2,381.9L287.4,381.4L287.7,380.9L288.0,380.4L288.4,379.9L288.6,379.6L289.0,379.1L289.4,378.7L289.6,378.4L290.1,377.9L290.4,377.6L290.9,377.1L291.3,376.9L291.8,376.6L292.4,376.4L292.9,376.3L293.6,376.2L294.4,376.2L295.1,376.3L295.9,376.4L296.4,376.4L297.1,376.6L297.6,376.7L298.2,376.9L298.9,377.0L299.6,377.1L300.4,377.1L301.1,377.0L301.9,376.9L302.4,376.8L303.1,376.7L303.9,376.7L304.4,376.6L305.1,376.6L305.9,376.5L306.5,376.4L307.1,376.3L307.9,376.2L308.6,376.2L309.4,376.2L310.1,376.1L310.6,376.1L311.4,376.0L312.1,375.9L312.6,375.9L313.4,375.8L314.1,375.8L314.9,375.8L315.6,375.8L316.4,375.8L317.1,375.7L317.6,375.5L318.1,375.4L318.8,375.1L319.4,374.9L319.9,374.8L320.6,374.6L320.8,374.6M251.6,375.1L252.1,375.0L252.9,375.0L253.4,375.2L253.9,375.5L254.4,375.9L254.6,376.1L255.1,376.6L255.4,377.1L255.6,377.5L255.9,378.0L256.1,378.6L256.3,379.1L256.5,379.6L256.6,380.1L256.8,380.9L256.9,381.4L257.0,382.1L257.1,382.9L257.1,383.6L257.1,384.1L257.2,384.9L257.3,385.6L257.3,386.4L257.4,387.1L257.4,387.6L257.4,388.1L257.3,388.9L257.1,389.6L257.0,390.1L256.9,390.8L256.7,391.4L256.6,391.9L256.4,392.6L256.3,393.1L256.1,393.8L256.0,394.4L255.8,394.9L255.6,395.4L255.3,395.9L254.9,396.3L254.6,396.6L254.1,396.9L253.6,397.1L252.9,397.2L252.1,397.1L251.6,396.9L251.1,396.7L250.7,396.4L250.4,396.0L250.0,395.6L249.7,395.1L249.4,394.6L249.2,394.1L249.0,393.6L248.8,393.1L248.6,392.5L248.5,391.9L248.4,391.4L248.2,390.6L248.1,389.9L248.1,389.4L248.0,388.6L247.9,387.9L247.9,387.4L247.8,386.6L247.8,385.9L247.8,385.1L247.9,384.6L248.0,383.9L248.1,383.1L248.2,382.6L248.3,381.9L248.4,381.4L248.6,380.6L248.7,380.1L248.8,379.4L249.0,378.9L249.1,378.4L249.4,377.6L249.6,377.1L249.9,376.6L250.1,376.3L250.5,375.9L250.9,375.5L251.4,375.2L251.6,375.1M321.2,375.4L321.7,375.4L322.4,375.5L323.0,375.6L323.6,375.9L324.0,376.1L324.4,376.4L324.9,376.7L325.4,377.0L325.9,377.4L326.3,377.6L326.7,377.9L327.3,378.1L327.9,378.3L328.4,378.5L328.9,378.6L329.4,378.9L329.9,379.2L330.4,379.6L330.6,380.0L330.9,380.4L331.1,380.9L331.4,381.6L331.6,382.1L331.8,382.6L332.0,383.1L332.2,383.6L332.4,384.2L332.6,384.9L332.7,385.4L332.8,386.1L332.9,386.9L332.8,387.6L332.7,388.4L332.6,388.9L332.4,389.5L332.1,390.1L331.9,390.6L331.6,391.0L331.4,391.4L331.0,391.9L330.6,392.3L330.4,392.6L330.0,393.1L329.6,393.5L329.3,393.9L328.9,394.4L328.6,394.7L328.2,395.1L327.9,395.5L327.5,395.9L327.1,396.2L326.6,396.6L326.4,396.9L325.9,397.3L325.4,397.6L324.9,397.9L324.4,398.1L323.9,398.4L323.4,398.5L322.9,398.7L322.2,398.9L321.6,399.0L321.1,399.2L320.6,399.4L319.9,399.6L319.4,399.7L318.6,399.7L318.1,399.6L317.6,399.3L317.1,399.0L316.7,398.6L316.4,398.3L315.9,397.9L315.5,397.6L315.1,397.4L314.6,397.1L313.9,396.9L313.4,396.8L312.6,396.6L312.1,396.5L311.6,396.3L311.1,396.1L310.6,395.8L310.1,395.4L309.7,395.1L309.3,394.9L308.7,394.6L308.1,394.4L307.6,394.2L307.1,394.0L306.6,393.7L306.1,393.5L305.6,393.3L305.1,393.1L304.5,392.9L303.9,392.6L303.4,392.4L302.9,392.2L302.4,392.0L301.9,391.7L301.4,391.5L300.9,391.2L300.4,391.0L299.9,390.9L299.1,390.8L298.4,390.8L297.9,390.9L297.1,391.1L296.6,391.2L296.0,391.4L295.4,391.5L294.6,391.5L293.9,391.4L293.4,391.4L292.6,391.2L292.1,391.1L291.6,390.9L291.0,390.6L290.5,390.4L290.1,390.1L289.6,389.7L289.3,389.4L288.9,388.9L288.7,388.4L288.4,387.9L288.2,387.4L288.0,386.9L287.9,386.4L287.7,385.6L287.6,385.1L287.6,384.4L287.6,383.7L287.7,383.1L287.9,382.6L288.1,382.0L288.4,381.4L288.6,381.0L288.9,380.6L289.2,380.1L289.6,379.6L289.9,379.3L290.2,378.9L290.6,378.4L290.9,378.1L291.4,377.8L291.9,377.5L292.4,377.3L292.9,377.1L293.6,377.0L294.4,377.0L295.1,377.0L295.7,377.1L296.4,377.3L296.9,377.4L297.6,377.6L298.1,377.8L298.6,378.0L299.1,378.1L299.9,378.3L300.6,378.2L301.2,378.1L301.9,378.0L302.4,377.8L303.1,377.7L303.6,377.6L304.4,377.5L305.1,377.4L305.6,377.3L306.4,377.2L306.9,377.1L307.6,377.0L308.4,377.0L309.1,377.0L309.9,377.0L310.6,377.0L311.4,377.0L312.0,376.9L312.6,376.8L313.4,376.8L314.1,376.7L314.9,376.8L315.6,376.8L316.4,376.7L316.9,376.6L317.6,376.4L318.1,376.2L318.6,376.0L319.1,375.9L319.8,375.6L320.4,375.5L321.1,375.4L321.2,375.4M251.5,375.9L252.1,375.7L252.9,375.7L253.4,375.9L253.9,376.3L254.3,376.6L254.6,376.9L255.0,377.4L255.3,377.9L255.6,378.4L255.8,378.9L256.0,379.4L256.2,379.9L256.4,380.6L256.5,381.1L256.6,381.9L256.6,382.4L256.7,383.1L256.7,383.9L256.8,384.6L256.8,385.4L256.9,385.9L256.9,386.6L257.0,387.4L256.9,388.1L256.9,388.7L256.8,389.4L256.6,390.0L256.5,390.6L256.4,391.1L256.2,391.9L256.1,392.4L255.9,393.1L255.7,393.6L255.6,394.1L255.4,394.7L255.1,395.2L254.8,395.6L254.4,396.1L253.9,396.4L253.4,396.5L252.6,396.6L251.9,396.4L251.5,396.1L251.1,395.9L250.6,395.5L250.3,395.1L250.0,394.6L249.7,394.1L249.4,393.6L249.2,393.1L249.1,392.6L248.9,391.9L248.8,391.4L248.6,390.6L248.5,390.1L248.4,389.4L248.4,388.9L248.3,388.1L248.2,387.4L248.1,386.6L248.1,385.9L248.2,385.1L248.3,384.4L248.4,383.6L248.5,383.1L248.6,382.4L248.7,381.9L248.8,381.1L249.0,380.6L249.1,379.9L249.3,379.4L249.4,378.9L249.6,378.2L249.9,377.6L250.1,377.1L250.4,376.8L250.8,376.4L251.1,376.1L251.5,375.9M320.2,376.4L320.9,376.3L321.6,376.3L322.3,376.4L322.9,376.6L323.4,376.8L323.9,377.1L324.4,377.4L324.8,377.6L325.1,377.9L325.6,378.2L326.1,378.5L326.6,378.8L327.1,379.1L327.6,379.4L328.1,379.6L328.5,379.9L328.9,380.2L329.2,380.6L329.5,381.1L329.7,381.6L329.9,382.4L330.0,382.9L330.3,383.4L330.5,383.9L330.8,384.4L331.1,384.9L331.3,385.4L331.5,385.9L331.6,386.5L331.7,387.1L331.7,387.9L331.6,388.4L331.4,389.1L331.2,389.6L330.9,390.1L330.6,390.5L330.4,390.9L330.0,391.4L329.6,391.8L329.4,392.1L329.0,392.6L328.6,393.1L328.4,393.4L328.0,393.9L327.6,394.4L327.4,394.7L327.0,395.1L326.6,395.5L326.2,395.9L325.9,396.2L325.4,396.6L325.0,396.9L324.6,397.1L324.1,397.4L323.4,397.6L322.9,397.8L322.4,397.9L321.6,398.1L321.1,398.2L320.4,398.4L319.9,398.5L319.1,398.5L318.6,398.4L318.1,398.1L317.6,397.8L317.2,397.4L316.9,397.1L316.4,396.6L316.1,396.4L315.6,395.9L315.2,395.6L314.8,395.4L314.3,395.1L313.6,394.9L313.1,394.7L312.6,394.5L312.1,394.3L311.6,394.1L311.0,393.9L310.4,393.7L309.9,393.6L309.1,393.4L308.6,393.3L308.0,393.1L307.4,392.9L306.9,392.7L306.4,392.6L305.8,392.4L305.1,392.2L304.6,392.0L304.1,391.8L303.6,391.6L303.0,391.4L302.5,391.1L302.1,390.9L301.6,390.6L301.1,390.3L300.6,390.0L300.1,389.7L299.6,389.6L298.9,389.5L298.1,389.6L297.6,389.8L297.1,389.9L296.4,390.1L295.9,390.2L295.1,390.2L294.6,390.1L293.9,390.0L293.1,389.9L292.6,389.8L291.9,389.6L291.4,389.5L290.9,389.3L290.4,389.0L290.0,388.6L289.6,388.2L289.4,387.9L289.1,387.4L288.9,386.7L288.7,386.1L288.6,385.6L288.6,384.9L288.6,384.1L288.7,383.6L288.8,382.9L288.9,382.4L289.1,381.8L289.4,381.3L289.6,380.8L289.9,380.4L290.3,379.9L290.6,379.5L291.0,379.1L291.4,378.8L291.9,378.5L292.4,378.2L292.9,378.0L293.5,377.9L294.1,377.8L294.9,377.8L295.4,377.9L296.1,378.1L296.6,378.2L297.1,378.4L297.6,378.6L298.1,378.9L298.6,379.2L299.1,379.6L299.6,379.9L300.1,380.0L300.9,380.0L301.4,379.8L301.9,379.5L302.4,379.2L302.9,378.9L303.4,378.7L303.9,378.5L304.4,378.4L305.1,378.2L305.6,378.1L306.4,377.9L306.9,377.8L307.6,377.8L308.4,377.8L309.1,377.9L309.6,377.9L310.3,377.9L310.9,377.8L311.6,377.8L312.4,377.7L313.1,377.7L313.9,377.7L314.6,377.7L315.4,377.7L316.1,377.6L316.6,377.5L317.3,377.4L317.9,377.2L318.4,377.0L318.9,376.8L319.4,376.6L320.1,376.4L320.2,376.4M251.4,376.6L252.1,376.4L252.9,376.5L253.4,376.7L253.9,377.0L254.3,377.4L254.6,377.7L254.9,378.1L255.2,378.6L255.5,379.1L255.7,379.6L255.9,380.2L256.1,380.9L256.2,381.4L256.3,382.1L256.3,382.9L256.3,383.6L256.4,384.3L256.4,384.9L256.5,385.6L256.5,386.4L256.6,387.1L256.5,387.9L256.5,388.6L256.4,389.2L256.2,389.9L256.1,390.4L255.9,391.1L255.8,391.6L255.6,392.4L255.5,392.9L255.4,393.4L255.1,394.1L254.9,394.6L254.6,395.0L254.3,395.4L253.9,395.7L253.4,395.9L252.6,395.9L252.1,395.8L251.6,395.5L251.1,395.2L250.8,394.9L250.4,394.4L250.1,394.0L249.9,393.5L249.6,393.0L249.4,392.4L249.3,391.9L249.1,391.3L249.0,390.6L248.9,389.9L248.8,389.4L248.7,388.6L248.6,388.1L248.5,387.4L248.5,386.6L248.5,385.9L248.5,385.1L248.6,384.4L248.7,383.9L248.8,383.1L248.9,382.6L249.1,381.9L249.2,381.4L249.3,380.6L249.5,380.1L249.6,379.5L249.8,378.9L250.0,378.4L250.2,377.9L250.6,377.4L250.9,377.0L251.4,376.7L251.4,376.6M252.3,377.1L252.6,377.1L253.3,377.4L253.7,377.6L254.1,378.0L254.5,378.4L254.9,378.9L255.1,379.3L255.4,379.9L255.5,380.4L255.7,380.9L255.8,381.6L255.9,382.1L255.9,382.9L256.0,383.6L256.0,384.4L256.0,385.1L256.1,385.9L256.1,386.5L256.1,387.1L256.1,387.7L256.1,388.4L256.0,389.1L255.9,389.6L255.7,390.4L255.6,390.9L255.4,391.6L255.3,392.1L255.1,392.7L254.9,393.4L254.7,393.9L254.4,394.4L254.1,394.7L253.6,395.1L253.1,395.3L252.4,395.2L251.9,395.0L251.4,394.7L251.0,394.4L250.6,393.9L250.4,393.5L250.1,393.1L249.9,392.5L249.7,391.9L249.5,391.4L249.4,390.7L249.3,390.1L249.2,389.4L249.1,388.9L249.0,388.1L248.9,387.5L248.8,386.9L248.8,386.1L248.8,385.4L248.9,384.6L248.9,384.1L249.1,383.4L249.2,382.9L249.4,382.1L249.5,381.6L249.6,381.0L249.8,380.4L249.9,379.9L250.1,379.3L250.4,378.7L250.6,378.2L250.9,377.9L251.4,377.4L251.9,377.2L252.3,377.1M320.0,377.4L320.6,377.3L321.4,377.2L322.1,377.3L322.6,377.5L323.1,377.7L323.6,377.9L324.1,378.1L324.6,378.4L325.1,378.8L325.6,379.1L325.9,379.4L326.4,379.7L326.9,380.1L327.2,380.4L327.6,380.8L327.9,381.1L328.1,381.6L328.4,382.2L328.6,382.8L328.8,383.4L329.1,383.9L329.3,384.4L329.5,384.9L329.8,385.4L330.0,385.9L330.2,386.4L330.3,387.1L330.4,387.9L330.2,388.6L330.0,389.1L329.8,389.6L329.4,390.1L329.1,390.6L328.9,390.9L328.6,391.4L328.2,391.9L327.9,392.4L327.6,392.8L327.4,393.2L327.1,393.6L326.7,394.1L326.4,394.5L326.1,394.9L325.6,395.3L325.3,395.6L324.9,396.0L324.4,396.3L323.9,396.6L323.4,396.8L322.9,397.0L322.1,397.1L321.6,397.2L320.9,397.3L320.1,397.4L319.4,397.3L318.8,397.1L318.4,396.9L317.9,396.5L317.5,396.1L317.1,395.7L316.8,395.4L316.4,395.0L316.1,394.6L315.6,394.2L315.2,393.9L314.8,393.6L314.3,393.4L313.8,393.1L313.1,392.9L312.6,392.7L312.1,392.6L311.4,392.5L310.6,392.5L309.9,392.5L309.1,392.4L308.6,392.3L307.9,392.1L307.4,392.0L306.9,391.8L306.2,391.6L305.6,391.5L305.1,391.4L304.4,391.1L303.9,390.9L303.4,390.7L302.9,390.4L302.4,390.1L302.1,389.9L301.6,389.5L301.1,389.1L300.8,388.9L300.4,388.5L299.9,388.1L299.4,387.9L299.1,387.9L298.4,388.0L297.9,388.2L297.4,388.5L296.9,388.7L296.4,388.9L295.6,389.0L294.9,388.9L294.2,388.9L293.6,388.8L292.9,388.7L292.4,388.6L291.6,388.4L291.1,388.2L290.6,387.9L290.3,387.6L290.0,387.1L289.8,386.6L289.6,386.1L289.5,385.4L289.6,384.6L289.6,384.0L289.7,383.4L289.8,382.6L289.9,382.1L290.1,381.6L290.4,381.1L290.7,380.6L291.1,380.2L291.4,379.9L291.9,379.5L292.4,379.2L292.9,379.0L293.4,378.8L294.1,378.7L294.9,378.8L295.6,378.9L296.1,379.0L296.6,379.3L297.1,379.6L297.4,379.9L297.8,380.4L298.1,380.8L298.4,381.1L298.8,381.6L299.2,381.9L299.6,382.1L300.4,382.3L301.1,382.3L301.7,382.1L302.1,381.8L302.6,381.4L302.9,380.9L303.1,380.6L303.5,380.1L303.9,379.8L304.4,379.4L304.9,379.2L305.4,379.0L305.9,378.8L306.6,378.6L307.1,378.6L307.9,378.5L308.6,378.6L309.4,378.6L309.9,378.6L310.4,378.6L311.1,378.6L311.9,378.6L312.6,378.6L313.4,378.6L313.9,378.7L314.6,378.7L315.4,378.7L315.9,378.6L316.6,378.4L317.1,378.3L317.7,378.1L318.4,377.9L318.9,377.7L319.4,377.6L320.0,377.4M252.3,377.9L252.6,377.9L253.3,378.1L253.7,378.4L254.1,378.7L254.5,379.1L254.8,379.6L255.0,380.1L255.2,380.6L255.4,381.2L255.5,381.9L255.6,382.6L255.6,383.4L255.6,384.1L255.6,384.6L255.7,385.4L255.7,386.1L255.7,386.9L255.7,387.6L255.6,388.4L255.6,388.9L255.4,389.6L255.3,390.1L255.1,390.9L255.0,391.4L254.9,391.9L254.7,392.6L254.5,393.1L254.2,393.6L253.9,394.1L253.6,394.4L252.9,394.6L252.1,394.4L251.6,394.2L251.3,393.9L250.9,393.5L250.6,393.1L250.4,392.6L250.1,392.0L249.9,391.4L249.8,390.9L249.6,390.1L249.6,389.6L249.4,388.9L249.3,388.4L249.2,387.6L249.1,386.9L249.1,386.4L249.1,385.6L249.1,385.1L249.2,384.4L249.4,383.6L249.5,383.1L249.6,382.5L249.8,381.9L249.9,381.4L250.1,380.7L250.3,380.1L250.5,379.6L250.7,379.1L251.0,378.6L251.4,378.3L251.9,378.0L252.3,377.9M319.9,378.4L320.6,378.2L321.4,378.2L322.1,378.3L322.6,378.4L323.4,378.6L323.9,378.8L324.4,379.1L324.7,379.4L325.1,379.7L325.6,380.1L325.9,380.4L326.4,380.8L326.7,381.1L327.1,381.6L327.4,382.1L327.6,382.6L327.8,383.1L328.0,383.6L328.2,384.1L328.4,384.6L328.6,385.3L328.8,385.9L329.0,386.4L329.1,387.1L329.1,387.9L328.9,388.6L328.7,389.1L328.5,389.6L328.2,390.1L328.0,390.6L327.7,391.1L327.4,391.6L327.1,392.0L326.9,392.4L326.6,392.9L326.2,393.4L325.9,393.8L325.6,394.1L325.2,394.6L324.9,395.0L324.4,395.4L324.1,395.6L323.6,395.9L322.9,396.1L322.4,396.3L321.6,396.4L321.1,396.4L320.4,396.4L319.9,396.3L319.2,396.1L318.8,395.9L318.4,395.6L317.9,395.2L317.6,394.9L317.1,394.4L316.9,394.1L316.4,393.6L316.1,393.3L315.7,392.9L315.4,392.6L314.9,392.2L314.4,391.9L314.1,391.6L313.6,391.4L312.9,391.2L312.1,391.2L311.4,391.4L310.9,391.5L310.1,391.6L309.4,391.6L308.6,391.4L308.1,391.3L307.4,391.1L306.9,391.0L306.4,390.9L305.6,390.7L305.1,390.5L304.6,390.4L304.1,390.1L303.6,389.9L303.1,389.5L302.6,389.1L302.3,388.9L301.9,388.4L301.6,388.1L301.3,387.6L301.0,387.1L300.6,386.6L300.4,386.3L299.9,385.9L299.4,385.7L298.9,385.9L298.4,386.1L297.9,386.5L297.4,386.9L297.1,387.1L296.6,387.4L296.1,387.7L295.5,387.9L294.9,387.9L294.1,387.9L293.6,387.9L292.9,387.8L292.2,387.6L291.6,387.4L291.2,387.1L290.9,386.7L290.6,386.3L290.5,385.6L290.5,384.9L290.5,384.1L290.6,383.4L290.7,382.9L290.9,382.2L291.1,381.6L291.4,381.3L291.7,380.9L292.1,380.6L292.6,380.3L293.1,380.1L293.9,379.9L294.6,379.9L295.4,380.1L295.9,380.4L296.2,380.6L296.6,381.1L296.9,381.5L297.2,381.9L297.6,382.4L297.9,382.7L298.3,383.1L298.6,383.4L299.1,383.8L299.6,384.1L300.1,384.3L300.9,384.2L301.4,384.0L301.9,383.7L302.4,383.4L302.7,383.1L303.1,382.7L303.4,382.4L303.8,381.9L304.1,381.4L304.4,380.9L304.6,380.6L305.1,380.1L305.4,379.9L305.9,379.6L306.6,379.4L307.1,379.3L307.9,379.2L308.6,379.3L309.4,379.3L310.1,379.3L310.9,379.3L311.6,379.3L312.2,379.4L312.9,379.5L313.4,379.6L314.1,379.7L314.9,379.7L315.6,379.6L316.1,379.5L316.6,379.4L317.4,379.1L317.9,379.0L318.4,378.8L319.0,378.6L319.6,378.4L319.9,378.4M251.7,378.9L252.4,378.6L253.1,378.8L253.6,379.1L254.0,379.4L254.4,379.8L254.6,380.3L254.9,380.9L255.0,381.4L255.1,382.1L255.2,382.6L255.2,383.4L255.2,384.1L255.3,384.9L255.3,385.6L255.3,386.4L255.3,387.1L255.2,387.9L255.1,388.6L255.0,389.1L254.9,389.9L254.8,390.4L254.6,391.1L254.5,391.6L254.3,392.1L254.1,392.6L253.9,393.1L253.4,393.6L252.9,393.9L252.1,393.7L251.6,393.5L251.3,393.1L250.9,392.6L250.6,392.1L250.4,391.6L250.3,391.1L250.1,390.6L250.0,389.9L249.9,389.4L249.7,388.6L249.6,388.0L249.5,387.4L249.4,386.6L249.4,385.9L249.5,385.1L249.6,384.4L249.7,383.9L249.9,383.1L250.0,382.6L250.1,382.1L250.3,381.4L250.5,380.9L250.7,380.4L250.9,379.9L251.2,379.4L251.6,378.9L251.7,378.9M320.3,379.1L320.9,379.0L321.6,379.0L322.4,379.0L322.9,379.2L323.5,379.4L323.9,379.6L324.4,379.9L324.9,380.3L325.2,380.6L325.6,381.0L325.9,381.4L326.3,381.9L326.6,382.3L326.9,382.7L327.1,383.3L327.4,383.9L327.6,384.4L327.7,384.9L327.9,385.4L328.1,386.1L328.1,386.6L328.2,387.4L328.1,388.1L328.0,388.6L327.9,389.1L327.6,389.7L327.4,390.2L327.1,390.6L326.8,391.1L326.5,391.6L326.2,392.1L325.9,392.5L325.6,392.9L325.3,393.4L324.9,393.8L324.6,394.1L324.1,394.6L323.8,394.9L323.4,395.1L322.8,395.4L322.1,395.5L321.4,395.6L320.6,395.6L319.9,395.4L319.4,395.2L318.9,394.9L318.5,394.6L318.1,394.3L317.7,393.9L317.4,393.5L317.0,393.1L316.6,392.7L316.4,392.4L315.9,391.9L315.6,391.5L315.3,391.1L314.9,390.6L314.6,390.3L314.2,389.9L313.7,389.6L313.1,389.6L312.6,389.7L312.1,390.0L311.6,390.2L311.1,390.4L310.5,390.6L309.9,390.7L309.1,390.7L308.6,390.6L307.9,390.4L307.4,390.3L306.8,390.1L306.1,389.9L305.6,389.8L305.1,389.6L304.6,389.4L304.1,389.0L303.6,388.6L303.4,388.4L303.0,387.9L302.6,387.4L302.4,386.9L302.3,386.4L302.3,385.6L302.5,385.1L302.9,384.6L303.1,384.4L303.6,383.9L303.9,383.5L304.2,383.1L304.5,382.6L304.8,382.1L305.1,381.6L305.4,381.2L305.6,380.9L306.1,380.5L306.6,380.2L307.1,380.1L307.9,380.0L308.6,379.9L309.4,379.9L310.1,380.0L310.9,380.0L311.6,380.1L312.1,380.2L312.6,380.4L313.3,380.6L313.9,380.8L314.6,380.8L315.4,380.6L315.9,380.5L316.4,380.3L316.9,380.1L317.6,379.9L318.1,379.7L318.6,379.6L319.3,379.4L319.9,379.2L320.3,379.1M293.3,381.6L293.9,381.6L294.4,381.7L294.9,381.9L295.4,382.1L295.9,382.5L296.2,382.9L296.6,383.3L296.9,383.7L297.1,384.4L297.1,384.8L296.9,385.4L296.6,385.8L296.4,386.1L295.9,386.5L295.4,386.8L294.9,386.9L294.1,387.0L293.4,387.0L292.9,386.8L292.3,386.6L291.9,386.3L291.6,385.9L291.4,385.1L291.5,384.4L291.6,383.6L291.8,383.1L292.0,382.6L292.3,382.1L292.7,381.9L293.3,381.6M251.9,379.6L252.6,379.4L253.3,379.6L253.7,379.9L254.1,380.4L254.4,380.9L254.5,381.4L254.6,381.9L254.7,382.6L254.8,383.4L254.8,384.1L254.9,384.9L254.9,385.4L254.9,386.1L254.9,386.8L254.8,387.4L254.7,388.1L254.6,388.7L254.5,389.4L254.4,390.1L254.3,390.6L254.1,391.1L253.9,391.8L253.6,392.3L253.4,392.7L252.9,393.0L252.1,393.0L251.6,392.7L251.3,392.4L251.0,391.9L250.8,391.4L250.6,390.9L250.4,390.1L250.3,389.6L250.2,388.9L250.1,388.4L249.9,387.6L249.9,387.1L249.8,386.4L249.8,385.6L249.9,384.9L249.9,384.4L250.1,383.6L250.3,383.1L250.4,382.6L250.6,381.9L250.8,381.4L251.0,380.9L251.3,380.4L251.6,379.9L251.9,379.6M321.5,379.6L321.9,379.6L322.6,379.7L323.1,379.9L323.6,380.1L324.1,380.5L324.6,380.9L324.9,381.2L325.3,381.6L325.6,382.0L325.9,382.4L326.2,382.9L326.5,383.4L326.7,383.9L326.9,384.4L327.1,385.1L327.3,385.6L327.4,386.1L327.5,386.9L327.5,387.6L327.4,388.4L327.3,388.9L327.1,389.4L326.9,389.9L326.6,390.4L326.3,390.9L326.0,391.4L325.6,391.8L325.4,392.1L325.0,392.6L324.6,393.0L324.3,393.4L323.9,393.8L323.5,394.1L323.1,394.4L322.6,394.6L321.9,394.8L321.1,394.9L320.4,394.8L319.9,394.6L319.4,394.4L318.9,394.0L318.4,393.6L318.1,393.3L317.7,392.9L317.4,392.5L317.1,392.1L316.7,391.6L316.4,391.1L316.1,390.7L315.9,390.2L315.6,389.7L315.4,389.1L315.2,388.6L314.9,388.2L314.6,387.9L314.1,387.5L313.6,387.6L313.1,387.9L312.6,388.3L312.2,388.6L311.9,388.9L311.4,389.2L310.9,389.5L310.4,389.7L309.6,389.9L308.9,389.8L308.2,389.6L307.6,389.4L307.1,389.3L306.6,389.1L306.1,388.9L305.6,388.6L305.1,388.3L304.7,387.9L304.4,387.5L304.1,387.1L303.9,386.4L304.0,385.6L304.2,385.1L304.5,384.6L304.8,384.1L305.1,383.6L305.4,383.2L305.6,382.7L305.9,382.2L306.1,381.8L306.5,381.4L306.9,381.1L307.4,380.9L308.1,380.7L308.9,380.6L309.6,380.6L310.4,380.7L311.1,380.8L311.6,381.0L312.1,381.2L312.6,381.6L313.0,381.9L313.5,382.1L314.1,382.2L314.6,382.0L315.1,381.8L315.6,381.5L316.1,381.2L316.6,381.0L317.1,380.8L317.6,380.6L318.3,380.4L318.9,380.2L319.4,380.1L320.0,379.9L320.6,379.7L321.4,379.6L321.5,379.6M293.4,383.6L293.6,383.5L294.1,383.5L294.6,383.6L294.9,383.8L295.1,384.0L295.3,384.4L295.4,384.6L295.4,384.9L295.1,385.4L294.9,385.6L294.6,385.7L294.1,385.9L293.6,385.8L293.1,385.6L292.9,385.4L292.8,385.1L292.7,384.6L292.9,384.1L293.1,383.9L293.4,383.6M252.3,380.4L252.9,380.3L253.4,380.6L253.7,380.9L253.9,381.4L254.1,381.9L254.2,382.6L254.3,383.4L254.4,384.1L254.4,384.6L254.4,385.4L254.4,386.1L254.4,386.9L254.3,387.4L254.2,388.1L254.1,388.6L254.0,389.4L253.9,389.9L253.7,390.6L253.5,391.1L253.2,391.6L252.9,392.0L252.4,392.2L251.9,392.0L251.5,391.6L251.3,391.1L251.1,390.6L250.9,390.0L250.7,389.4L250.6,388.9L250.4,388.1L250.3,387.6L250.2,386.9L250.2,386.1L250.2,385.4L250.3,384.6L250.4,384.1L250.6,383.5L250.8,382.9L251.0,382.4L251.2,381.9L251.4,381.4L251.7,380.9L252.1,380.5L252.3,380.4M320.3,380.4L320.9,380.3L321.6,380.2L322.4,380.3L322.9,380.4L323.4,380.7L323.9,381.0L324.3,381.4L324.6,381.7L325.0,382.1L325.3,382.6L325.6,383.0L325.9,383.5L326.1,384.0L326.4,384.6L326.6,385.1L326.7,385.6L326.9,386.4L326.9,386.9L326.9,387.6L326.9,388.3L326.7,388.9L326.6,389.4L326.3,389.9L326.0,390.4L325.7,390.9L325.4,391.2L325.0,391.6L324.6,392.1L324.3,392.4L323.9,392.9L323.6,393.1L323.1,393.5L322.6,393.8L322.1,394.0L321.6,394.1L320.9,394.1L320.4,394.0L319.9,393.8L319.4,393.5L318.9,393.1L318.6,392.9L318.2,392.4L317.9,392.0L317.6,391.6L317.2,391.1L316.9,390.6L316.7,390.1L316.5,389.6L316.4,389.1L316.2,388.4L316.0,387.9L315.8,387.4L315.6,386.9L315.4,386.3L315.2,385.6L315.1,385.1L315.1,384.4L315.1,383.9L315.4,383.1L315.6,382.7L315.9,382.4L316.4,382.0L316.9,381.6L317.4,381.4L317.9,381.2L318.4,381.0L318.9,380.8L319.5,380.6L320.1,380.4L320.3,380.4M308.5,381.6L309.1,381.5L309.9,381.5L310.4,381.6L310.9,381.9L311.4,382.3L311.6,382.7L311.8,383.4L311.8,384.1L311.8,384.9L311.9,385.4L312.0,386.1L311.9,386.9L311.7,387.4L311.4,387.9L311.1,388.2L310.6,388.5L310.1,388.7L309.4,388.9L308.6,388.7L308.1,388.6L307.6,388.3L307.1,388.0L306.6,387.7L306.3,387.4L306.0,386.9L305.8,386.4L305.8,385.6L306.0,385.1L306.2,384.6L306.4,384.1L306.6,383.6L306.9,383.1L307.1,382.6L307.5,382.1L307.9,381.9L308.5,381.6M320.5,380.9L321.1,380.8L321.9,380.7L322.5,380.9L323.1,381.1L323.4,381.4L323.9,381.8L324.2,382.1L324.6,382.6L324.9,383.0L325.1,383.4L325.4,383.9L325.7,384.4L325.9,384.9L326.1,385.5L326.3,386.1L326.4,386.7L326.4,387.4L326.4,388.1L326.3,388.6L326.1,389.2L325.9,389.7L325.6,390.1L325.2,390.6L324.9,391.0L324.5,391.4L324.1,391.8L323.7,392.1L323.4,392.5L322.9,392.8L322.4,393.1L321.9,393.3L321.4,393.4L320.8,393.4L320.1,393.1L319.7,392.9L319.3,392.6L318.9,392.2L318.6,391.9L318.2,391.4L317.9,390.9L317.6,390.5L317.4,389.9L317.2,389.4L317.0,388.9L316.9,388.3L316.6,387.6L316.5,387.1L316.3,386.6L316.1,386.1L316.0,385.4L315.9,384.6L316.0,383.9L316.2,383.4L316.5,382.9L316.9,382.5L317.3,382.1L317.7,381.9L318.3,381.6L318.9,381.4L319.4,381.2L319.9,381.0L320.5,380.9M252.3,381.6L252.9,381.5L253.2,381.9L253.5,382.4L253.6,383.0L253.7,383.6L253.8,384.4L253.9,385.0L253.9,385.6L253.9,386.4L253.8,386.9L253.7,387.6L253.6,388.1L253.4,388.9L253.3,389.4L253.1,390.0L252.9,390.6L252.5,390.9L252.1,390.9L251.7,390.4L251.5,389.9L251.3,389.4L251.1,388.9L250.9,388.1L250.8,387.6L250.7,386.9L250.6,386.4L250.6,385.6L250.7,385.1L250.9,384.4L251.1,383.9L251.3,383.4L251.5,382.9L251.8,382.4L252.1,381.9L252.3,381.6M309.0,384.6L309.4,384.6L309.6,384.7L309.9,385.0L310.1,385.4L310.2,385.6L310.3,386.1L310.3,386.6L310.1,386.9L309.9,387.2L309.4,387.4L308.9,387.3L308.6,387.1L308.3,386.9L308.1,386.5L308.0,386.1L308.1,385.6L308.2,385.4L308.4,385.1L308.6,384.9L309.0,384.6M320.6,381.4L321.1,381.3L321.9,381.3L322.4,381.4L322.9,381.7L323.4,382.1L323.7,382.4L324.1,382.9L324.4,383.3L324.6,383.6L324.9,384.1L325.2,384.6L325.4,385.1L325.6,385.7L325.8,386.4L325.9,386.9L326.0,387.6L325.9,388.4L325.7,388.9L325.5,389.4L325.2,389.9L324.9,390.3L324.6,390.6L324.1,391.1L323.8,391.4L323.4,391.7L322.9,392.0L322.4,392.3L321.9,392.5L321.4,392.6L320.9,392.6L320.3,392.4L319.8,392.1L319.4,391.7L319.0,391.4L318.6,390.9L318.4,390.5L318.1,390.1L317.9,389.5L317.6,388.9L317.5,388.4L317.3,387.9L317.1,387.2L316.9,386.6L316.8,386.1L316.6,385.4L316.6,384.9L316.6,384.3L316.8,383.6L317.1,383.1L317.4,382.9L317.9,382.5L318.4,382.2L318.9,381.9L319.4,381.7L319.9,381.6L320.6,381.4M252.1,384.1L252.4,384.0L252.7,384.1L252.9,384.4L253.0,384.9L253.1,385.3L253.2,385.6L253.2,386.1L253.1,386.6L253.1,386.9L253.0,387.4L252.9,387.6L252.7,388.1L252.5,388.4L252.1,388.5L251.9,388.3L251.6,387.9L251.5,387.6L251.4,387.2L251.3,386.9L251.3,386.4L251.3,385.9L251.3,385.4L251.4,385.1L251.6,384.7L251.8,384.4L252.1,384.1M320.7,381.9L321.4,381.8L321.9,381.9L322.5,382.1L322.9,382.4L323.3,382.9L323.6,383.2L323.9,383.6L324.3,384.1L324.6,384.6L324.8,385.1L325.1,385.6L325.2,386.1L325.4,386.7L325.5,387.4L325.4,388.1L325.3,388.6L325.1,389.1L324.8,389.6L324.4,390.1L324.1,390.4L323.6,390.8L323.2,391.1L322.8,391.4L322.3,391.6L321.6,391.8L320.9,391.8L320.4,391.6L319.9,391.3L319.4,390.9L319.1,390.5L318.8,390.1L318.5,389.6L318.3,389.1L318.1,388.6L317.9,387.9L317.7,387.4L317.5,386.9L317.4,386.3L317.2,385.6L317.2,384.9L317.3,384.1L317.5,383.6L317.9,383.2L318.3,382.9L318.7,382.6L319.2,382.4L319.8,382.1L320.4,381.9L320.7,381.9M320.0,382.6L320.6,382.5L321.4,382.4L322.0,382.6L322.4,382.9L322.9,383.3L323.1,383.6L323.5,384.1L323.9,384.6L324.1,385.0L324.4,385.4L324.6,386.0L324.8,386.6L324.9,387.1L325.0,387.9L324.9,388.4L324.6,389.0L324.4,389.4L324.0,389.9L323.6,390.2L323.1,390.5L322.6,390.8L322.1,391.0L321.4,391.1L320.6,390.9L320.1,390.6L319.8,390.4L319.4,389.9L319.1,389.6L318.9,389.1L318.6,388.6L318.4,387.9L318.2,387.4L318.1,386.9L317.9,386.1L317.8,385.6L317.8,384.9L317.9,384.4L318.1,383.9L318.6,383.4L318.9,383.1L319.4,382.9L320.0,382.6M319.8,383.4L320.4,383.2L321.1,383.1L321.8,383.4L322.1,383.6L322.6,384.1L322.9,384.4L323.2,384.9L323.6,385.4L323.9,385.8L324.1,386.3L324.3,386.9L324.4,387.4L324.4,388.1L324.2,388.6L323.9,389.1L323.6,389.4L323.1,389.8L322.6,390.1L322.1,390.3L321.6,390.4L321.1,390.3L320.5,390.1L320.1,389.9L319.6,389.4L319.4,389.0L319.1,388.5L318.9,387.9L318.7,387.4L318.6,386.9L318.4,386.1L318.4,385.4L318.5,384.6L318.8,384.1L319.1,383.8L319.6,383.5L319.8,383.4M320.5,384.1L320.9,384.1L321.5,384.4L321.9,384.7L322.4,385.1L322.6,385.4L323.1,385.9L323.4,386.3L323.6,386.8L323.8,387.4L323.7,388.1L323.5,388.6L323.1,389.0L322.6,389.4L322.1,389.6L321.6,389.7L321.1,389.6L320.5,389.4L320.1,389.0L319.8,388.6L319.6,388.1L319.4,387.6L319.2,386.9L319.1,386.3L319.1,385.6L319.2,385.1L319.5,384.6L319.9,384.3L320.5,384.1" fill="none" stroke="#000" stroke-width="0.74" stroke-linejoin="round"/></g>
<path d="M355.8,373.1h0.8M324.3,358.8h0.8M270.4,404.6h0.8M258.2,413.9h0.8M263.4,403.1h0.8M266.8,405.4h0.8M295.0,358.2h0.8M274.7,405.4h0.8M296.9,423.6h0.8M285.7,419.3h0.8M295.4,413.8h0.8M329.4,365.9h0.8M292.9,421.3h0.8M293.8,419.7h0.8M345.1,371.4h0.8M257.5,410.3h0.8M288.8,359.1h0.8M284.4,366.7h0.8M350.2,393.3h0.8M273.4,370.7h0.8M293.7,415.1h0.8M279.2,417.9h0.8M354.1,397.6h0.8M355.0,393.7h0.8M331.1,366.1h0.8M259.2,364.1h0.8M264.9,413.5h0.8M276.5,409.2h0.8M363.3,362.1h0.8M274.8,405.2h0.8M261.1,402.5h0.8M298.8,419.1h0.8M342.7,413.4h0.8M286.5,409.1h0.8M352.3,407.4h0.8M306.1,423.9h0.8M332.0,425.5h0.8M355.7,396.7h0.8M350.0,381.1h0.8M278.0,416.9h0.8M285.4,362.9h0.8M353.0,400.1h0.8M327.2,363.0h0.8M365.0,393.7h0.8M336.8,363.0h0.8M352.7,389.2h0.8M259.9,416.6h0.8M297.5,421.8h0.8M292.3,416.7h0.8M267.1,407.9h0.8M286.7,409.6h0.8M355.8,399.8h0.8M269.2,371.8h0.8M273.0,403.7h0.8M282.0,414.2h0.8M354.6,362.5h0.8M298.5,359.1h0.8M293.7,415.5h0.8M355.3,390.7h0.8M280.1,412.9h0.8M291.7,414.1h0.8M302.3,423.0h0.8M350.1,402.0h0.8M354.9,399.7h0.8M360.4,417.1h0.8M292.6,415.5h0.8M352.6,411.0h0.8M298.8,417.3h0.8M282.1,410.7h0.8M292.1,424.4h0.8M350.0,396.1h0.8M274.8,414.4h0.8M321.8,424.0h0.8M352.3,396.1h0.8M260.4,409.6h0.8M385.0,393.0h0.8M393.0,405.0h0.8M371.5,389.0h0.8M368.0,387.6h0.8M362.0,380.0h0.8M356.0,372.0h0.8M340.0,361.0h0.8M296.0,362.5h0.8M293.0,364.0h0.8" stroke="#222" stroke-width="0.80" fill="none"/>
<clipPath id="c3"><rect x="452" y="326" width="170.5" height="170.5"/></clipPath>
<g clip-path="url(#c3)"><path d="M436.1,395.2L436.5,394.9L436.8,394.4L437.0,393.9L437.1,393.3L437.4,392.6L437.6,392.1L437.7,391.6L437.9,391.1L438.1,390.6L438.4,389.9L438.5,389.4L438.8,388.9L438.9,388.4L439.2,387.9L439.4,387.3L439.6,386.7L439.9,386.1L440.1,385.7L440.6,385.4L441.1,385.3L441.9,385.3L442.6,385.2L443.4,385.1L443.9,385.1L444.6,385.1L445.4,385.1L446.1,385.0L446.9,385.0L447.6,385.1L448.1,385.2L448.9,385.3L449.6,385.3L450.4,385.3L450.9,385.4L451.6,385.4L452.4,385.5L452.9,385.7L453.6,385.9L454.1,386.1L454.6,386.2L455.2,386.4L455.6,386.6L456.1,387.0L456.6,387.4L457.0,387.6L457.4,388.0L457.9,388.4L458.1,388.6L458.6,389.1L459.1,389.4L459.5,389.6L459.9,389.9L460.4,390.3L460.9,390.5L461.6,390.5L462.4,390.5L463.1,390.5L463.7,390.4L464.4,390.1L464.9,389.9L465.4,389.7L465.9,389.4L466.4,389.2L466.9,389.0L467.4,388.7L467.9,388.5L468.4,388.3L468.9,388.1L469.5,387.9L470.0,387.6L470.6,387.4L471.1,387.2L471.6,387.0L472.1,386.8L472.7,386.6L473.4,386.4L473.9,386.1L474.4,386.0L474.9,385.8L475.4,385.6L476.0,385.4L476.6,385.2L477.1,385.0L477.6,384.8L478.2,384.6L478.9,384.5L479.4,384.3L479.9,384.1L480.6,383.9L481.1,383.7L481.6,383.6L482.1,383.4L482.9,383.1L483.4,383.0L483.9,382.8L484.4,382.6L485.1,382.4L485.6,382.2L486.1,382.0L486.6,381.9L487.4,381.6L487.9,381.5L488.4,381.3L488.9,381.1L489.6,380.9L490.1,380.7L490.6,380.6L491.4,380.4L491.9,380.3L492.6,380.1L493.1,380.0L493.6,379.8L494.4,379.6L494.9,379.5L495.4,379.4L496.1,379.2L496.6,379.1L497.4,378.9L497.9,378.8L498.5,378.6L499.1,378.5L499.7,378.4L500.4,378.2L500.9,378.1L501.6,377.9L502.1,377.9L502.7,377.6L503.2,377.4L503.7,377.1L504.2,376.9L504.7,376.6L505.1,376.4L505.6,376.1L506.1,375.8L506.6,375.6L507.1,375.3L507.6,374.9L507.9,374.6L508.3,374.1L508.6,373.8L509.0,373.4L509.4,372.9L509.6,372.6L510.1,372.1L510.4,371.9L510.9,371.4L511.1,371.1L511.6,370.7L512.1,370.4L512.4,370.1L512.9,369.6L513.1,369.4L513.6,368.9L513.9,368.6L514.4,368.3L514.9,367.9L515.1,367.6L515.6,367.2L516.0,366.9L516.4,366.6L516.9,366.2L517.3,365.9L517.7,365.6L518.2,365.4L518.6,365.1L519.1,364.8L519.6,364.6L520.1,364.3L520.6,364.0L521.1,363.8L521.7,363.6L522.3,363.4L522.9,363.2L523.4,363.0L524.1,362.9L524.9,362.9L525.6,363.1L526.1,363.2L526.9,363.2L527.6,363.4L528.1,363.6L528.6,363.9L529.1,364.1L529.6,364.3L530.1,364.5L530.6,364.7L531.1,365.0L531.6,365.3L532.1,365.6L532.4,365.9L532.9,366.4L533.1,366.6L533.6,367.1L534.1,367.4L534.4,367.6L534.9,368.1L535.1,368.4L535.6,368.9L535.9,369.2L536.2,369.6L536.6,370.1L536.9,370.6L537.1,370.9L537.6,371.4L537.9,371.8L538.1,372.1L538.5,372.6L538.9,373.1L539.1,373.5L539.4,373.9L539.6,374.4L539.9,374.9L540.1,375.4L540.4,375.9L540.6,376.4L540.9,376.9L541.2,377.4L541.4,377.9L541.7,378.4L541.9,378.9L542.1,379.4L542.4,380.1L542.6,380.6L542.8,381.1L542.9,381.6L543.1,382.1L543.4,382.8L543.6,383.4L543.8,383.9L543.9,384.4L544.1,385.1L544.2,385.6L544.4,386.1L544.5,386.9L544.7,387.4L544.8,388.1L545.0,388.6L545.1,389.3L545.3,389.9L545.3,390.6L545.3,391.4L545.3,392.1L545.4,392.7L545.5,393.4L545.6,394.1L545.6,394.9L545.6,395.6L545.6,396.4L545.5,397.1L545.4,397.8L545.4,398.4L545.4,399.1L545.2,399.9L545.1,400.5L545.1,401.1L545.0,401.9L544.9,402.4L544.7,403.1L544.6,403.6L544.5,404.4L544.4,404.9L544.2,405.6L544.1,406.1L543.9,406.9L543.8,407.4L543.6,408.0L543.5,408.6L543.3,409.1L543.1,409.9L543.0,410.4L542.9,410.9L542.8,411.6L542.6,412.1L542.4,412.9L542.3,413.4L542.1,414.0L542.0,414.6L541.8,415.1L541.6,415.8L541.4,416.4L541.2,416.9L541.0,417.4L540.7,417.9L540.5,418.4L540.2,418.9L540.0,419.4L539.7,419.9L539.4,420.4L539.1,420.8L538.8,421.1L538.4,421.6L538.1,422.0L537.8,422.4L537.4,422.8L537.0,423.1L536.6,423.4L536.1,423.7L535.6,424.0L535.1,424.3L534.6,424.6L534.2,424.9L533.8,425.1L533.4,425.4L532.6,425.6L532.1,425.8L531.6,425.9L530.9,426.1L530.4,426.2L529.7,426.4L529.1,426.5L528.6,426.6L527.9,426.9L527.4,427.0L526.7,427.1L526.1,427.2L525.6,427.4L524.9,427.6L524.4,427.7L523.6,427.9L523.1,428.0L522.4,428.1L521.9,428.2L521.3,428.4L520.6,428.6L519.9,428.6L519.4,428.6L518.9,428.6L518.1,428.6L517.4,428.6L516.7,428.4L516.1,428.2L515.6,428.0L515.1,427.8L514.6,427.6L514.0,427.4L513.4,427.2L512.9,427.0L512.4,426.8L511.8,426.6L511.1,426.4L510.6,426.2L510.1,426.0L509.6,425.8L509.0,425.6L508.4,425.5L507.9,425.4L507.1,425.1L506.6,425.0L506.0,424.9L505.4,424.7L504.9,424.6L504.3,424.4L503.6,424.2L503.1,424.1L502.4,424.0L501.9,423.9L501.1,423.7L500.5,423.6L499.9,423.5L499.1,423.4L498.6,423.3L497.9,423.2L497.4,423.1L496.6,422.9L496.1,422.9L495.4,422.7L494.8,422.6L494.1,422.5L493.5,422.4L492.9,422.3L492.1,422.2L491.6,422.1L490.9,422.0L490.2,421.9L489.6,421.7L489.1,421.6L488.4,421.4L487.9,421.3L487.1,421.1L486.6,421.0L486.0,420.9L485.4,420.7L484.9,420.6L484.1,420.4L483.6,420.2L483.1,420.0L482.6,419.8L482.1,419.6L481.6,419.4L481.0,419.1L480.4,418.9L479.9,418.7L479.4,418.4L478.9,418.3L478.4,418.0L477.9,417.7L477.4,417.4L477.0,417.1L476.6,416.9L476.1,416.6L475.6,416.2L475.1,415.9L474.7,415.6L474.3,415.4L473.9,415.1L473.4,414.8L472.9,414.4L472.5,414.1L472.1,413.7L471.7,413.4L471.4,413.0L471.0,412.6L470.6,412.3L470.2,411.9L469.9,411.6L469.4,411.1L469.1,410.9L468.4,410.7L467.6,410.7L466.9,410.6L466.4,410.6L465.7,410.6L465.1,410.9L464.9,411.2L464.5,411.6L464.1,412.1L463.9,412.4L463.4,412.9L463.1,413.2L462.7,413.6L462.4,413.9L461.9,414.3L461.4,414.6L461.0,414.9L460.6,415.1L460.1,415.5L459.7,415.9L459.4,416.3L459.1,416.7L458.7,417.1L458.4,417.5L458.1,417.9L457.7,418.4L457.4,418.7L457.1,419.1L456.6,419.6L456.4,419.9L456.0,420.4L455.6,420.8L455.3,421.1L454.9,421.5L454.4,421.9L454.1,422.1L453.6,422.5L453.1,422.8L452.7,423.1L452.3,423.4L451.6,423.5L450.9,423.6L450.4,423.6L449.6,423.8L449.1,423.9L448.4,423.9L447.6,424.0L447.1,424.1L446.4,424.1L445.6,424.1L445.1,424.1L444.4,424.1L443.6,424.1L442.9,424.0L442.1,424.0L441.4,423.9L440.9,423.8L440.3,423.6L440.0,423.1L439.7,422.6L439.6,422.1L439.4,421.6L439.1,421.1L438.9,420.4L438.6,419.9L438.5,419.4L438.3,418.9L438.1,418.4L437.9,417.7L437.7,417.1L437.5,416.6L437.3,416.1L437.1,415.5L436.9,414.9L436.7,414.4L436.4,414.0L436.1,413.8M522.9,368.9L523.6,368.8L524.4,368.8L524.9,368.9L525.6,369.1L526.1,369.2L526.7,369.4L527.4,369.6L527.9,369.8L528.4,370.0L528.9,370.2L529.4,370.6L529.8,370.9L530.1,371.2L530.5,371.6L530.9,372.0L531.1,372.4L531.5,372.9L531.9,373.3L532.1,373.6L532.6,374.1L532.9,374.4L533.3,374.9L533.6,375.2L534.1,375.6L534.4,375.9L534.8,376.4L535.1,376.8L535.4,377.1L535.7,377.6L536.1,378.1L536.4,378.5L536.7,378.9L537.1,379.4L537.4,379.6L537.9,380.1L538.1,380.4L538.6,380.8L538.9,381.1L539.4,381.6L539.6,381.9L540.0,382.4L540.4,382.9L540.6,383.3L540.9,383.6L541.2,384.1L541.5,384.6L541.7,385.1L542.0,385.6L542.2,386.1L542.4,386.6L542.6,387.1L542.9,387.7L543.1,388.4L543.3,388.9L543.5,389.4L543.7,389.9L543.9,390.5L544.0,391.1L544.1,391.9L544.1,392.4L544.3,393.1L544.4,393.6L544.5,394.4L544.6,395.1L544.6,395.9L544.6,396.6L544.5,397.4L544.4,398.1L544.4,398.9L544.4,399.4L544.3,400.1L544.2,400.9L544.1,401.6L544.0,402.1L543.9,402.9L543.8,403.4L543.6,404.1L543.5,404.6L543.4,405.3L543.2,405.9L543.1,406.4L542.9,407.1L542.8,407.6L542.6,408.2L542.5,408.9L542.3,409.4L542.1,410.0L541.9,410.6L541.8,411.1L541.6,411.8L541.5,412.4L541.3,412.9L541.1,413.5L540.9,414.1L540.7,414.6L540.6,415.1L540.4,415.6L540.1,416.1L539.9,416.6L539.6,417.1L539.4,417.6L539.1,418.1L538.9,418.7L538.6,419.2L538.4,419.7L538.0,420.1L537.6,420.6L537.4,420.9L537.0,421.4L536.6,421.8L536.2,422.1L535.9,422.4L535.4,422.7L534.9,423.1L534.4,423.4L534.0,423.6L533.6,423.9L533.1,424.2L532.6,424.5L532.1,424.6L531.4,424.9L530.9,425.1L530.4,425.2L529.9,425.4L529.1,425.6L528.6,425.7L528.1,425.9L527.4,426.1L526.9,426.2L526.1,426.4L525.6,426.5L525.1,426.6L524.4,426.8L523.9,426.9L523.1,427.1L522.6,427.2L521.9,427.4L521.4,427.5L520.8,427.6L520.1,427.8L519.4,427.8L518.6,427.8L517.9,427.7L517.4,427.6L516.6,427.4L516.1,427.2L515.6,427.0L515.1,426.8L514.6,426.6L514.1,426.4L513.5,426.1L512.9,425.9L512.4,425.7L511.9,425.4L511.4,425.2L510.9,424.9L510.4,424.6L510.0,424.4L509.5,424.1L509.1,423.9L508.6,423.6L508.1,423.4L507.6,423.1L507.1,422.9L506.6,422.6L506.1,422.3L505.6,422.0L505.1,421.7L504.6,421.4L504.3,421.1L503.9,420.9L503.4,420.6L502.9,420.3L502.4,420.1L501.9,419.9L501.3,419.6L500.6,419.4L500.1,419.2L499.6,419.1L499.0,418.9L498.4,418.7L497.9,418.6L497.2,418.4L496.6,418.2L496.1,418.1L495.4,417.9L494.9,417.8L494.2,417.6L493.6,417.5L493.1,417.4L492.4,417.2L491.9,417.1L491.1,416.9L490.6,416.8L489.9,416.7L489.4,416.6L488.7,416.4L488.1,416.2L487.6,416.0L487.1,415.8L486.6,415.5L486.1,415.2L485.6,415.0L485.1,414.8L484.6,414.6L483.9,414.4L483.4,414.2L482.9,414.1L482.1,413.9L481.6,413.7L481.1,413.5L480.6,413.2L480.1,412.9L479.6,412.6L479.2,412.4L478.8,412.1L478.4,411.8L477.9,411.5L477.4,411.3L476.9,411.0L476.4,410.7L475.9,410.4L475.6,410.1L475.1,409.7L474.8,409.4L474.4,409.0L474.0,408.6L473.6,408.3L473.3,407.9L472.9,407.5L472.6,407.1L472.1,406.6L471.9,406.3L471.5,405.9L471.1,405.5L470.8,405.1L470.4,404.6L470.1,404.3L469.8,403.9L469.4,403.4L469.2,402.9L469.0,402.4L468.9,401.6L468.9,401.0L468.8,400.4L468.7,399.6L468.7,398.9L468.8,398.1L469.0,397.6L469.2,397.1L469.4,396.6L469.7,396.1L470.0,395.6L470.3,395.1L470.6,394.6L470.9,394.1L471.1,393.7L471.4,393.4L471.7,392.9L472.1,392.4L472.4,392.1L472.8,391.6L473.1,391.3L473.6,390.9L473.9,390.6L474.4,390.3L474.9,389.9L475.4,389.6L475.9,389.4L476.4,389.2L476.9,389.0L477.4,388.8L477.9,388.6L478.5,388.4L479.0,388.1L479.5,387.9L480.0,387.6L480.5,387.4L481.1,387.1L481.6,386.9L482.1,386.7L482.6,386.5L483.1,386.3L483.6,386.1L484.1,385.9L484.7,385.6L485.4,385.4L485.9,385.2L486.4,385.0L486.9,384.8L487.4,384.6L488.1,384.4L488.6,384.2L489.1,384.0L489.6,383.8L490.3,383.6L490.9,383.4L491.4,383.3L492.1,383.1L492.6,383.0L493.4,382.9L493.9,382.8L494.4,382.6L495.1,382.4L495.6,382.3L496.2,382.1L496.9,381.9L497.4,381.7L497.9,381.6L498.6,381.4L499.1,381.3L499.9,381.2L500.4,381.1L501.1,381.0L501.9,380.9L502.4,380.8L503.1,380.7L503.6,380.5L504.1,380.3L504.6,380.1L505.1,379.8L505.6,379.6L506.1,379.3L506.6,379.1L507.1,378.8L507.6,378.6L508.1,378.4L508.6,378.1L509.1,377.8L509.6,377.4L510.0,377.1L510.4,376.9L510.9,376.5L511.3,376.1L511.6,375.8L512.1,375.4L512.4,375.1L512.9,374.7L513.3,374.4L513.6,374.1L514.1,373.7L514.5,373.4L514.9,373.0L515.2,372.6L515.6,372.3L516.0,371.9L516.4,371.6L516.9,371.2L517.4,370.9L517.9,370.7L518.4,370.5L518.9,370.3L519.5,370.1L520.1,370.0L520.6,369.8L521.1,369.6L521.6,369.3L522.1,369.1L522.9,368.9M445.0,386.9L445.6,386.7L446.4,386.7L447.1,386.7L447.9,386.8L448.4,386.9L449.1,387.0L449.6,387.1L450.3,387.4L450.9,387.6L451.3,387.9L451.7,388.1L452.1,388.5L452.5,388.9L452.9,389.4L453.1,389.7L453.4,390.1L453.7,390.6L454.0,391.1L454.2,391.6L454.4,392.1L454.6,392.6L454.9,393.3L455.1,393.9L455.2,394.4L455.4,395.0L455.6,395.6L455.7,396.1L455.9,396.7L456.0,397.4L456.2,397.9L456.3,398.6L456.4,399.4L456.4,399.9L456.4,400.6L456.5,401.4L456.5,402.1L456.5,402.9L456.5,403.6L456.5,404.4L456.5,405.1L456.4,405.9L456.3,406.4L456.3,407.1L456.2,407.9L456.1,408.6L456.1,409.1L455.9,409.9L455.8,410.4L455.7,411.1L455.6,411.6L455.4,412.4L455.3,412.9L455.2,413.6L455.0,414.1L454.9,414.6L454.6,415.2L454.4,415.8L454.1,416.2L453.9,416.7L453.6,417.1L453.3,417.6L453.0,418.1L452.8,418.6L452.5,419.1L452.2,419.6L451.9,420.0L451.6,420.4L451.1,420.8L450.6,421.1L450.1,421.3L449.6,421.5L449.1,421.7L448.4,421.8L447.6,421.8L447.1,421.9L446.4,422.0L445.6,421.9L445.1,421.8L444.4,421.7L443.9,421.5L443.4,421.2L442.9,420.9L442.6,420.6L442.3,420.1L442.0,419.6L441.8,419.1L441.6,418.6L441.3,418.1L441.1,417.6L440.9,417.0L440.6,416.4L440.5,415.9L440.3,415.4L440.1,414.8L439.9,414.1L439.7,413.6L439.6,413.1L439.4,412.5L439.2,411.9L439.0,411.4L438.8,410.9L438.6,410.3L438.4,409.6L438.3,409.1L438.1,408.4L438.1,407.9L438.0,407.1L437.9,406.4L437.9,405.6L437.9,404.9L437.9,404.1L437.9,403.4L438.0,402.6L438.0,401.9L438.1,401.2L438.2,400.6L438.3,399.9L438.4,399.4L438.6,398.6L438.7,398.1L438.9,397.4L439.0,396.9L439.1,396.3L439.3,395.6L439.4,395.1L439.6,394.4L439.8,393.9L439.9,393.4L440.1,392.8L440.4,392.1L440.5,391.6L440.7,391.1L440.9,390.6L441.1,390.1L441.4,389.6L441.6,389.1L441.9,388.6L442.4,388.1L442.7,387.9L443.1,387.6L443.6,387.4L444.2,387.1L444.9,386.9L445.0,386.9M523.5,373.6L524.1,373.6L524.9,373.5L525.5,373.6L526.1,373.8L526.6,374.0L527.1,374.3L527.5,374.6L527.9,375.0L528.2,375.4L528.6,375.8L528.9,376.1L529.4,376.6L529.8,376.9L530.2,377.1L530.7,377.4L531.1,377.6L531.6,377.9L532.1,378.2L532.6,378.6L532.9,378.9L533.3,379.4L533.6,379.8L534.0,380.1L534.4,380.6L534.7,380.9L535.1,381.2L535.6,381.6L535.9,381.9L536.4,382.3L536.7,382.6L537.1,383.0L537.6,383.4L537.9,383.6L538.4,384.0L538.7,384.4L539.1,384.8L539.4,385.1L539.8,385.6L540.1,386.1L540.4,386.6L540.6,387.0L540.9,387.5L541.1,388.0L541.4,388.5L541.6,389.0L541.9,389.6L542.1,390.1L542.3,390.6L542.5,391.1L542.6,391.7L542.8,392.4L542.9,392.9L543.1,393.5L543.3,394.1L543.4,394.6L543.5,395.4L543.6,396.1L543.5,396.9L543.5,397.6L543.5,398.4L543.4,399.1L543.4,399.6L543.4,400.4L543.3,401.1L543.2,401.9L543.1,402.4L543.0,403.1L542.9,403.7L542.7,404.4L542.6,404.9L542.4,405.6L542.3,406.1L542.1,406.8L542.0,407.4L541.8,407.9L541.6,408.6L541.5,409.1L541.3,409.6L541.1,410.2L540.9,410.9L540.8,411.4L540.6,411.9L540.4,412.6L540.2,413.1L540.0,413.6L539.8,414.1L539.6,414.6L539.3,415.1L539.0,415.6L538.7,416.1L538.5,416.6L538.2,417.1L538.0,417.6L537.8,418.1L537.5,418.6L537.3,419.1L536.9,419.6L536.6,419.9L536.2,420.4L535.9,420.8L535.5,421.1L535.1,421.4L534.6,421.8L534.1,422.1L533.8,422.4L533.4,422.6L532.9,423.0L532.4,423.3L531.9,423.5L531.4,423.8L530.9,424.0L530.4,424.2L529.9,424.4L529.2,424.6L528.6,424.8L528.1,425.0L527.6,425.1L526.9,425.4L526.4,425.5L525.9,425.6L525.1,425.8L524.6,426.0L523.9,426.1L523.4,426.3L522.9,426.4L522.1,426.6L521.6,426.6L520.9,426.8L520.4,426.9L519.6,427.0L518.9,427.0L518.1,426.9L517.6,426.8L517.0,426.6L516.4,426.4L515.9,426.2L515.4,425.9L514.9,425.7L514.4,425.5L513.9,425.2L513.4,425.0L512.9,424.7L512.4,424.4L512.0,424.1L511.6,423.8L511.1,423.4L510.9,423.1L510.4,422.6L510.1,422.3L509.7,421.9L509.4,421.6L508.9,421.2L508.4,420.9L508.0,420.6L507.6,420.3L507.1,420.0L506.6,419.6L506.3,419.4L505.9,419.1L505.4,418.7L504.9,418.4L504.5,418.1L504.0,417.9L503.6,417.6L503.0,417.4L502.5,417.1L501.9,416.9L501.4,416.6L500.9,416.4L500.4,416.2L499.9,416.1L499.3,415.9L498.6,415.7L498.1,415.5L497.6,415.4L496.9,415.2L496.4,415.1L495.7,414.9L495.1,414.7L494.6,414.5L494.1,414.3L493.5,414.1L492.9,413.9L492.4,413.7L491.9,413.6L491.1,413.4L490.6,413.4L489.9,413.2L489.4,413.1L488.7,412.9L488.1,412.6L487.6,412.4L487.1,412.1L486.6,411.9L486.1,411.8L485.6,411.6L485.0,411.4L484.4,411.2L483.9,411.0L483.4,410.7L482.9,410.5L482.4,410.2L481.9,409.9L481.5,409.6L481.1,409.3L480.6,408.9L480.3,408.6L479.9,408.2L479.5,407.9L479.1,407.5L478.8,407.1L478.4,406.7L478.1,406.4L477.6,405.9L477.4,405.6L476.9,405.1L476.6,404.7L476.4,404.4L476.1,403.9L475.9,403.2L475.8,402.6L475.7,401.9L475.7,401.1L475.6,400.6L475.4,399.9L475.3,399.4L475.1,398.6L475.1,398.1L475.1,397.4L475.3,396.9L475.4,396.4L475.7,395.9L475.9,395.4L476.3,394.9L476.6,394.4L476.9,394.1L477.4,393.8L477.9,393.5L478.4,393.3L478.9,393.0L479.4,392.8L479.9,392.4L480.2,392.1L480.6,391.7L480.9,391.4L481.4,390.9L481.6,390.6L482.1,390.1L482.5,389.9L482.9,389.6L483.4,389.3L483.9,389.0L484.4,388.8L484.9,388.5L485.4,388.3L485.9,388.0L486.4,387.8L486.9,387.6L487.5,387.4L488.1,387.1L488.6,387.0L489.1,386.8L489.6,386.6L490.1,386.4L490.7,386.1L491.2,385.9L491.9,385.6L492.4,385.5L492.9,385.3L493.6,385.2L494.1,385.1L494.9,384.9L495.4,384.8L495.9,384.6L496.6,384.4L497.1,384.3L497.8,384.1L498.4,384.0L499.1,383.9L499.6,383.8L500.4,383.7L501.1,383.6L501.6,383.6L502.4,383.5L503.1,383.4L503.6,383.3L504.2,383.1L504.7,382.9L505.1,382.6L505.6,382.3L506.1,382.0L506.6,381.7L507.1,381.5L507.6,381.3L508.1,381.1L508.6,380.9L509.2,380.6L509.8,380.4L510.3,380.1L510.8,379.9L511.2,379.6L511.6,379.3L512.1,379.0L512.6,378.6L512.9,378.4L513.4,378.0L513.9,377.7L514.3,377.4L514.8,377.1L515.3,376.9L515.9,376.6L516.4,376.4L516.9,376.2L517.4,376.0L517.9,375.7L518.4,375.4L518.9,375.1L519.4,374.9L519.9,374.6L520.4,374.4L520.9,374.2L521.4,374.1L522.1,373.9L522.6,373.8L523.4,373.6L523.5,373.6M445.5,388.4L446.1,388.2L446.9,388.2L447.6,388.2L448.4,388.3L448.9,388.5L449.4,388.6L449.9,388.9L450.4,389.2L450.9,389.6L451.2,389.9L451.6,390.4L451.9,390.7L452.1,391.1L452.4,391.6L452.7,392.1L453.0,392.6L453.2,393.1L453.4,393.7L453.6,394.4L453.7,394.9L453.9,395.6L454.0,396.1L454.1,396.8L454.3,397.4L454.4,397.9L454.6,398.6L454.7,399.1L454.8,399.9L454.9,400.6L454.9,401.1L455.0,401.9L455.0,402.6L455.1,403.4L455.1,404.1L455.0,404.9L455.0,405.6L454.9,406.4L454.8,406.9L454.8,407.6L454.7,408.4L454.6,409.1L454.6,409.6L454.4,410.4L454.3,410.9L454.2,411.6L454.1,412.1L453.9,412.9L453.7,413.4L453.6,413.9L453.4,414.4L453.1,415.0L452.9,415.5L452.6,415.9L452.3,416.4L452.0,416.9L451.7,417.4L451.4,417.8L451.1,418.1L450.7,418.6L450.4,418.9L449.9,419.3L449.4,419.5L448.9,419.8L448.4,419.9L447.6,420.0L446.9,420.1L446.4,420.1L445.9,420.1L445.1,419.9L444.6,419.7L444.1,419.4L443.7,419.1L443.4,418.7L443.1,418.4L442.8,417.9L442.6,417.4L442.3,416.9L442.1,416.4L441.9,415.7L441.7,415.1L441.5,414.6L441.3,414.1L441.1,413.6L440.9,413.0L440.6,412.4L440.4,411.9L440.2,411.4L440.1,410.9L439.9,410.3L439.7,409.6L439.5,409.1L439.4,408.4L439.3,407.9L439.2,407.1L439.2,406.4L439.2,405.6L439.2,404.9L439.2,404.1L439.2,403.4L439.2,402.6L439.3,401.9L439.4,401.4L439.5,400.6L439.6,399.9L439.7,399.4L439.9,398.6L439.9,398.1L440.1,397.4L440.2,396.9L440.4,396.3L440.6,395.6L440.7,395.1L440.9,394.6L441.1,393.9L441.3,393.4L441.5,392.9L441.7,392.4L441.9,391.8L442.1,391.2L442.4,390.7L442.6,390.3L442.9,389.9L443.4,389.4L443.8,389.1L444.3,388.9L444.8,388.6L445.4,388.4L445.5,388.4M522.9,377.4L523.4,377.3L524.1,377.2L524.9,377.3L525.4,377.5L525.9,377.7L526.4,378.0L526.9,378.3L527.4,378.6L527.8,378.9L528.3,379.1L528.9,379.4L529.4,379.6L529.9,379.9L530.3,380.1L530.7,380.4L531.1,380.7L531.6,381.1L531.9,381.4L532.4,381.8L532.7,382.1L533.1,382.5L533.5,382.9L533.9,383.3L534.3,383.6L534.6,384.0L535.1,384.4L535.4,384.6L535.9,384.9L536.4,385.2L536.9,385.5L537.4,385.8L537.8,386.1L538.1,386.4L538.6,386.9L538.9,387.2L539.2,387.6L539.5,388.1L539.7,388.6L540.0,389.1L540.2,389.6L540.5,390.1L540.7,390.6L540.9,391.1L541.1,391.7L541.4,392.4L541.5,392.9L541.7,393.4L541.9,393.9L542.1,394.4L542.3,395.1L542.4,395.6L542.5,396.4L542.5,397.1L542.5,397.9L542.5,398.6L542.4,399.4L542.4,400.1L542.4,400.8L542.3,401.4L542.2,402.1L542.1,402.7L542.0,403.4L541.9,404.1L541.8,404.6L541.6,405.3L541.5,405.9L541.4,406.4L541.2,407.1L541.0,407.6L540.8,408.1L540.6,408.8L540.4,409.4L540.3,409.9L540.1,410.4L539.9,411.1L539.7,411.6L539.5,412.1L539.3,412.6L539.1,413.1L538.9,413.6L538.6,414.1L538.3,414.6L538.0,415.1L537.7,415.6L537.4,416.1L537.1,416.6L536.9,417.1L536.6,417.6L536.4,418.1L536.1,418.5L535.8,418.9L535.4,419.4L535.1,419.7L534.7,420.1L534.3,420.4L533.9,420.7L533.4,421.1L533.0,421.4L532.6,421.6L532.1,422.0L531.6,422.3L531.1,422.6L530.6,422.9L530.2,423.1L529.7,423.4L529.1,423.6L528.6,423.8L528.1,424.0L527.6,424.2L527.1,424.4L526.4,424.6L525.9,424.8L525.4,424.9L524.7,425.1L524.1,425.3L523.6,425.4L522.9,425.6L522.4,425.7L521.6,425.9L521.1,426.0L520.4,426.1L519.9,426.2L519.1,426.2L518.4,426.1L517.9,426.0L517.4,425.9L516.8,425.6L516.3,425.4L515.8,425.1L515.4,424.9L514.9,424.6L514.4,424.3L513.9,423.9L513.5,423.6L513.1,423.3L512.8,422.9L512.4,422.4L512.1,421.9L511.9,421.5L511.6,421.1L511.2,420.6L510.9,420.4L510.4,419.9L510.0,419.6L509.6,419.4L509.1,419.0L508.6,418.7L508.2,418.4L507.9,418.1L507.4,417.7L506.9,417.4L506.6,417.1L506.1,416.8L505.6,416.5L505.1,416.2L504.6,416.0L504.1,415.8L503.6,415.6L503.1,415.4L502.6,415.1L502.1,414.9L501.6,414.6L501.1,414.4L500.5,414.1L499.9,413.9L499.4,413.7L498.9,413.5L498.3,413.4L497.6,413.2L497.1,413.1L496.4,412.9L495.9,412.8L495.4,412.6L494.9,412.4L494.4,412.1L493.9,411.8L493.4,411.4L492.9,411.1L492.4,410.9L491.9,410.7L491.4,410.6L490.6,410.4L490.1,410.3L489.6,410.1L488.9,409.9L488.4,409.7L487.9,409.4L487.4,409.2L486.9,409.0L486.4,408.8L485.9,408.5L485.4,408.2L484.9,407.9L484.6,407.6L484.1,407.2L483.7,406.9L483.4,406.6L482.9,406.2L482.4,405.9L482.1,405.6L481.6,405.1L481.4,404.9L481.0,404.4L480.7,403.9L480.4,403.4L480.1,402.9L479.9,402.4L479.6,401.9L479.4,401.4L479.3,400.9L479.1,400.1L479.2,399.4L479.4,398.7L479.6,398.1L479.9,397.7L480.1,397.3L480.4,396.9L480.8,396.4L481.1,396.0L481.5,395.6L481.9,395.3L482.4,394.9L482.8,394.6L483.1,394.4L483.6,394.0L484.0,393.6L484.4,393.2L484.7,392.9L485.1,392.4L485.4,392.0L485.7,391.6L486.1,391.1L486.4,390.9L486.9,390.5L487.4,390.2L487.9,390.0L488.4,389.8L489.0,389.6L489.6,389.4L490.1,389.3L490.6,389.1L491.1,388.8L491.6,388.6L492.1,388.3L492.6,388.0L493.1,387.8L493.6,387.6L494.3,387.4L494.9,387.2L495.4,387.0L495.9,386.9L496.6,386.7L497.1,386.6L497.9,386.4L498.4,386.3L499.0,386.1L499.6,386.0L500.1,385.8L500.8,385.6L501.4,385.5L501.9,385.4L502.6,385.2L503.1,385.1L503.9,384.9L504.4,384.8L504.9,384.6L505.4,384.3L505.9,384.1L506.4,383.8L506.9,383.5L507.4,383.3L507.9,383.0L508.4,382.8L508.9,382.6L509.4,382.4L509.9,382.1L510.5,381.9L511.0,381.6L511.6,381.4L512.1,381.1L512.5,380.9L513.0,380.6L513.4,380.4L513.9,380.1L514.4,379.9L515.1,379.6L515.6,379.5L516.2,379.4L516.9,379.2L517.4,379.1L518.1,378.9L518.6,378.8L519.4,378.7L519.9,378.5L520.4,378.4L521.0,378.1L521.5,377.9L522.1,377.6L522.6,377.4L522.9,377.4M445.8,389.6L446.4,389.5L447.1,389.5L447.9,389.5L448.4,389.6L449.0,389.9L449.5,390.1L449.9,390.4L450.4,390.8L450.7,391.1L451.1,391.6L451.4,392.0L451.6,392.4L451.9,392.9L452.1,393.4L452.4,394.0L452.5,394.6L452.7,395.1L452.8,395.9L452.9,396.4L453.1,397.1L453.2,397.6L453.4,398.2L453.5,398.9L453.7,399.4L453.8,400.1L453.9,400.6L454.0,401.4L454.0,402.1L454.1,402.9L454.1,403.4L454.1,404.1L454.1,404.7L454.1,405.4L454.0,406.1L453.9,406.9L453.8,407.4L453.8,408.1L453.7,408.9L453.6,409.4L453.5,410.1L453.4,410.7L453.2,411.4L453.1,411.9L452.9,412.6L452.7,413.1L452.6,413.6L452.4,414.1L452.1,414.6L451.9,415.1L451.5,415.6L451.2,416.1L450.9,416.5L450.6,416.9L450.1,417.3L449.7,417.6L449.3,417.9L448.9,418.1L448.4,418.4L447.6,418.6L447.1,418.7L446.4,418.7L445.6,418.6L445.1,418.5L444.6,418.2L444.3,417.9L443.9,417.4L443.6,417.0L443.4,416.5L443.1,416.0L442.9,415.4L442.7,414.9L442.5,414.4L442.3,413.9L442.1,413.4L441.8,412.9L441.6,412.4L441.4,411.9L441.1,411.3L440.9,410.7L440.7,410.1L440.5,409.6L440.4,409.0L440.3,408.4L440.2,407.6L440.1,407.1L440.1,406.4L440.0,405.6L440.0,404.9L440.0,404.1L440.1,403.4L440.1,402.6L440.2,402.1L440.3,401.4L440.4,400.7L440.5,400.1L440.6,399.4L440.7,398.9L440.8,398.1L440.9,397.6L441.1,396.9L441.2,396.4L441.4,395.9L441.6,395.3L441.9,394.6L442.1,394.1L442.3,393.6L442.5,393.1L442.7,392.6L442.9,392.1L443.2,391.6L443.5,391.1L443.9,390.7L444.3,390.4L444.7,390.1L445.2,389.9L445.8,389.6M523.4,380.6L523.9,380.6L524.6,380.7L525.2,380.9L525.9,381.0L526.4,381.1L527.1,381.3L527.6,381.4L528.2,381.6L528.9,381.9L529.4,382.1L529.8,382.4L530.2,382.6L530.6,382.9L531.1,383.2L531.6,383.6L531.9,383.9L532.4,384.3L532.7,384.6L533.1,385.0L533.5,385.4L533.9,385.7L534.4,386.1L534.8,386.4L535.1,386.6L535.6,387.0L536.1,387.3L536.6,387.6L536.9,387.9L537.4,388.3L537.7,388.6L538.1,389.1L538.4,389.6L538.6,390.0L538.9,390.4L539.1,390.9L539.4,391.4L539.6,391.9L539.9,392.4L540.1,392.9L540.4,393.4L540.6,393.9L540.9,394.4L541.1,395.0L541.3,395.6L541.4,396.1L541.4,396.9L541.5,397.6L541.5,398.4L541.5,399.1L541.4,399.9L541.4,400.6L541.3,401.1L541.3,401.9L541.2,402.6L541.1,403.1L541.0,403.9L540.9,404.6L540.8,405.1L540.6,405.9L540.5,406.4L540.4,406.9L540.1,407.6L539.9,408.1L539.7,408.6L539.6,409.1L539.4,409.6L539.1,410.4L539.0,410.9L538.8,411.4L538.6,411.9L538.4,412.4L538.1,412.9L537.8,413.4L537.6,413.9L537.3,414.4L537.0,414.9L536.6,415.4L536.4,415.7L536.1,416.1L535.8,416.6L535.5,417.1L535.1,417.6L534.9,417.9L534.5,418.4L534.1,418.8L533.8,419.1L533.4,419.5L532.9,419.9L532.6,420.1L532.1,420.5L531.6,420.8L531.2,421.1L530.8,421.4L530.4,421.6L529.9,422.0L529.4,422.2L528.9,422.5L528.4,422.7L527.9,423.0L527.4,423.2L526.9,423.4L526.3,423.6L525.6,423.9L525.1,424.1L524.6,424.2L524.1,424.4L523.4,424.6L522.9,424.7L522.2,424.9L521.6,425.0L521.0,425.1L520.4,425.2L519.6,425.3L518.9,425.3L518.1,425.1L517.6,425.0L517.1,424.7L516.6,424.4L516.2,424.1L515.8,423.9L515.4,423.5L514.9,423.1L514.6,422.8L514.3,422.4L514.0,421.9L513.7,421.4L513.4,420.9L513.1,420.4L512.9,420.0L512.5,419.6L512.1,419.2L511.7,418.9L511.3,418.6L510.9,418.4L510.4,418.1L509.9,417.7L509.4,417.4L509.1,417.1L508.6,416.8L508.2,416.4L507.9,416.1L507.4,415.7L506.9,415.4L506.4,415.1L505.9,414.9L505.4,414.7L504.9,414.5L504.4,414.3L503.9,414.1L503.4,413.9L502.9,413.6L502.4,413.3L501.9,413.1L501.4,412.8L500.9,412.5L500.4,412.3L499.9,412.1L499.2,411.9L498.6,411.7L497.9,411.6L497.4,411.6L496.6,411.4L496.1,411.3L495.6,411.0L495.1,410.7L494.6,410.4L494.3,410.1L493.9,409.8L493.4,409.5L492.9,409.2L492.4,408.9L491.9,408.7L491.4,408.5L490.9,408.4L490.2,408.1L489.6,407.9L489.1,407.7L488.6,407.4L488.1,407.1L487.8,406.9L487.4,406.6L486.9,406.1L486.6,405.9L486.1,405.4L485.9,405.1L485.5,404.6L485.1,404.2L484.9,403.8L484.6,403.4L484.3,402.9L484.1,402.4L484.0,401.6L484.0,400.9L484.0,400.1L484.1,399.4L484.2,398.9L484.4,398.2L484.6,397.6L484.8,397.1L485.0,396.6L485.4,396.1L485.6,395.7L485.9,395.4L486.3,394.9L486.6,394.5L487.0,394.1L487.4,393.6L487.6,393.4L488.0,392.9L488.4,392.5L488.8,392.1L489.1,391.9L489.6,391.5L490.1,391.3L490.6,391.1L491.1,390.8L491.6,390.6L492.1,390.4L492.6,390.1L493.1,389.9L493.7,389.6L494.3,389.4L494.8,389.1L495.4,388.9L495.9,388.7L496.4,388.6L497.0,388.4L497.6,388.2L498.1,388.1L498.9,387.9L499.4,387.8L499.9,387.6L500.4,387.4L501.0,387.1L501.6,386.9L502.1,386.8L502.6,386.6L503.4,386.4L503.9,386.3L504.5,386.1L505.1,385.9L505.6,385.7L506.1,385.5L506.6,385.3L507.1,385.1L507.6,384.9L508.1,384.6L508.7,384.4L509.2,384.1L509.7,383.9L510.2,383.6L510.7,383.4L511.3,383.1L511.9,382.9L512.4,382.7L512.9,382.5L513.4,382.3L513.9,382.1L514.5,381.9L515.1,381.7L515.6,381.6L516.4,381.4L516.9,381.2L517.4,381.1L518.1,380.9L518.6,380.8L519.4,380.8L520.1,380.8L520.9,380.8L521.6,380.8L522.4,380.7L523.1,380.6L523.4,380.6M445.7,390.9L446.4,390.7L447.1,390.6L447.9,390.7L448.4,390.9L449.0,391.1L449.4,391.4L449.9,391.8L450.2,392.1L450.6,392.6L450.9,393.0L451.1,393.4L451.4,393.9L451.6,394.5L451.8,395.1L451.9,395.6L452.1,396.4L452.2,396.9L452.4,397.6L452.5,398.1L452.6,398.6L452.8,399.4L453.0,399.9L453.1,400.6L453.2,401.1L453.3,401.9L453.4,402.6L453.4,403.1L453.4,403.9L453.4,404.6L453.4,405.2L453.3,405.9L453.2,406.6L453.1,407.1L453.0,407.9L452.9,408.6L452.8,409.1L452.7,409.9L452.6,410.4L452.5,411.1L452.3,411.6L452.1,412.4L452.0,412.9L451.8,413.4L451.6,413.9L451.3,414.4L451.0,414.9L450.7,415.4L450.4,415.7L450.0,416.1L449.6,416.4L449.1,416.8L448.6,417.1L448.1,417.3L447.6,417.4L446.9,417.6L446.1,417.5L445.5,417.4L445.1,417.1L444.6,416.7L444.4,416.3L444.1,415.9L443.9,415.4L443.6,414.8L443.4,414.3L443.1,413.7L442.9,413.2L442.6,412.7L442.4,412.3L442.1,411.8L441.9,411.2L441.6,410.7L441.4,410.1L441.3,409.6L441.1,409.1L441.0,408.4L440.9,407.7L440.8,407.1L440.8,406.4L440.7,405.6L440.7,404.9L440.7,404.1L440.7,403.4L440.8,402.6L440.9,401.9L441.0,401.4L441.1,400.6L441.2,400.1L441.3,399.4L441.4,398.9L441.5,398.1L441.6,397.6L441.8,396.9L442.0,396.4L442.2,395.9L442.4,395.4L442.6,394.9L442.9,394.4L443.1,393.9L443.4,393.4L443.7,392.9L444.0,392.4L444.3,391.9L444.6,391.6L445.1,391.2L445.6,390.9L445.7,390.9M518.9,382.4L519.6,382.4L520.1,382.4L520.9,382.5L521.5,382.6L522.1,382.7L522.9,382.8L523.4,382.9L524.1,383.0L524.8,383.1L525.4,383.2L526.1,383.2L526.9,383.3L527.4,383.4L528.1,383.5L528.6,383.7L529.1,383.9L529.6,384.2L530.1,384.5L530.6,384.8L531.0,385.1L531.4,385.4L531.9,385.8L532.2,386.1L532.6,386.5L533.1,386.9L533.4,387.1L533.9,387.6L534.2,387.9L534.6,388.3L534.9,388.6L535.3,389.1L535.6,389.5L535.9,389.9L536.3,390.4L536.6,390.7L537.0,391.1L537.4,391.6L537.7,391.9L538.1,392.4L538.4,392.8L538.7,393.1L539.0,393.6L539.3,394.1L539.6,394.6L539.9,395.1L540.0,395.6L540.2,396.1L540.3,396.9L540.4,397.6L540.4,398.1L540.4,398.9L540.4,399.6L540.4,400.4L540.3,400.9L540.3,401.6L540.2,402.4L540.1,403.1L540.1,403.6L540.0,404.4L539.9,405.1L539.8,405.6L539.7,406.4L539.5,406.9L539.3,407.4L539.1,407.9L538.9,408.5L538.6,409.1L538.4,409.6L538.3,410.1L538.1,410.6L537.9,411.2L537.6,411.8L537.4,412.3L537.1,412.8L536.9,413.2L536.6,413.6L536.3,414.1L536.0,414.6L535.6,415.1L535.4,415.4L535.0,415.9L534.6,416.3L534.4,416.6L534.0,417.1L533.6,417.5L533.3,417.9L532.9,418.4L532.6,418.6L532.1,419.0L531.6,419.4L531.3,419.6L530.9,419.9L530.4,420.3L529.9,420.6L529.4,420.9L528.9,421.1L528.4,421.4L527.9,421.6L527.4,421.9L526.9,422.1L526.4,422.4L525.9,422.6L525.4,422.8L524.9,423.0L524.4,423.2L523.7,423.4L523.1,423.6L522.6,423.7L522.0,423.9L521.4,424.0L520.6,424.1L520.1,424.2L519.4,424.2L518.8,424.1L518.1,423.9L517.6,423.6L517.2,423.4L516.9,423.1L516.4,422.6L516.1,422.3L515.8,421.9L515.4,421.4L515.1,420.9L514.9,420.4L514.6,420.0L514.4,419.5L514.1,419.1L513.8,418.6L513.4,418.2L513.0,417.9L512.6,417.6L512.1,417.4L511.5,417.1L511.0,416.9L510.6,416.6L510.1,416.3L509.6,416.0L509.2,415.6L508.9,415.3L508.4,414.9L508.0,414.6L507.6,414.3L507.1,414.0L506.6,413.7L506.1,413.5L505.6,413.3L505.1,413.1L504.6,412.9L504.0,412.6L503.5,412.4L503.0,412.1L502.6,411.9L502.1,411.6L501.6,411.3L501.1,411.0L500.6,410.8L500.1,410.6L499.4,410.4L498.9,410.3L498.1,410.2L497.4,410.1L496.9,410.0L496.4,409.8L495.9,409.5L495.4,409.2L494.9,408.9L494.5,408.6L494.1,408.3L493.6,408.0L493.1,407.7L492.7,407.4L492.3,407.1L491.8,406.9L491.2,406.6L490.6,406.4L490.1,406.2L489.6,406.0L489.1,405.7L488.7,405.4L488.4,405.0L488.1,404.6L487.7,404.1L487.5,403.6L487.2,403.1L487.0,402.6L486.9,402.0L486.8,401.4L486.8,400.6L486.9,400.1L487.1,399.4L487.3,398.9L487.5,398.4L487.6,397.9L487.9,397.1L488.1,396.6L488.3,396.1L488.6,395.6L488.8,395.1L489.1,394.6L489.4,394.2L489.6,393.9L490.0,393.4L490.4,393.1L490.9,392.7L491.4,392.4L491.9,392.1L492.4,391.9L492.9,391.6L493.4,391.4L493.9,391.2L494.4,390.9L494.9,390.7L495.4,390.5L495.9,390.3L496.4,390.1L497.1,389.9L497.6,389.8L498.4,389.7L498.9,389.5L499.4,389.4L500.0,389.1L500.5,388.9L501.0,388.6L501.5,388.4L502.1,388.1L502.6,388.0L503.2,387.9L503.9,387.8L504.6,387.6L505.1,387.5L505.6,387.3L506.1,387.1L506.6,386.9L507.2,386.6L507.8,386.4L508.4,386.1L508.9,386.0L509.4,385.8L509.9,385.6L510.4,385.4L510.9,385.1L511.4,384.8L511.9,384.6L512.4,384.3L512.9,384.1L513.4,383.8L513.9,383.6L514.5,383.4L515.1,383.1L515.6,383.0L516.1,382.9L516.9,382.7L517.4,382.6L518.1,382.5L518.9,382.4M446.1,391.9L446.6,391.7L447.4,391.7L448.1,391.9L448.6,392.1L449.1,392.4L449.4,392.6L449.9,393.1L450.1,393.4L450.5,393.9L450.7,394.4L450.9,394.9L451.1,395.5L451.3,396.1L451.4,396.6L451.6,397.4L451.7,397.9L451.9,398.4L452.1,399.1L452.2,399.6L452.4,400.3L452.5,400.9L452.6,401.6L452.7,402.1L452.8,402.9L452.8,403.6L452.8,404.4L452.8,405.1L452.7,405.9L452.6,406.4L452.5,407.1L452.4,407.7L452.3,408.4L452.2,409.1L452.1,409.6L452.0,410.4L451.8,410.9L451.6,411.6L451.5,412.1L451.3,412.6L451.1,413.1L450.9,413.6L450.6,414.1L450.3,414.6L449.9,415.1L449.6,415.4L449.1,415.8L448.6,416.1L448.1,416.3L447.6,416.4L446.9,416.5L446.1,416.4L445.6,416.2L445.3,415.9L444.9,415.4L444.6,415.0L444.4,414.5L444.1,414.1L443.9,413.6L443.6,413.1L443.3,412.6L443.1,412.1L442.8,411.6L442.5,411.1L442.3,410.6L442.1,410.1L441.9,409.5L441.7,408.9L441.6,408.4L441.5,407.6L441.4,406.9L441.4,406.1L441.4,405.6L441.3,404.9L441.3,404.1L441.3,403.4L441.4,402.6L441.4,402.1L441.6,401.4L441.6,400.9L441.8,400.1L441.9,399.6L442.0,398.9L442.1,398.2L442.3,397.6L442.4,397.1L442.6,396.5L442.9,395.9L443.1,395.4L443.4,395.0L443.6,394.6L443.9,394.1L444.2,393.6L444.6,393.1L444.9,392.8L445.3,392.4L445.6,392.1L446.1,391.9M516.6,383.9L517.1,383.8L517.9,383.7L518.6,383.7L519.4,383.8L520.1,383.8L520.6,383.9L521.4,384.1L521.9,384.2L522.6,384.3L523.3,384.4L523.9,384.5L524.6,384.6L525.1,384.7L525.9,384.7L526.6,384.8L527.4,384.9L527.9,385.0L528.4,385.1L528.9,385.4L529.4,385.7L529.9,386.0L530.4,386.3L530.7,386.6L531.1,386.9L531.6,387.4L532.0,387.6L532.4,388.0L532.9,388.4L533.1,388.6L533.6,389.1L533.9,389.4L534.3,389.9L534.6,390.4L534.9,390.7L535.2,391.1L535.6,391.6L535.9,392.0L536.2,392.4L536.6,392.9L536.9,393.2L537.2,393.6L537.6,394.1L537.9,394.5L538.1,394.9L538.4,395.4L538.6,396.1L538.8,396.6L538.9,397.1L539.1,397.9L539.2,398.4L539.3,399.1L539.4,399.9L539.3,400.6L539.3,401.4L539.2,402.1L539.2,402.9L539.2,403.6L539.1,404.4L539.1,404.9L539.0,405.6L538.9,406.1L538.6,406.9L538.4,407.4L538.2,407.9L538.0,408.4L537.8,408.9L537.6,409.4L537.4,410.0L537.2,410.6L537.0,411.1L536.8,411.6L536.5,412.1L536.2,412.6L535.9,413.1L535.6,413.5L535.4,413.9L534.9,414.4L534.6,414.7L534.2,415.1L533.9,415.5L533.6,415.9L533.2,416.4L532.9,416.7L532.5,417.1L532.1,417.5L531.7,417.9L531.4,418.1L530.9,418.5L530.4,418.9L530.0,419.1L529.6,419.4L529.1,419.6L528.6,419.9L528.0,420.1L527.5,420.4L526.9,420.6L526.5,420.9L526.0,421.1L525.5,421.4L524.9,421.6L524.4,421.8L523.9,422.0L523.3,422.1L522.6,422.3L522.1,422.4L521.4,422.5L520.6,422.4L519.9,422.4L519.4,422.3L518.7,422.1L518.3,421.9L517.9,421.6L517.4,421.2L517.1,420.9L516.6,420.4L516.4,420.1L516.1,419.6L515.8,419.1L515.5,418.6L515.3,418.1L514.9,417.6L514.6,417.3L514.1,416.9L513.7,416.6L513.1,416.4L512.6,416.2L512.1,416.0L511.6,415.8L511.1,415.6L510.6,415.3L510.1,415.0L509.7,414.6L509.4,414.4L508.9,414.0L508.5,413.6L508.1,413.4L507.6,413.0L507.1,412.7L506.6,412.4L506.1,412.2L505.6,411.9L505.1,411.6L504.6,411.4L504.1,411.1L503.7,410.9L503.3,410.6L502.8,410.4L502.4,410.1L501.9,409.8L501.4,409.6L500.8,409.4L500.1,409.2L499.6,409.1L498.9,408.9L498.4,408.8L497.6,408.6L497.1,408.4L496.6,408.2L496.1,407.9L495.6,407.6L495.2,407.4L494.8,407.1L494.4,406.8L493.9,406.4L493.6,406.0L493.2,405.6L492.9,405.2L492.4,404.9L492.0,404.6L491.5,404.4L490.9,404.1L490.5,403.9L490.1,403.5L489.9,402.9L489.8,402.4L489.8,401.6L489.7,400.9L489.7,400.1L489.8,399.4L489.9,398.8L490.1,398.1L490.2,397.6L490.4,397.1L490.6,396.4L490.7,395.9L490.9,395.4L491.2,394.9L491.5,394.4L491.9,394.1L492.4,393.7L492.9,393.4L493.4,393.2L493.9,392.9L494.4,392.6L494.9,392.4L495.4,392.1L495.9,391.9L496.4,391.7L496.9,391.5L497.4,391.4L498.1,391.2L498.6,391.1L499.4,390.9L499.9,390.7L500.4,390.5L500.9,390.2L501.4,390.0L501.9,389.7L502.4,389.5L502.9,389.3L503.6,389.2L504.4,389.2L504.9,389.1L505.6,389.0L506.1,388.7L506.6,388.5L507.1,388.2L507.6,387.9L508.1,387.6L508.6,387.4L509.1,387.2L509.6,387.1L510.4,386.9L510.9,386.7L511.4,386.5L511.9,386.2L512.4,385.9L512.7,385.6L513.1,385.4L513.6,385.0L514.1,384.7L514.6,384.5L515.1,384.3L515.6,384.1L516.4,383.9L516.6,383.9M446.4,392.9L446.9,392.7L447.6,392.7L448.1,392.9L448.6,393.1L449.1,393.5L449.5,393.9L449.9,394.4L450.1,394.9L450.4,395.4L450.5,395.9L450.7,396.4L450.9,397.0L451.1,397.6L451.2,398.1L451.4,398.8L451.5,399.4L451.7,399.9L451.9,400.6L452.0,401.1L452.1,401.9L452.2,402.4L452.3,403.1L452.3,403.9L452.3,404.6L452.2,405.4L452.1,405.9L452.0,406.6L451.9,407.2L451.8,407.9L451.6,408.6L451.6,409.1L451.4,409.9L451.3,410.4L451.2,411.1L451.0,411.6L450.8,412.1L450.6,412.6L450.4,413.1L450.1,413.6L449.8,414.1L449.4,414.6L449.0,414.9L448.6,415.1L448.1,415.4L447.4,415.6L446.6,415.5L446.1,415.3L445.6,414.9L445.4,414.6L445.0,414.1L444.7,413.6L444.4,413.2L444.1,412.8L443.9,412.3L443.6,411.9L443.3,411.4L443.1,410.9L442.8,410.4L442.6,409.9L442.4,409.2L442.2,408.6L442.1,408.0L442.1,407.4L442.0,406.6L441.9,405.9L441.9,405.1L441.9,404.6L441.8,403.9L441.9,403.1L441.9,402.6L442.0,401.9L442.1,401.2L442.2,400.6L442.4,400.0L442.5,399.4L442.6,398.7L442.7,398.1L442.9,397.6L443.1,396.9L443.4,396.4L443.6,395.9L443.9,395.5L444.1,395.1L444.5,394.6L444.9,394.1L445.1,393.8L445.6,393.4L445.9,393.1L446.4,392.9M516.9,384.9L517.4,384.8L518.1,384.9L518.6,384.9L519.4,385.0L520.1,385.1L520.6,385.1L521.4,385.2L522.1,385.3L522.6,385.4L523.4,385.5L524.1,385.6L524.6,385.7L525.4,385.8L526.0,385.9L526.6,386.0L527.3,386.1L527.9,386.3L528.4,386.5L528.9,386.8L529.3,387.1L529.7,387.4L530.1,387.7L530.6,388.1L531.0,388.4L531.4,388.7L531.9,389.1L532.2,389.4L532.6,389.7L533.0,390.1L533.4,390.5L533.7,390.9L534.1,391.4L534.4,391.8L534.6,392.1L535.0,392.6L535.4,393.1L535.6,393.4L535.9,393.9L536.2,394.4L536.5,394.9L536.8,395.4L537.0,395.9L537.1,396.4L537.4,397.1L537.6,397.6L537.8,398.1L537.9,398.6L538.1,399.3L538.2,399.9L538.3,400.6L538.3,401.4L538.2,402.1L538.2,402.9L538.2,403.6L538.2,404.4L538.2,405.1L538.1,405.6L537.9,406.4L537.7,406.9L537.5,407.4L537.2,407.9L537.0,408.4L536.8,408.9L536.6,409.4L536.4,410.1L536.2,410.6L536.0,411.1L535.8,411.6L535.5,412.1L535.2,412.6L534.9,413.0L534.6,413.4L534.1,413.8L533.8,414.1L533.4,414.5L533.1,414.9L532.6,415.4L532.4,415.7L532.0,416.1L531.6,416.5L531.2,416.9L530.9,417.2L530.4,417.6L529.9,417.9L529.5,418.1L529.1,418.4L528.5,418.6L527.9,418.8L527.4,419.0L526.9,419.2L526.3,419.4L525.8,419.6L525.4,419.9L524.9,420.1L524.3,420.4L523.6,420.6L523.1,420.7L522.4,420.8L521.6,420.7L521.0,420.6L520.4,420.5L519.9,420.4L519.1,420.2L518.6,420.0L518.1,419.7L517.7,419.4L517.4,419.0L517.1,418.6L516.7,418.1L516.4,417.6L516.1,417.3L515.7,416.9L515.4,416.6L514.9,416.2L514.4,415.9L513.9,415.6L513.4,415.4L512.9,415.2L512.4,415.0L511.9,414.8L511.4,414.6L510.9,414.3L510.4,413.9L510.0,413.6L509.6,413.3L509.1,412.9L508.8,412.6L508.4,412.3L507.9,412.0L507.4,411.6L507.0,411.4L506.6,411.1L506.1,410.9L505.6,410.6L505.1,410.3L504.6,410.0L504.1,409.7L503.6,409.4L503.2,409.1L502.9,408.9L502.4,408.5L501.9,408.2L501.4,408.0L500.9,407.8L500.4,407.6L499.6,407.4L499.1,407.3L498.6,407.1L497.9,406.9L497.4,406.7L496.9,406.4L496.4,406.2L495.9,405.9L495.6,405.6L495.2,405.1L494.9,404.7L494.6,404.2L494.4,403.7L494.2,403.1L494.0,402.6L493.8,402.1L493.6,401.6L493.4,400.9L493.3,400.4L493.2,399.6L493.1,399.1L493.0,398.4L492.9,397.6L493.0,396.9L493.1,396.3L493.4,395.9L493.9,395.4L494.3,395.1L494.8,394.9L495.2,394.6L495.6,394.4L496.1,394.0L496.6,393.6L496.9,393.4L497.4,393.1L497.9,392.9L498.6,392.6L499.1,392.5L499.6,392.3L500.1,392.1L500.6,391.9L501.1,391.6L501.6,391.3L502.1,391.1L502.6,390.8L503.2,390.6L503.9,390.5L504.6,390.4L505.1,390.4L505.9,390.2L506.4,390.0L506.9,389.7L507.3,389.4L507.7,389.1L508.1,388.8L508.6,388.6L509.1,388.4L509.9,388.1L510.4,388.0L510.9,387.9L511.4,387.6L511.9,387.4L512.4,387.1L512.9,386.8L513.4,386.4L513.8,386.1L514.2,385.9L514.6,385.6L515.1,385.3L515.7,385.1L516.4,384.9L516.9,384.9M446.5,393.9L447.1,393.7L447.9,393.8L448.4,394.0L448.9,394.4L449.1,394.7L449.4,395.1L449.7,395.6L449.9,396.1L450.1,396.6L450.4,397.3L450.6,397.9L450.7,398.4L450.9,399.0L451.0,399.6L451.2,400.1L451.4,400.9L451.5,401.4L451.6,402.1L451.7,402.6L451.8,403.4L451.8,404.1L451.8,404.9L451.6,405.6L451.6,406.1L451.4,406.9L451.3,407.4L451.2,408.1L451.1,408.6L451.0,409.4L450.9,410.0L450.7,410.6L450.6,411.1L450.4,411.7L450.1,412.3L449.9,412.7L449.6,413.2L449.3,413.6L448.9,414.0L448.4,414.4L447.9,414.6L447.4,414.7L446.9,414.6L446.3,414.4L445.9,414.1L445.5,413.6L445.1,413.2L444.9,412.8L444.6,412.4L444.3,411.9L444.0,411.4L443.7,410.9L443.4,410.4L443.2,409.9L443.0,409.4L442.9,408.9L442.7,408.1L442.6,407.4L442.6,406.9L442.5,406.1L442.4,405.4L442.4,404.9L442.3,404.1L442.3,403.4L442.4,402.6L442.4,402.1L442.6,401.4L442.7,400.9L442.9,400.1L443.0,399.6L443.1,399.0L443.3,398.4L443.4,397.9L443.6,397.3L443.9,396.8L444.1,396.3L444.4,395.9L444.8,395.4L445.1,395.0L445.5,394.6L445.9,394.2L446.4,393.9L446.5,393.9M515.9,386.1L516.6,386.0L517.4,385.9L518.1,385.9L518.9,385.9L519.6,386.0L520.4,386.0L521.1,386.1L521.6,386.2L522.4,386.2L523.1,386.3L523.6,386.4L524.4,386.5L525.0,386.6L525.6,386.7L526.2,386.9L526.9,387.1L527.4,387.3L527.9,387.5L528.4,387.9L528.7,388.1L529.1,388.4L529.6,388.8L530.0,389.1L530.4,389.4L530.9,389.8L531.3,390.1L531.6,390.4L532.1,390.9L532.4,391.2L532.7,391.6L533.1,392.1L533.4,392.5L533.7,392.9L534.1,393.4L534.4,393.7L534.7,394.1L535.1,394.6L535.4,395.1L535.6,395.6L535.8,396.1L536.0,396.6L536.2,397.1L536.4,397.6L536.6,398.1L536.9,398.8L537.1,399.4L537.2,399.9L537.3,400.6L537.3,401.4L537.3,402.1L537.3,402.9L537.2,403.6L537.2,404.4L537.2,405.1L537.1,405.7L536.9,406.4L536.7,406.9L536.5,407.4L536.2,407.9L536.0,408.4L535.8,408.9L535.6,409.6L535.5,410.1L535.3,410.6L535.1,411.1L534.8,411.6L534.4,412.1L534.1,412.4L533.7,412.9L533.4,413.2L532.9,413.6L532.6,413.9L532.2,414.4L531.9,414.7L531.5,415.1L531.1,415.5L530.8,415.9L530.4,416.2L529.9,416.6L529.5,416.9L529.1,417.1L528.6,417.4L528.0,417.6L527.4,417.8L526.9,417.9L526.3,418.1L525.6,418.4L525.1,418.6L524.6,418.8L524.1,419.0L523.6,419.2L522.9,419.3L522.1,419.3L521.4,419.2L520.9,419.1L520.1,418.9L519.6,418.8L519.1,418.6L518.6,418.3L518.2,417.9L517.9,417.6L517.4,417.1L517.1,416.9L516.6,416.5L516.1,416.1L515.7,415.9L515.4,415.6L514.9,415.3L514.4,415.0L513.9,414.7L513.4,414.5L512.9,414.2L512.4,414.0L511.9,413.7L511.4,413.4L510.9,413.1L510.6,412.9L510.1,412.5L509.7,412.1L509.4,411.8L508.9,411.4L508.5,411.1L508.1,410.8L507.6,410.5L507.1,410.2L506.6,409.9L506.1,409.7L505.6,409.4L505.1,409.1L504.8,408.9L504.4,408.6L503.9,408.2L503.6,407.9L503.1,407.4L502.8,407.1L502.4,406.7L501.9,406.4L501.4,406.1L500.9,405.9L500.4,405.8L499.8,405.6L499.1,405.4L498.6,405.2L498.1,404.9L497.6,404.6L497.3,404.4L496.9,403.9L496.6,403.5L496.4,403.1L496.1,402.5L495.9,401.9L495.8,401.4L495.7,400.6L495.7,399.9L495.7,399.1L495.9,398.5L496.1,397.9L496.4,397.6L496.8,397.1L497.2,396.9L497.6,396.5L498.1,396.1L498.4,395.9L498.8,395.4L499.1,394.9L499.4,394.6L499.8,394.1L500.1,393.9L500.6,393.5L501.1,393.2L501.6,392.9L502.1,392.6L502.5,392.4L503.0,392.1L503.6,391.9L504.1,391.8L504.9,391.6L505.4,391.5L505.9,391.4L506.5,391.1L506.9,390.9L507.4,390.6L507.9,390.2L508.3,389.9L508.7,389.6L509.2,389.4L509.8,389.1L510.4,388.9L510.9,388.8L511.4,388.6L511.9,388.3L512.4,388.1L512.9,387.8L513.4,387.5L513.9,387.1L514.3,386.9L514.7,386.6L515.2,386.4L515.9,386.1M446.6,394.9L447.1,394.7L447.9,394.8L448.4,395.1L448.7,395.4L449.0,395.9L449.3,396.4L449.6,396.9L449.8,397.4L450.0,397.9L450.1,398.4L450.4,399.1L450.5,399.6L450.6,400.2L450.8,400.9L450.9,401.4L451.1,402.1L451.2,402.6L451.3,403.4L451.3,404.1L451.3,404.9L451.1,405.6L451.0,406.1L450.9,406.9L450.8,407.4L450.6,408.1L450.6,408.6L450.5,409.4L450.4,409.9L450.2,410.6L450.0,411.1L449.8,411.6L449.5,412.1L449.2,412.6L448.9,413.0L448.5,413.4L448.0,413.6L447.4,413.8L446.6,413.6L446.2,413.4L445.9,413.1L445.4,412.6L445.1,412.2L444.9,411.8L444.6,411.4L444.3,410.9L444.0,410.4L443.8,409.9L443.6,409.4L443.4,408.7L443.3,408.1L443.2,407.4L443.1,406.9L443.0,406.1L442.9,405.4L442.9,404.9L442.8,404.1L442.8,403.4L442.8,402.6L442.9,402.1L443.1,401.4L443.2,400.9L443.4,400.2L443.5,399.6L443.7,399.1L443.9,398.5L444.1,397.9L444.3,397.4L444.6,396.9L444.9,396.5L445.2,396.1L445.6,395.6L445.9,395.4L446.4,395.0L446.6,394.9M517.4,386.9L518.1,386.8L518.9,386.8L519.6,386.8L520.4,386.8L521.1,386.9L521.6,386.9L522.4,387.0L523.1,387.1L523.6,387.2L524.4,387.3L524.9,387.4L525.6,387.6L526.1,387.8L526.6,388.0L527.1,388.3L527.6,388.6L528.0,388.9L528.4,389.2L528.9,389.6L529.2,389.9L529.6,390.2L530.1,390.6L530.4,390.9L530.8,391.4L531.1,391.8L531.4,392.1L531.8,392.6L532.1,393.0L532.4,393.4L532.9,393.8L533.2,394.1L533.6,394.5L534.0,394.9L534.3,395.4L534.6,395.8L534.9,396.3L535.1,396.8L535.4,397.3L535.6,397.9L535.8,398.4L536.0,398.9L536.2,399.4L536.4,400.1L536.5,400.6L536.5,401.4L536.4,402.1L536.4,402.6L536.3,403.4L536.2,404.1L536.2,404.9L536.1,405.4L535.9,406.1L535.8,406.6L535.6,407.1L535.3,407.6L535.1,408.2L534.9,408.9L534.7,409.4L534.6,409.9L534.4,410.4L534.1,410.9L533.8,411.4L533.4,411.9L533.1,412.1L532.6,412.6L532.4,412.9L531.9,413.4L531.6,413.7L531.2,414.1L530.9,414.4L530.4,414.9L530.1,415.2L529.6,415.6L529.2,415.9L528.8,416.1L528.4,416.4L527.8,416.6L527.1,416.8L526.6,417.0L525.9,417.1L525.4,417.3L524.9,417.4L524.2,417.6L523.6,417.8L523.1,417.9L522.4,418.0L521.6,417.9L521.1,417.8L520.5,417.6L519.9,417.4L519.4,417.1L519.0,416.9L518.6,416.6L518.1,416.4L517.6,416.1L517.1,415.8L516.6,415.6L516.1,415.3L515.6,415.0L515.1,414.6L514.7,414.4L514.3,414.1L513.9,413.8L513.4,413.5L512.9,413.3L512.4,413.0L511.9,412.6L511.5,412.4L511.1,412.1L510.6,411.6L510.4,411.4L509.9,410.9L509.5,410.6L509.1,410.3L508.6,409.9L508.1,409.6L507.6,409.4L507.1,409.1L506.6,408.9L506.1,408.6L505.7,408.4L505.4,408.1L504.9,407.6L504.6,407.4L504.3,406.9L503.9,406.4L503.6,406.0L503.3,405.6L502.9,405.3L502.4,405.0L501.9,404.8L501.3,404.6L500.6,404.4L500.1,404.1L499.7,403.9L499.4,403.6L499.0,403.1L498.7,402.6L498.5,402.1L498.4,401.6L498.2,400.9L498.2,400.1L498.3,399.4L498.5,398.9L498.7,398.4L499.1,397.9L499.4,397.5L499.7,397.1L500.0,396.6L500.4,396.1L500.6,395.8L501.0,395.4L501.4,395.1L501.9,394.7L502.4,394.4L502.7,394.1L503.1,393.8L503.6,393.5L504.1,393.3L504.6,393.1L505.4,392.9L505.9,392.7L506.4,392.5L506.9,392.2L507.2,391.9L507.6,391.5L508.1,391.1L508.4,390.9L508.9,390.6L509.4,390.3L509.9,390.0L510.4,389.8L510.9,389.6L511.4,389.4L511.9,389.1L512.4,388.8L512.9,388.6L513.4,388.3L513.9,388.0L514.4,387.8L514.9,387.5L515.4,387.3L516.1,387.1L516.6,387.0L517.4,386.9M447.1,395.9L447.5,395.9L448.1,396.1L448.4,396.4L448.7,396.9L449.1,397.4L449.3,397.9L449.5,398.4L449.7,398.9L449.9,399.5L450.0,400.1L450.2,400.6L450.4,401.3L450.5,401.9L450.6,402.4L450.8,403.1L450.8,403.9L450.8,404.6L450.7,405.4L450.6,405.9L450.4,406.6L450.3,407.1L450.2,407.9L450.1,408.4L450.0,409.1L449.9,409.7L449.7,410.4L449.5,410.9L449.3,411.4L448.9,411.9L448.6,412.3L448.2,412.6L447.6,412.9L447.1,412.9L446.6,412.8L446.1,412.4L445.8,412.1L445.4,411.6L445.1,411.2L444.9,410.8L444.6,410.4L444.4,409.9L444.1,409.3L443.9,408.6L443.8,408.1L443.7,407.4L443.6,406.6L443.6,406.1L443.4,405.4L443.3,404.9L443.3,404.1L443.2,403.4L443.3,402.6L443.4,402.1L443.5,401.4L443.7,400.9L443.9,400.3L444.1,399.6L444.3,399.1L444.6,398.6L444.8,398.1L445.1,397.6L445.4,397.2L445.6,396.9L446.1,396.4L446.5,396.1L447.1,395.9M517.8,387.6L518.4,387.5L519.1,387.5L519.9,387.4L520.6,387.5L521.4,387.5L522.1,387.6L522.6,387.7L523.4,387.8L523.9,387.9L524.6,388.1L525.1,388.3L525.6,388.4L526.1,388.7L526.6,389.0L527.1,389.4L527.4,389.6L527.9,390.0L528.3,390.4L528.6,390.6L529.1,391.1L529.4,391.4L529.9,391.9L530.1,392.2L530.5,392.6L530.9,393.1L531.1,393.4L531.6,393.9L531.9,394.1L532.4,394.6L532.7,394.9L533.1,395.3L533.4,395.6L533.8,396.1L534.1,396.6L534.4,397.0L534.6,397.5L534.9,398.0L535.1,398.6L535.3,399.1L535.5,399.6L535.6,400.2L535.7,400.9L535.7,401.6L535.6,402.1L535.5,402.9L535.4,403.4L535.2,404.1L535.1,404.9L535.1,405.4L534.9,406.1L534.7,406.6L534.6,407.1L534.4,407.7L534.2,408.4L534.0,408.9L533.8,409.4L533.6,409.9L533.4,410.4L533.1,410.9L532.7,411.4L532.4,411.7L532.0,412.1L531.6,412.5L531.3,412.9L530.9,413.3L530.5,413.6L530.1,413.9L529.6,414.4L529.3,414.6L528.9,414.9L528.4,415.2L527.9,415.5L527.4,415.7L526.9,415.9L526.1,416.1L525.6,416.1L524.9,416.3L524.3,416.4L523.6,416.5L523.0,416.6L522.4,416.7L521.6,416.6L521.1,416.5L520.6,416.4L520.1,416.1L519.5,415.9L518.9,415.6L518.4,415.4L517.9,415.3L517.4,415.1L516.9,414.9L516.4,414.6L515.9,414.3L515.4,413.9L515.0,413.6L514.6,413.4L514.1,413.0L513.6,412.7L513.1,412.4L512.8,412.1L512.4,411.8L511.9,411.4L511.5,411.1L511.1,410.8L510.7,410.4L510.4,410.1L509.9,409.7L509.5,409.4L509.0,409.1L508.6,408.9L508.1,408.6L507.6,408.4L507.1,408.1L506.6,407.8L506.1,407.4L505.9,407.1L505.5,406.6L505.3,406.1L505.0,405.6L504.6,405.1L504.4,404.8L503.9,404.4L503.4,404.1L503.0,403.9L502.5,403.6L502.1,403.4L501.6,403.1L501.2,402.6L501.0,402.1L501.0,401.4L501.2,400.9L501.4,400.4L501.5,399.6L501.5,398.9L501.6,398.1L501.7,397.6L502.0,397.1L502.4,396.6L502.6,396.4L503.1,396.0L503.6,395.6L503.9,395.4L504.4,395.1L504.9,394.8L505.4,394.5L505.9,394.3L506.4,394.0L506.9,393.7L507.2,393.4L507.6,392.9L507.9,392.6L508.4,392.1L508.6,391.9L509.1,391.5L509.6,391.1L510.0,390.9L510.5,390.6L510.9,390.4L511.4,390.1L511.9,389.8L512.4,389.5L512.9,389.3L513.4,389.0L513.9,388.7L514.4,388.5L514.9,388.4L515.6,388.1L516.1,388.0L516.6,387.9L517.4,387.7L517.8,387.6M446.9,397.4L447.4,397.3L447.9,397.5L448.4,397.9L448.6,398.2L448.9,398.7L449.1,399.3L449.3,399.9L449.5,400.4L449.7,400.9L449.9,401.6L450.0,402.1L450.2,402.6L450.3,403.4L450.4,404.1L450.3,404.9L450.1,405.6L450.0,406.1L449.9,406.7L449.7,407.4L449.6,408.0L449.5,408.6L449.4,409.4L449.3,409.9L449.1,410.4L448.8,410.9L448.5,411.4L448.1,411.7L447.6,412.0L446.9,412.0L446.4,411.7L446.0,411.4L445.6,410.9L445.4,410.6L445.1,410.1L444.8,409.6L444.6,409.1L444.4,408.4L444.3,407.9L444.2,407.1L444.1,406.4L444.0,405.9L443.9,405.1L443.8,404.6L443.7,403.9L443.7,403.1L443.8,402.4L443.9,401.9L444.1,401.2L444.3,400.6L444.6,400.1L444.8,399.6L445.1,399.1L445.4,398.8L445.7,398.4L446.1,397.9L446.4,397.6L446.9,397.4M518.7,388.1L519.4,388.1L520.1,388.0L520.9,388.1L521.4,388.1L522.1,388.2L522.9,388.4L523.4,388.5L523.9,388.6L524.6,388.9L525.1,389.1L525.6,389.4L526.0,389.6L526.4,389.9L526.9,390.3L527.3,390.6L527.6,390.9L528.1,391.3L528.4,391.6L528.9,392.0L529.2,392.4L529.6,392.8L529.9,393.1L530.4,393.6L530.6,393.9L531.1,394.4L531.4,394.6L531.9,395.1L532.2,395.4L532.6,395.8L532.9,396.1L533.3,396.6L533.6,397.1L533.9,397.6L534.1,398.0L534.4,398.6L534.6,399.1L534.8,399.6L534.9,400.1L535.0,400.9L535.0,401.6L534.9,402.1L534.7,402.9L534.6,403.4L534.4,404.1L534.2,404.6L534.1,405.1L533.9,405.9L533.8,406.4L533.6,407.0L533.5,407.6L533.4,408.1L533.2,408.9L533.0,409.4L532.8,409.9L532.5,410.4L532.1,410.9L531.9,411.2L531.5,411.6L531.1,412.0L530.7,412.4L530.4,412.6L529.9,413.1L529.5,413.4L529.1,413.6L528.6,413.9L528.1,414.3L527.6,414.5L527.1,414.8L526.6,414.9L525.9,415.1L525.4,415.2L524.6,415.3L524.1,415.4L523.4,415.5L522.6,415.6L521.9,415.6L521.1,415.4L520.6,415.3L520.1,415.1L519.5,414.9L518.9,414.7L518.4,414.6L517.8,414.4L517.1,414.1L516.7,413.9L516.3,413.6L515.9,413.3L515.4,412.9L515.1,412.6L514.6,412.2L514.1,411.9L513.7,411.6L513.4,411.4L512.9,411.0L512.4,410.6L512.1,410.4L511.6,410.0L511.2,409.6L510.9,409.4L510.4,409.0L509.9,408.7L509.4,408.4L508.9,408.1L508.5,407.9L508.0,407.6L507.6,407.4L507.1,406.9L506.9,406.6L506.6,406.1L506.4,405.6L506.1,405.1L505.9,404.6L505.5,404.1L505.1,403.7L504.7,403.4L504.4,403.1L504.0,402.6L503.7,402.1L503.6,401.6L503.6,400.9L503.5,400.1L503.5,399.4L503.5,398.6L503.6,398.0L503.9,397.5L504.2,397.1L504.6,396.7L505.0,396.4L505.4,396.1L505.9,395.8L506.4,395.5L506.9,395.1L507.2,394.9L507.6,394.4L507.9,394.1L508.3,393.6L508.6,393.2L508.9,392.9L509.4,392.4L509.7,392.1L510.1,391.8L510.6,391.4L511.1,391.1L511.4,390.9L511.9,390.6L512.4,390.2L512.9,389.9L513.4,389.6L513.9,389.4L514.4,389.2L514.9,389.0L515.4,388.9L516.1,388.7L516.6,388.6L517.4,388.4L517.9,388.3L518.6,388.1L518.7,388.1M447.0,398.9L447.4,398.9L447.9,399.1L448.4,399.6L448.6,400.1L448.9,400.6L449.1,401.1L449.3,401.6L449.5,402.1L449.6,402.6L449.8,403.4L449.8,404.1L449.7,404.9L449.6,405.4L449.4,406.1L449.3,406.6L449.2,407.4L449.1,407.9L449.0,408.6L448.8,409.1L448.6,409.8L448.4,410.3L448.1,410.6L447.6,410.9L446.9,411.0L446.4,410.7L446.0,410.4L445.7,409.9L445.4,409.4L445.2,408.9L445.0,408.4L444.9,407.6L444.8,407.1L444.7,406.4L444.6,405.9L444.4,405.1L444.3,404.6L444.2,403.9L444.2,403.1L444.3,402.4L444.4,401.9L444.6,401.4L444.9,400.9L445.2,400.4L445.6,399.9L445.9,399.6L446.4,399.2L446.9,398.9L447.0,398.9M519.3,388.6L519.9,388.6L520.6,388.6L521.1,388.7L521.9,388.8L522.4,388.9L523.1,389.1L523.6,389.3L524.1,389.5L524.6,389.7L525.1,390.0L525.6,390.3L526.1,390.6L526.4,390.9L526.9,391.3L527.3,391.6L527.6,391.9L528.1,392.3L528.5,392.6L528.9,393.0L529.2,393.4L529.6,393.8L530.0,394.1L530.4,394.5L530.7,394.9L531.1,395.3L531.5,395.6L531.9,396.0L532.2,396.4L532.6,396.9L532.9,397.3L533.1,397.7L533.4,398.1L533.6,398.6L533.9,399.1L534.1,399.8L534.3,400.4L534.3,401.1L534.2,401.9L534.1,402.4L533.9,403.1L533.7,403.6L533.6,404.1L533.4,404.7L533.1,405.4L533.0,405.9L532.8,406.4L532.6,407.1L532.6,407.6L532.4,408.4L532.3,408.9L532.1,409.4L531.9,409.9L531.6,410.4L531.2,410.9L530.9,411.2L530.4,411.6L530.1,411.9L529.6,412.2L529.1,412.6L528.6,412.9L528.2,413.1L527.7,413.4L527.2,413.6L526.6,413.9L526.1,414.0L525.6,414.2L524.9,414.4L524.4,414.5L523.6,414.6L523.1,414.6L522.4,414.7L521.6,414.6L521.1,414.5L520.6,414.4L519.9,414.1L519.4,414.0L518.9,413.8L518.3,413.6L517.7,413.4L517.3,413.1L516.9,412.8L516.4,412.4L516.1,412.1L515.6,411.7L515.1,411.4L514.7,411.1L514.3,410.9L513.9,410.6L513.4,410.3L512.9,409.9L512.6,409.6L512.1,409.3L511.7,408.9L511.3,408.6L510.9,408.3L510.4,408.0L509.9,407.7L509.4,407.4L508.9,407.1L508.5,406.9L508.1,406.5L507.8,406.1L507.5,405.6L507.3,405.1L507.1,404.6L506.9,404.1L506.6,403.6L506.3,403.1L505.9,402.6L505.6,402.3L505.3,401.9L505.1,401.4L504.9,400.6L504.8,400.1L504.8,399.4L504.9,398.9L505.1,398.3L505.4,397.9L505.8,397.4L506.1,397.1L506.6,396.6L507.0,396.4L507.4,396.0L507.8,395.6L508.1,395.3L508.5,394.9L508.9,394.4L509.1,394.1L509.5,393.6L509.9,393.1L510.1,392.9L510.6,392.4L511.0,392.1L511.4,391.8L511.8,391.4L512.1,391.1L512.6,390.7L513.1,390.4L513.6,390.1L514.1,389.9L514.6,389.7L515.1,389.5L515.7,389.4L516.4,389.2L516.9,389.1L517.6,388.9L518.1,388.8L518.9,388.7L519.3,388.6M446.5,400.4L447.1,400.3L447.6,400.5L448.0,400.9L448.4,401.4L448.6,401.8L448.9,402.4L449.1,402.9L449.2,403.4L449.2,404.1L449.1,404.8L449.0,405.4L448.8,405.9L448.6,406.6L448.5,407.1L448.4,407.8L448.3,408.4L448.1,408.9L447.9,409.4L447.4,409.8L446.6,409.7L446.3,409.4L446.0,408.9L445.8,408.4L445.6,407.7L445.5,407.1L445.4,406.4L445.3,405.9L445.1,405.3L444.9,404.6L444.8,404.1L444.8,403.4L444.8,402.6L445.0,402.1L445.2,401.6L445.6,401.1L445.9,400.8L446.4,400.4L446.5,400.4M517.9,389.4L518.6,389.2L519.4,389.2L520.1,389.1L520.9,389.2L521.6,389.4L522.1,389.5L522.6,389.6L523.3,389.9L523.9,390.1L524.4,390.4L524.8,390.6L525.2,390.9L525.6,391.2L526.1,391.5L526.6,391.9L526.9,392.1L527.4,392.5L527.8,392.9L528.1,393.2L528.6,393.6L528.9,393.9L529.4,394.4L529.6,394.6L530.1,395.1L530.4,395.4L530.9,395.9L531.1,396.2L531.5,396.6L531.9,397.1L532.1,397.5L532.4,397.9L532.7,398.4L533.0,398.9L533.2,399.4L533.4,399.9L533.6,400.6L533.7,401.1L533.6,401.6L533.5,402.4L533.3,402.9L533.1,403.4L532.9,404.0L532.6,404.6L532.4,405.1L532.1,405.6L531.9,406.1L531.8,406.6L531.7,407.4L531.6,407.9L531.5,408.6L531.3,409.1L531.1,409.6L530.8,410.1L530.4,410.6L530.0,410.9L529.6,411.2L529.1,411.5L528.6,411.8L528.1,412.0L527.6,412.3L527.1,412.5L526.6,412.7L526.1,412.9L525.6,413.2L525.1,413.4L524.4,413.6L523.9,413.7L523.1,413.9L522.6,413.9L522.1,413.9L521.4,413.7L520.9,413.6L520.4,413.4L519.8,413.1L519.2,412.9L518.6,412.6L518.2,412.4L517.8,412.1L517.4,411.8L516.9,411.4L516.4,411.1L516.0,410.9L515.6,410.6L515.1,410.4L514.6,410.1L514.1,409.8L513.6,409.4L513.3,409.1L512.9,408.7L512.5,408.4L512.1,408.1L511.6,407.7L511.2,407.4L510.8,407.1L510.3,406.9L509.9,406.6L509.4,406.3L508.9,405.9L508.6,405.5L508.4,405.1L508.1,404.6L507.9,404.0L507.6,403.4L507.4,402.9L507.2,402.4L506.9,401.9L506.7,401.4L506.5,400.9L506.4,400.1L506.4,399.8L506.5,399.1L506.7,398.6L507.0,398.1L507.4,397.7L507.7,397.4L508.1,396.9L508.4,396.6L508.8,396.1L509.1,395.7L509.4,395.4L509.7,394.9L510.1,394.4L510.4,393.9L510.6,393.6L511.1,393.1L511.4,392.8L511.7,392.4L512.1,392.0L512.4,391.6L512.9,391.2L513.3,390.9L513.7,390.6L514.2,390.4L514.8,390.1L515.4,390.0L515.9,389.8L516.6,389.7L517.1,389.6L517.9,389.4M446.7,401.6L447.1,401.6L447.6,402.0L448.0,402.4L448.2,402.9L448.4,403.4L448.4,404.1L448.3,404.6L448.1,405.1L447.8,405.6L447.4,406.1L446.9,406.3L446.6,405.9L446.2,405.4L445.9,404.9L445.7,404.4L445.5,403.9L445.5,403.1L445.6,402.6L445.9,402.1L446.4,401.7L446.7,401.6M517.8,389.9L518.4,389.8L519.1,389.7L519.9,389.7L520.6,389.8L521.3,389.9L521.9,390.0L522.4,390.2L522.9,390.4L523.4,390.6L523.9,390.9L524.4,391.1L524.9,391.4L525.4,391.8L525.8,392.1L526.2,392.4L526.6,392.7L527.1,393.1L527.4,393.4L527.9,393.9L528.2,394.1L528.6,394.5L529.0,394.9L529.4,395.2L529.8,395.6L530.1,396.0L530.4,396.4L530.8,396.9L531.1,397.4L531.4,397.8L531.6,398.2L531.9,398.6L532.2,399.1L532.5,399.6L532.8,400.1L532.9,400.6L533.0,401.4L532.9,402.1L532.8,402.6L532.6,403.1L532.4,403.6L532.1,404.1L531.8,404.6L531.5,405.1L531.3,405.6L531.0,406.1L530.8,406.6L530.7,407.4L530.6,407.9L530.5,408.6L530.3,409.1L529.9,409.6L529.6,409.9L529.1,410.3L528.6,410.5L528.1,410.7L527.5,410.9L526.9,411.1L526.5,411.4L526.1,411.6L525.6,412.0L525.1,412.3L524.6,412.6L524.1,412.8L523.6,413.0L522.9,413.1L522.1,413.0L521.6,412.9L521.0,412.6L520.5,412.4L520.1,412.1L519.6,411.8L519.1,411.5L518.6,411.2L518.1,411.0L517.6,410.8L517.1,410.5L516.6,410.3L516.1,410.1L515.6,409.9L515.1,409.6L514.6,409.2L514.2,408.9L513.9,408.6L513.4,408.1L513.1,407.8L512.7,407.4L512.4,407.1L511.9,406.7L511.5,406.4L511.0,406.1L510.6,405.9L510.1,405.6L509.6,405.1L509.4,404.9L509.0,404.4L508.8,403.9L508.6,403.4L508.4,402.6L508.3,402.1L508.2,401.4L508.2,400.6L508.3,399.9L508.5,399.4L508.6,398.9L508.9,398.4L509.1,397.9L509.4,397.4L509.7,396.9L510.0,396.4L510.3,395.9L510.6,395.4L510.8,394.9L511.1,394.4L511.4,394.0L511.6,393.6L512.0,393.1L512.4,392.6L512.6,392.3L513.0,391.9L513.4,391.5L513.9,391.1L514.3,390.9L514.8,390.6L515.4,390.4L515.9,390.3L516.6,390.1L517.1,390.0L517.8,389.9M517.5,390.4L518.1,390.3L518.9,390.2L519.6,390.2L520.4,390.3L520.9,390.4L521.6,390.6L522.1,390.7L522.6,390.9L523.1,391.1L523.6,391.4L524.1,391.7L524.6,392.0L525.1,392.3L525.5,392.6L525.9,392.9L526.4,393.4L526.6,393.6L527.1,394.1L527.4,394.4L527.9,394.8L528.2,395.1L528.6,395.5L529.0,395.9L529.4,396.3L529.6,396.6L530.0,397.1L530.2,397.6L530.5,398.1L530.8,398.6L531.1,399.1L531.4,399.4L531.7,399.9L532.0,400.4L532.2,400.9L532.3,401.6L532.2,402.4L532.0,402.9L531.8,403.4L531.5,403.9L531.2,404.4L530.9,404.8L530.6,405.2L530.4,405.6L530.1,406.1L529.9,406.6L529.6,407.3L529.4,407.9L529.1,408.3L528.8,408.6L528.2,408.9L527.6,409.0L526.9,409.1L526.4,409.3L525.9,409.6L525.6,410.0L525.3,410.4L525.0,410.9L524.6,411.3L524.2,411.6L523.8,411.9L523.1,412.1L522.4,412.1L521.7,411.9L521.2,411.6L520.8,411.4L520.4,411.0L519.9,410.7L519.4,410.5L518.9,410.3L518.3,410.1L517.6,409.9L517.1,409.8L516.6,409.6L516.0,409.4L515.6,409.1L515.1,408.8L514.6,408.4L514.3,408.1L513.9,407.6L513.6,407.4L513.2,406.9L512.9,406.5L512.5,406.1L512.1,405.8L511.6,405.4L511.2,405.1L510.9,404.9L510.4,404.5L510.0,404.1L509.7,403.6L509.5,403.1L509.4,402.4L509.4,401.6L509.6,400.9L509.8,400.4L509.9,399.9L510.1,399.2L510.3,398.6L510.4,398.1L510.6,397.6L510.9,396.9L511.1,396.4L511.3,395.9L511.5,395.4L511.8,394.9L512.0,394.4L512.3,393.9L512.6,393.4L512.9,392.9L513.1,392.5L513.5,392.1L513.9,391.7L514.3,391.4L514.8,391.1L515.4,390.9L515.9,390.7L516.4,390.6L517.1,390.4L517.5,390.4M517.0,390.9L517.6,390.8L518.4,390.7L519.1,390.7L519.9,390.7L520.6,390.9L521.1,391.0L521.6,391.2L522.2,391.4L522.8,391.6L523.3,391.9L523.8,392.1L524.2,392.4L524.6,392.7L525.1,393.1L525.4,393.4L525.9,393.9L526.1,394.1L526.6,394.6L526.9,395.0L527.3,395.4L527.6,395.7L528.1,396.1L528.4,396.4L528.7,396.9L529.0,397.4L529.2,397.9L529.4,398.5L529.6,399.0L529.9,399.4L530.4,399.8L530.7,400.1L531.1,400.6L531.4,401.1L531.5,401.6L531.4,402.4L531.2,402.9L531.0,403.4L530.7,403.9L530.4,404.3L530.1,404.6L529.8,405.1L529.5,405.6L529.2,406.1L528.9,406.6L528.6,406.9L528.1,407.3L527.6,407.6L527.1,407.7L526.4,407.9L525.9,408.0L525.4,408.3L525.1,408.6L524.7,409.1L524.4,409.6L524.1,410.0L523.8,410.4L523.4,410.7L522.8,410.9L522.4,410.9L521.6,410.6L521.1,410.4L520.6,410.1L520.1,409.9L519.6,409.7L519.1,409.6L518.4,409.5L517.9,409.4L517.1,409.2L516.6,409.0L516.1,408.8L515.6,408.5L515.1,408.1L514.9,407.9L514.4,407.4L514.1,407.0L513.8,406.6L513.4,406.1L513.1,405.8L512.7,405.4L512.4,405.0L511.9,404.6L511.6,404.4L511.1,403.9L510.9,403.6L510.6,403.1L510.4,402.4L510.5,401.6L510.6,401.1L510.8,400.4L511.0,399.9L511.1,399.2L511.2,398.6L511.4,398.1L511.6,397.4L511.7,396.9L511.9,396.4L512.1,395.8L512.4,395.2L512.6,394.6L512.8,394.1L513.1,393.6L513.4,393.1L513.6,392.7L513.9,392.4L514.4,391.9L514.8,391.6L515.3,391.4L515.9,391.2L516.4,391.0L517.0,390.9M518.1,391.1L518.9,391.1L519.4,391.2L520.1,391.3L520.6,391.4L521.3,391.6L521.9,391.8L522.4,392.0L522.9,392.2L523.4,392.5L523.9,392.8L524.2,393.1L524.6,393.5L525.0,393.9L525.3,394.4L525.6,394.9L525.9,395.2L526.2,395.6L526.6,396.1L526.9,396.4L527.4,396.9L527.6,397.2L527.9,397.8L528.0,398.4L528.1,399.1L528.1,399.6L528.4,400.2L528.9,400.6L529.4,400.9L529.8,401.1L530.1,401.4L530.4,401.9L530.4,402.4L530.1,403.1L529.9,403.6L529.6,404.0L529.3,404.4L529.0,404.9L528.7,405.4L528.4,405.7L528.0,406.1L527.6,406.4L527.1,406.7L526.4,406.9L525.9,407.0L525.4,407.2L524.9,407.4L524.4,407.9L524.1,408.1L523.7,408.6L523.4,409.1L523.0,409.4L522.4,409.6L521.6,409.5L521.0,409.4L520.4,409.2L519.9,409.1L519.1,409.0L518.4,408.9L517.9,408.8L517.1,408.6L516.6,408.5L516.1,408.2L515.6,407.9L515.3,407.6L514.9,407.2L514.6,406.9L514.3,406.4L513.9,405.9L513.6,405.5L513.3,405.1L512.9,404.6L512.6,404.4L512.2,403.9L511.9,403.5L511.6,403.1L511.4,402.5L511.3,401.9L511.4,401.4L511.6,400.6L511.7,400.1L511.8,399.4L511.9,398.9L512.0,398.1L512.1,397.6L512.4,396.9L512.5,396.4L512.7,395.9L512.9,395.4L513.1,394.8L513.4,394.2L513.6,393.6L513.9,393.2L514.1,392.8L514.5,392.4L514.9,392.1L515.4,391.8L515.9,391.6L516.5,391.4L517.1,391.2L517.9,391.1L518.1,391.1M517.3,391.6L517.9,391.6L518.6,391.6L519.3,391.6L519.9,391.7L520.4,391.9L521.1,392.1L521.6,392.2L522.1,392.4L522.6,392.7L523.1,392.9L523.6,393.3L523.9,393.6L524.3,394.1L524.6,394.6L524.8,395.1L525.0,395.6L525.2,396.1L525.5,396.6L525.9,397.0L526.1,397.4L526.5,397.9L526.7,398.4L526.8,399.1L526.8,399.9L526.9,400.4L527.1,401.0L527.4,401.4L527.8,401.9L528.1,402.2L528.5,402.6L528.6,403.4L528.4,404.0L528.1,404.5L527.9,404.9L527.4,405.4L527.0,405.6L526.4,405.9L525.9,406.0L525.4,406.2L524.8,406.4L524.4,406.7L523.9,407.1L523.6,407.4L523.1,407.9L522.9,408.1L522.4,408.4L521.7,408.6L521.1,408.6L520.6,408.6L519.9,408.5L519.1,408.4L518.6,408.4L517.9,408.3L517.2,408.1L516.6,407.9L516.1,407.6L515.8,407.4L515.4,407.0L515.1,406.6L514.7,406.1L514.4,405.7L514.1,405.4L513.8,404.9L513.4,404.4L513.1,404.0L512.8,403.6L512.5,403.1L512.2,402.6L512.1,402.0L512.1,401.5L512.2,400.9L512.3,400.1L512.4,399.5L512.4,398.9L512.6,398.1L512.7,397.6L512.9,396.9L513.0,396.4L513.2,395.9L513.4,395.4L513.6,394.8L513.9,394.2L514.1,393.7L514.4,393.3L514.7,392.9L515.1,392.5L515.6,392.2L516.1,391.9L516.6,391.8L517.3,391.6M517.0,392.1L517.6,392.0L518.4,392.0L519.1,392.1L519.6,392.1L520.4,392.3L520.9,392.5L521.4,392.7L521.9,392.9L522.4,393.1L522.9,393.4L523.4,393.9L523.6,394.2L523.9,394.6L524.1,395.4L524.2,395.9L524.4,396.4L524.6,397.1L524.9,397.5L525.1,398.0L525.4,398.4L525.6,399.1L525.7,399.6L525.9,400.3L526.0,400.9L526.2,401.4L526.4,401.9L526.6,402.4L526.9,403.1L526.9,403.6L526.8,404.1L526.4,404.6L526.0,404.9L525.4,405.1L524.9,405.3L524.4,405.6L524.0,405.9L523.6,406.2L523.2,406.6L522.9,406.9L522.4,407.4L522.0,407.6L521.4,407.9L520.9,407.9L520.1,408.0L519.4,407.9L518.6,407.9L518.1,407.8L517.4,407.6L516.9,407.5L516.4,407.2L516.0,406.9L515.6,406.6L515.2,406.1L514.9,405.6L514.6,405.3L514.3,404.9L514.0,404.4L513.7,403.9L513.4,403.4L513.1,403.0L512.9,402.4L512.8,401.9L512.8,401.1L512.8,400.4L512.8,399.6L512.9,399.1L513.0,398.4L513.1,397.7L513.3,397.1L513.4,396.6L513.6,396.1L513.9,395.4L514.1,394.9L514.3,394.4L514.5,393.9L514.9,393.4L515.1,393.1L515.6,392.7L516.1,392.4L516.6,392.2L517.0,392.1M516.9,392.6L517.4,392.5L518.1,392.4L518.9,392.5L519.6,392.6L520.1,392.7L520.6,392.9L521.3,393.1L521.9,393.4L522.3,393.6L522.6,393.9L523.1,394.4L523.3,394.9L523.5,395.4L523.6,396.1L523.7,396.6L523.9,397.3L524.1,397.9L524.3,398.4L524.5,398.9L524.7,399.4L524.9,399.9L525.1,400.6L525.2,401.1L525.3,401.9L525.4,402.4L525.4,403.1L525.2,403.6L524.9,404.0L524.4,404.4L524.1,404.6L523.6,405.0L523.2,405.4L522.9,405.7L522.5,406.1L522.1,406.5L521.7,406.9L521.2,407.1L520.6,407.3L520.1,407.4L519.4,407.4L518.7,407.4L518.1,407.3L517.4,407.1L516.9,406.9L516.4,406.6L516.1,406.4L515.6,405.9L515.4,405.6L515.1,405.1L514.7,404.6L514.4,404.1L514.1,403.7L513.9,403.3L513.6,402.8L513.4,402.1L513.3,401.6L513.3,400.9L513.3,400.1L513.3,399.4L513.4,398.6L513.4,398.1L513.6,397.4L513.8,396.9L513.9,396.4L514.1,395.9L514.4,395.3L514.6,394.7L514.9,394.2L515.1,393.8L515.5,393.4L515.9,393.1L516.4,392.8L516.9,392.6M517.0,393.1L517.6,393.0L518.4,392.9L519.1,393.0L519.7,393.1L520.4,393.3L520.9,393.5L521.4,393.7L521.9,394.0L522.3,394.4L522.6,394.8L522.9,395.4L523.0,395.9L523.1,396.6L523.2,397.1L523.4,397.9L523.5,398.4L523.7,398.9L523.9,399.5L524.1,400.1L524.2,400.6L524.3,401.4L524.3,402.1L524.1,402.8L523.9,403.2L523.5,403.6L523.1,404.0L522.8,404.4L522.4,404.9L522.1,405.2L521.8,405.6L521.4,406.1L521.0,406.4L520.5,406.6L519.9,406.8L519.1,406.9L518.4,406.8L517.6,406.6L517.1,406.4L516.6,406.1L516.3,405.9L515.9,405.4L515.6,405.1L515.2,404.6L514.9,404.1L514.6,403.7L514.4,403.2L514.1,402.7L513.9,402.1L513.8,401.6L513.7,400.9L513.7,400.1L513.7,399.4L513.7,398.6L513.9,397.9L514.0,397.4L514.2,396.9L514.4,396.4L514.6,395.8L514.9,395.2L515.1,394.8L515.4,394.4L515.8,393.9L516.1,393.6L516.6,393.3L517.0,393.1M517.4,393.6L518.1,393.5L518.9,393.5L519.6,393.6L520.1,393.7L520.6,393.9L521.1,394.1L521.6,394.5L522.0,394.9L522.3,395.4L522.4,395.9L522.6,396.6L522.7,397.1L522.8,397.9L522.9,398.4L523.1,399.1L523.2,399.6L523.4,400.4L523.4,400.9L523.4,401.6L523.3,402.1L523.0,402.6L522.6,403.1L522.4,403.4L522.0,403.9L521.6,404.4L521.4,404.7L521.1,405.1L520.6,405.6L520.3,405.9L519.7,406.1L519.1,406.2L518.4,406.2L517.9,406.1L517.3,405.9L516.8,405.6L516.4,405.3L516.0,404.9L515.6,404.4L515.4,404.1L515.1,403.6L514.8,403.1L514.6,402.6L514.4,402.1L514.2,401.4L514.1,400.8L514.1,400.1L514.1,399.4L514.1,398.6L514.2,398.1L514.4,397.5L514.6,396.9L514.8,396.4L515.1,395.9L515.3,395.4L515.6,394.9L515.9,394.6L516.4,394.1L516.8,393.9L517.4,393.6M518.2,394.1L518.9,394.1L519.6,394.1L520.1,394.3L520.6,394.5L521.1,394.8L521.5,395.1L521.8,395.6L521.9,396.1L522.1,396.9L522.2,397.4L522.3,398.1L522.4,398.6L522.5,399.4L522.6,400.0L522.7,400.6L522.6,401.2L522.4,401.9L522.1,402.4L521.9,402.7L521.6,403.1L521.2,403.6L520.9,404.0L520.6,404.4L520.2,404.9L519.9,405.2L519.4,405.4L518.6,405.6L517.9,405.5L517.4,405.3L516.9,405.0L516.4,404.6L516.1,404.3L515.7,403.9L515.4,403.4L515.1,402.9L514.9,402.4L514.8,401.9L514.6,401.3L514.5,400.6L514.4,399.9L514.4,399.1L514.5,398.4L514.6,397.9L514.9,397.2L515.1,396.7L515.4,396.3L515.6,395.9L516.0,395.4L516.4,395.0L516.9,394.6L517.4,394.4L517.9,394.2L518.2,394.1M518.0,394.9L518.6,394.7L519.4,394.7L520.1,394.9L520.6,395.1L520.9,395.4L521.3,395.9L521.5,396.4L521.6,396.9L521.8,397.6L521.9,398.4L521.9,398.9L522.0,399.6L522.0,400.4L521.9,401.1L521.7,401.6L521.4,402.1L521.1,402.6L520.9,402.9L520.5,403.4L520.1,403.9L519.9,404.1L519.4,404.6L518.9,404.8L518.4,404.9L517.9,404.8L517.3,404.6L516.9,404.4L516.4,403.9L516.1,403.6L515.7,403.1L515.5,402.6L515.3,402.1L515.1,401.6L515.0,400.9L514.9,400.3L514.8,399.6L514.8,398.9L514.9,398.4L515.1,397.7L515.4,397.2L515.6,396.8L515.9,396.4L516.4,395.9L516.7,395.6L517.1,395.3L517.6,395.0L518.0,394.9M518.8,395.4L519.4,395.4L519.9,395.5L520.4,395.8L520.7,396.1L521.0,396.6L521.1,397.1L521.3,397.9L521.4,398.6L521.4,399.1L521.4,399.9L521.3,400.4L521.2,401.1L521.0,401.6L520.7,402.1L520.4,402.6L520.1,402.9L519.7,403.4L519.4,403.7L518.9,404.1L518.4,404.2L517.6,404.1L517.1,403.9L516.7,403.6L516.4,403.3L516.1,402.9L515.8,402.4L515.6,401.9L515.4,401.1L515.3,400.6L515.3,399.9L515.2,399.1L515.4,398.4L515.5,397.9L515.8,397.4L516.1,397.0L516.5,396.6L516.9,396.3L517.4,396.0L517.9,395.7L518.4,395.5L518.8,395.4M518.2,396.4L518.9,396.2L519.6,396.2L520.1,396.6L520.4,396.9L520.6,397.6L520.7,398.1L520.8,398.9L520.7,399.6L520.6,400.3L520.5,400.9L520.3,401.4L520.1,401.9L519.8,402.4L519.4,402.9L519.1,403.1L518.6,403.4L517.9,403.6L517.3,403.4L516.9,403.1L516.5,402.6L516.2,402.1L516.0,401.6L515.9,401.0L515.8,400.4L515.7,399.6L515.8,398.9L515.9,398.4L516.2,397.9L516.6,397.4L516.9,397.1L517.4,396.8L517.9,396.5L518.2,396.4" fill="none" stroke="#000" stroke-width="0.78" stroke-linejoin="round"/></g>
<path d="M542.3,417.1h0.8M556.5,370.1h0.8M473.8,420.0h0.8M499.5,425.3h0.8M495.4,425.7h0.8M487.0,380.7h0.8M552.7,390.3h0.8M462.7,417.1h0.8M548.1,397.7h0.8M470.5,412.8h0.8M535.9,358.8h0.8M483.1,373.7h0.8M537.7,360.3h0.8M540.1,421.3h0.8M466.3,377.2h0.8M548.7,405.8h0.8M484.7,371.4h0.8M501.0,375.8h0.8M576.0,391.5h0.8M555.0,398.0h0.8M534.0,360.0h0.8M524.0,355.5h0.8M496.0,364.0h0.8M510.0,366.0h0.8" stroke="#222" stroke-width="0.80" fill="none"/>
<path d="M56.6,497.0v4.8M77.1,497.0v2.4M82.4,497.0v2.4M86.6,497.0v2.4M90.0,497.0v2.4M92.9,497.0v2.4M95.3,497.0v2.4M97.5,497.0v2.4M99.5,497.0v4.8M112.4,497.0v2.4M120.0,497.0v2.4M125.3,497.0v2.4M129.5,497.0v2.4M132.9,497.0v2.4M135.8,497.0v2.4M138.2,497.0v2.4M140.4,497.0v2.4M142.4,497.0v4.8M155.3,497.0v2.4M162.9,497.0v2.4M168.2,497.0v2.4M172.4,497.0v2.4M175.8,497.0v2.4M178.7,497.0v2.4M181.1,497.0v2.4M183.3,497.0v2.4M185.3,497.0v4.8M198.2,497.0v2.4M205.8,497.0v2.4M211.1,497.0v2.4M228.2,497.0v4.8M52.0,497.0h4.6M54.3,484.1h2.3M54.3,476.5h2.3M54.3,471.2h2.3M54.3,467.0h2.3M54.3,463.6h2.3M54.3,460.7h2.3M54.3,458.2h2.3M54.3,456.0h2.3M52.0,454.1h4.6M54.3,441.2h2.3M54.3,433.6h2.3M54.3,428.2h2.3M54.3,424.1h2.3M54.3,420.7h2.3M54.3,417.8h2.3M54.3,415.3h2.3M54.3,413.1h2.3M52.0,411.2h4.6M54.3,398.2h2.3M54.3,390.7h2.3M54.3,385.3h2.3M54.3,381.1h2.3M54.3,377.7h2.3M54.3,374.9h2.3M54.3,372.4h2.3M54.3,370.2h2.3M52.0,368.2h4.6M54.3,355.3h2.3M54.3,347.7h2.3M54.3,342.4h2.3M54.3,338.2h2.3M54.3,334.8h2.3M54.3,331.9h2.3M54.3,329.5h2.3M54.3,327.3h2.3M52.0,325.3h4.6" stroke="#222" stroke-width="0.8" fill="none"/>
<path d="M56.6,325.3H228.2V500.5" fill="none" stroke="#777" stroke-width="1.15" stroke-linejoin="round"/>
<path d="M56.6,325.3V501.8 M52.0,497.0H59.6 M71.8,497.0H213.6" fill="none" stroke="#222" stroke-width="0.9"/>
<path d="M120.0,325.3V497.0 M56.6,427.8H228.2" stroke="#ff0000" stroke-width="1.0" fill="none"/>
<text x="58.8" y="344.9" font-size="19" fill="#ff0000">99.2</text>
<text x="225.6" y="344.9" font-size="19" text-anchor="end" fill="#ff0000">0.847</text>
<text x="60.2" y="493.7" font-size="18.6" fill="#ff0000">0</text>
<text x="225.8" y="493.7" font-size="18.6" text-anchor="end" fill="#ff0000">0</text>
<path d="M256.0,497.0v4.8M276.5,497.0v2.4M281.8,497.0v2.4M286.0,497.0v2.4M289.4,497.0v2.4M292.3,497.0v2.4M294.7,497.0v2.4M296.9,497.0v2.4M298.9,497.0v4.8M311.8,497.0v2.4M319.4,497.0v2.4M324.7,497.0v2.4M328.9,497.0v2.4M332.3,497.0v2.4M335.2,497.0v2.4M337.6,497.0v2.4M339.8,497.0v2.4M341.8,497.0v4.8M354.7,497.0v2.4M362.3,497.0v2.4M367.6,497.0v2.4M371.8,497.0v2.4M375.2,497.0v2.4M378.1,497.0v2.4M380.5,497.0v2.4M382.7,497.0v2.4M384.7,497.0v4.8M397.6,497.0v2.4M405.2,497.0v2.4M410.5,497.0v2.4M427.6,497.0v4.8M251.4,497.0h4.6M253.7,484.1h2.3M253.7,476.5h2.3M253.7,471.2h2.3M253.7,467.0h2.3M253.7,463.6h2.3M253.7,460.7h2.3M253.7,458.2h2.3M253.7,456.0h2.3M251.4,454.1h4.6M253.7,441.2h2.3M253.7,433.6h2.3M253.7,428.2h2.3M253.7,424.1h2.3M253.7,420.7h2.3M253.7,417.8h2.3M253.7,415.3h2.3M253.7,413.1h2.3M251.4,411.2h4.6M253.7,398.2h2.3M253.7,390.7h2.3M253.7,385.3h2.3M253.7,381.1h2.3M253.7,377.7h2.3M253.7,374.9h2.3M253.7,372.4h2.3M253.7,370.2h2.3M251.4,368.2h4.6M253.7,355.3h2.3M253.7,347.7h2.3M253.7,342.4h2.3M253.7,338.2h2.3M253.7,334.8h2.3M253.7,331.9h2.3M253.7,329.5h2.3M253.7,327.3h2.3M251.4,325.3h4.6" stroke="#222" stroke-width="0.8" fill="none"/>
<path d="M256.0,325.3H427.6V500.5" fill="none" stroke="#777" stroke-width="1.15" stroke-linejoin="round"/>
<path d="M256.0,325.3V501.8 M251.4,497.0H259.0 M271.2,497.0H413.0" fill="none" stroke="#222" stroke-width="0.9"/>
<path d="M319.4,325.3V497.0 M256.0,427.8H427.6" stroke="#ff0000" stroke-width="1.0" fill="none"/>
<text x="258.2" y="344.9" font-size="19" fill="#ff0000">62.4</text>
<text x="425.0" y="344.9" font-size="19" text-anchor="end" fill="#ff0000">37.6</text>
<text x="259.6" y="493.7" font-size="18.6" fill="#ff0000">0</text>
<text x="425.2" y="493.7" font-size="18.6" text-anchor="end" fill="#ff0000">0</text>
<path d="M451.4,497.0v4.8M471.9,497.0v2.4M477.2,497.0v2.4M481.4,497.0v2.4M484.8,497.0v2.4M487.7,497.0v2.4M490.1,497.0v2.4M492.3,497.0v2.4M494.3,497.0v4.8M507.2,497.0v2.4M514.8,497.0v2.4M520.1,497.0v2.4M524.3,497.0v2.4M527.7,497.0v2.4M530.6,497.0v2.4M533.0,497.0v2.4M535.2,497.0v2.4M537.2,497.0v4.8M550.1,497.0v2.4M557.7,497.0v2.4M563.0,497.0v2.4M567.2,497.0v2.4M570.6,497.0v2.4M573.5,497.0v2.4M575.9,497.0v2.4M578.1,497.0v2.4M580.1,497.0v4.8M593.0,497.0v2.4M600.6,497.0v2.4M605.9,497.0v2.4M623.0,497.0v4.8M446.8,497.0h4.6M449.1,484.1h2.3M449.1,476.5h2.3M449.1,471.2h2.3M449.1,467.0h2.3M449.1,463.6h2.3M449.1,460.7h2.3M449.1,458.2h2.3M449.1,456.0h2.3M446.8,454.1h4.6M449.1,441.2h2.3M449.1,433.6h2.3M449.1,428.2h2.3M449.1,424.1h2.3M449.1,420.7h2.3M449.1,417.8h2.3M449.1,415.3h2.3M449.1,413.1h2.3M446.8,411.2h4.6M449.1,398.2h2.3M449.1,390.7h2.3M449.1,385.3h2.3M449.1,381.1h2.3M449.1,377.7h2.3M449.1,374.9h2.3M449.1,372.4h2.3M449.1,370.2h2.3M446.8,368.2h4.6M449.1,355.3h2.3M449.1,347.7h2.3M449.1,342.4h2.3M449.1,338.2h2.3M449.1,334.8h2.3M449.1,331.9h2.3M449.1,329.5h2.3M449.1,327.3h2.3M446.8,325.3h4.6" stroke="#222" stroke-width="0.8" fill="none"/>
<path d="M451.4,325.3H623.0V500.5" fill="none" stroke="#777" stroke-width="1.15" stroke-linejoin="round"/>
<path d="M451.4,325.3V501.8 M446.8,497.0H454.4 M466.6,497.0H608.4" fill="none" stroke="#222" stroke-width="0.9"/>
<path d="M514.4,325.3V497.0 M451.4,427.8H623.0" stroke="#ff0000" stroke-width="1.0" fill="none"/>
<text x="453.6" y="344.9" font-size="19" fill="#ff0000">44.5</text>
<text x="620.4" y="344.9" font-size="19" text-anchor="end" fill="#ff0000">55.5</text>
<text x="455.0" y="493.7" font-size="18.6" fill="#ff0000">0</text>
<text x="620.6" y="493.7" font-size="18.6" text-anchor="end" fill="#ff0000">0</text>
</svg></body></html>
